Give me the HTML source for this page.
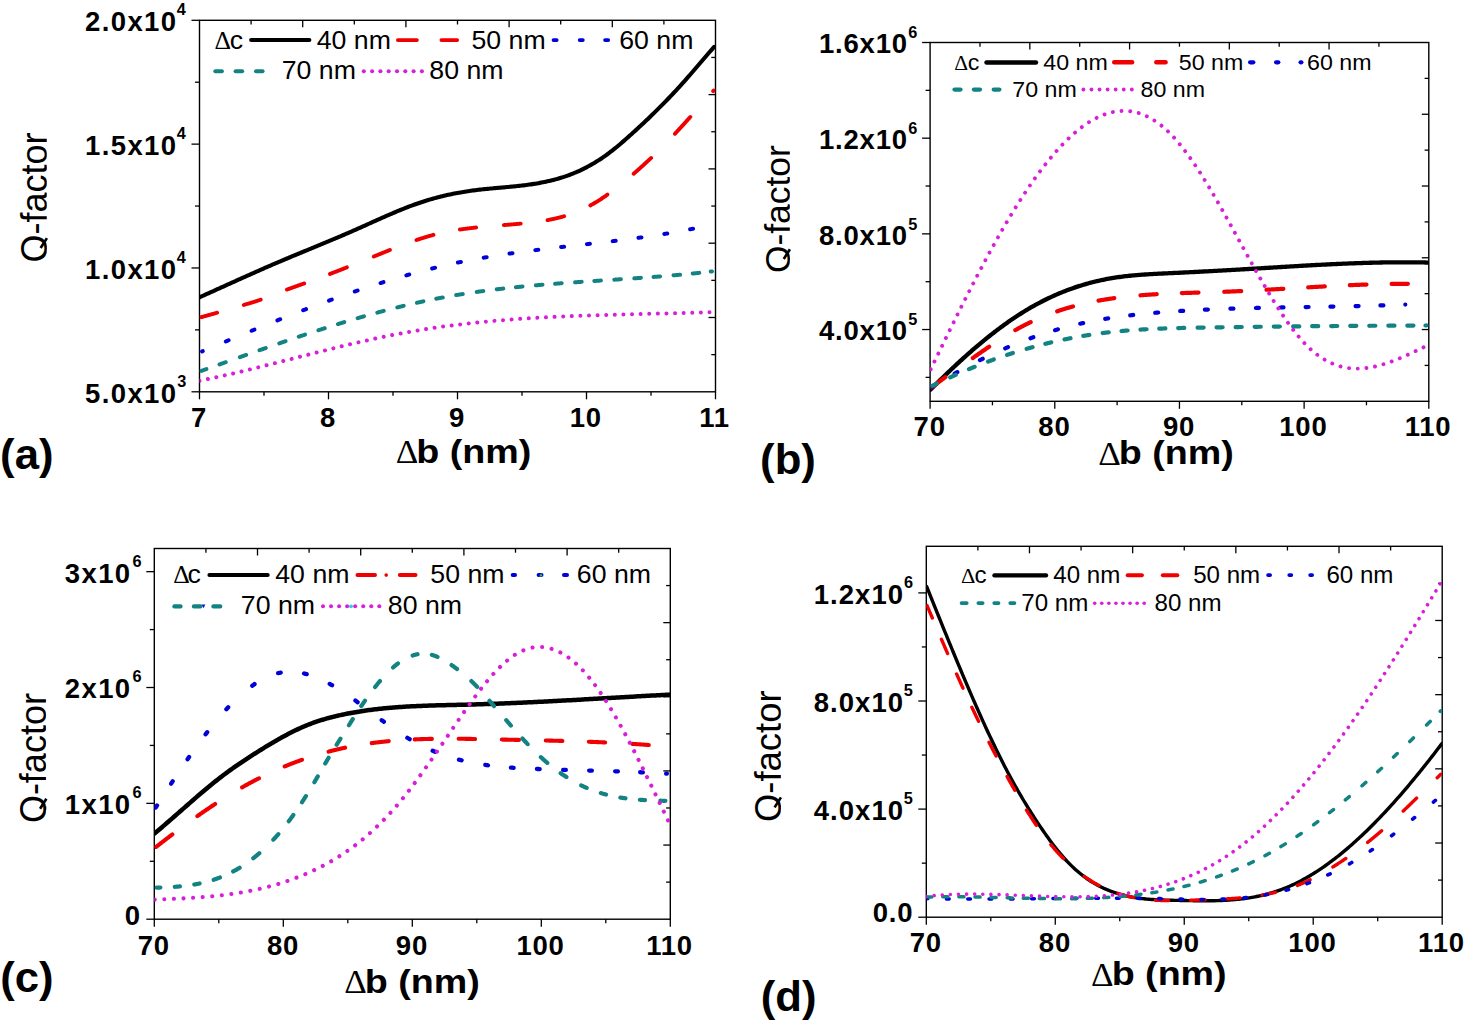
<!DOCTYPE html>
<html><head><meta charset="utf-8"><style>
html,body{margin:0;padding:0;background:#fff;}
svg{display:block;}
</style></head><body>
<svg width="1470" height="1024" viewBox="0 0 1470 1024">
<rect width="1470" height="1024" fill="#fff"/>
<clipPath id="ca"><rect x="199.5" y="20.3" width="516.0" height="371.5"/></clipPath>
<rect x="199.50" y="20.30" width="516.00" height="371.50" fill="none" stroke="#000" stroke-width="1.4"/>
<line x1="199.50" y1="391.80" x2="199.50" y2="399.30" stroke="#000" stroke-width="1.3" />
<line x1="328.50" y1="391.80" x2="328.50" y2="399.30" stroke="#000" stroke-width="1.3" />
<line x1="457.50" y1="391.80" x2="457.50" y2="399.30" stroke="#000" stroke-width="1.3" />
<line x1="586.50" y1="391.80" x2="586.50" y2="399.30" stroke="#000" stroke-width="1.3" />
<line x1="715.50" y1="391.80" x2="715.50" y2="399.30" stroke="#000" stroke-width="1.3" />
<line x1="264.00" y1="391.80" x2="264.00" y2="395.80" stroke="#000" stroke-width="1.3" />
<line x1="393.00" y1="391.80" x2="393.00" y2="395.80" stroke="#000" stroke-width="1.3" />
<line x1="522.00" y1="391.80" x2="522.00" y2="395.80" stroke="#000" stroke-width="1.3" />
<line x1="651.00" y1="391.80" x2="651.00" y2="395.80" stroke="#000" stroke-width="1.3" />
<line x1="199.50" y1="391.80" x2="191.50" y2="391.80" stroke="#000" stroke-width="1.3" />
<line x1="199.50" y1="267.97" x2="191.50" y2="267.97" stroke="#000" stroke-width="1.3" />
<line x1="199.50" y1="144.13" x2="191.50" y2="144.13" stroke="#000" stroke-width="1.3" />
<line x1="199.50" y1="20.30" x2="191.50" y2="20.30" stroke="#000" stroke-width="1.3" />
<line x1="199.50" y1="329.88" x2="195.00" y2="329.88" stroke="#000" stroke-width="1.3" />
<line x1="199.50" y1="206.05" x2="195.00" y2="206.05" stroke="#000" stroke-width="1.3" />
<line x1="199.50" y1="82.22" x2="195.00" y2="82.22" stroke="#000" stroke-width="1.3" />
<line x1="251.10" y1="20.30" x2="251.10" y2="24.50" stroke="#000" stroke-width="1.3" />
<line x1="715.50" y1="57.45" x2="711.30" y2="57.45" stroke="#000" stroke-width="1.3" />
<line x1="302.70" y1="20.30" x2="302.70" y2="27.30" stroke="#000" stroke-width="1.3" />
<line x1="715.50" y1="94.60" x2="708.50" y2="94.60" stroke="#000" stroke-width="1.3" />
<line x1="354.30" y1="20.30" x2="354.30" y2="24.50" stroke="#000" stroke-width="1.3" />
<line x1="715.50" y1="131.75" x2="711.30" y2="131.75" stroke="#000" stroke-width="1.3" />
<line x1="405.90" y1="20.30" x2="405.90" y2="27.30" stroke="#000" stroke-width="1.3" />
<line x1="715.50" y1="168.90" x2="708.50" y2="168.90" stroke="#000" stroke-width="1.3" />
<line x1="457.50" y1="20.30" x2="457.50" y2="24.50" stroke="#000" stroke-width="1.3" />
<line x1="715.50" y1="206.05" x2="711.30" y2="206.05" stroke="#000" stroke-width="1.3" />
<line x1="509.10" y1="20.30" x2="509.10" y2="27.30" stroke="#000" stroke-width="1.3" />
<line x1="715.50" y1="243.20" x2="708.50" y2="243.20" stroke="#000" stroke-width="1.3" />
<line x1="560.70" y1="20.30" x2="560.70" y2="24.50" stroke="#000" stroke-width="1.3" />
<line x1="715.50" y1="280.35" x2="711.30" y2="280.35" stroke="#000" stroke-width="1.3" />
<line x1="612.30" y1="20.30" x2="612.30" y2="27.30" stroke="#000" stroke-width="1.3" />
<line x1="715.50" y1="317.50" x2="708.50" y2="317.50" stroke="#000" stroke-width="1.3" />
<line x1="663.90" y1="20.30" x2="663.90" y2="24.50" stroke="#000" stroke-width="1.3" />
<line x1="715.50" y1="354.65" x2="711.30" y2="354.65" stroke="#000" stroke-width="1.3" />
<text transform="translate(84.95,31.20) scale(1.0,1)" style="font-family:'Liberation Sans', sans-serif;font-weight:bold;font-size:27.5px;letter-spacing:1.4px" fill="#000">2.0x10</text>
<text transform="translate(176.84,15.20) scale(1.0,1)" style="font-family:'Liberation Sans', sans-serif;font-weight:bold;font-size:16.3px" fill="#000">4</text>
<text transform="translate(84.95,155.03) scale(1.0,1)" style="font-family:'Liberation Sans', sans-serif;font-weight:bold;font-size:27.5px;letter-spacing:1.4px" fill="#000">1.5x10</text>
<text transform="translate(176.84,139.03) scale(1.0,1)" style="font-family:'Liberation Sans', sans-serif;font-weight:bold;font-size:16.3px" fill="#000">4</text>
<text transform="translate(84.95,278.87) scale(1.0,1)" style="font-family:'Liberation Sans', sans-serif;font-weight:bold;font-size:27.5px;letter-spacing:1.4px" fill="#000">1.0x10</text>
<text transform="translate(176.84,262.87) scale(1.0,1)" style="font-family:'Liberation Sans', sans-serif;font-weight:bold;font-size:16.3px" fill="#000">4</text>
<text transform="translate(84.95,402.70) scale(1.0,1)" style="font-family:'Liberation Sans', sans-serif;font-weight:bold;font-size:27.5px;letter-spacing:1.4px" fill="#000">5.0x10</text>
<text transform="translate(177.32,386.70) scale(1.0,1)" style="font-family:'Liberation Sans', sans-serif;font-weight:bold;font-size:16.3px" fill="#000">3</text>
<text transform="translate(190.97,426.80) scale(1.0,1)" style="font-family:'Liberation Sans', sans-serif;font-weight:bold;font-size:27.5px;letter-spacing:0.8px" fill="#000">7</text>
<text transform="translate(319.97,426.80) scale(1.0,1)" style="font-family:'Liberation Sans', sans-serif;font-weight:bold;font-size:27.5px;letter-spacing:0.8px" fill="#000">8</text>
<text transform="translate(448.97,426.80) scale(1.0,1)" style="font-family:'Liberation Sans', sans-serif;font-weight:bold;font-size:27.5px;letter-spacing:0.8px" fill="#000">9</text>
<text transform="translate(569.66,426.80) scale(1.0,1)" style="font-family:'Liberation Sans', sans-serif;font-weight:bold;font-size:27.5px;letter-spacing:0.8px" fill="#000">10</text>
<text transform="translate(699.21,426.80) scale(1.0,1)" style="font-family:'Liberation Sans', sans-serif;font-weight:bold;font-size:27.5px;letter-spacing:0.8px" fill="#000">11</text>
<text transform="translate(395.70,463.40) scale(1.07,1)" style="font-family:'Liberation Serif', serif;font-weight:normal;font-size:32.8px" fill="#000">Δ</text>
<text transform="translate(416.25,463.20) scale(1.155,1)" style="font-family:'Liberation Sans', sans-serif;font-weight:bold;font-size:32.6px" fill="#000">b (nm)</text>
<text transform="translate(0.12,469.30) scale(1.04,1)" style="font-family:'Liberation Sans', sans-serif;font-weight:bold;font-size:42px" fill="#000">(a)</text>
<clipPath id="qc0"><rect x="-33.45" y="40.80" width="80.30" height="260"/></clipPath>
<g clip-path="url(#qc0)"><text transform="translate(46.55,262.42) scale(1.0,1) rotate(-90)" style="font-family:'Liberation Sans', sans-serif;font-weight:normal;font-size:36px">Q-factor</text></g>
<line x1="40.61" y1="248.02" x2="46.91" y2="238.12" stroke="#000" stroke-width="2.66" stroke-linecap="butt"/>
<path d="M199.40,297.34 L200.90,296.67 L202.40,296.00 L203.90,295.32 L205.40,294.65 L206.90,293.97 L208.40,293.30 L209.90,292.62 L211.40,291.94 L212.90,291.26 L214.40,290.59 L215.90,289.91 L217.40,289.23 L218.90,288.55 L220.40,287.87 L221.90,287.19 L223.40,286.52 L224.90,285.84 L226.40,285.16 L227.90,284.48 L229.40,283.80 L230.90,283.12 L232.40,282.45 L233.90,281.77 L235.40,281.09 L236.90,280.42 L238.40,279.74 L239.90,279.06 L241.40,278.39 L242.90,277.72 L244.40,277.04 L245.90,276.37 L247.40,275.70 L248.90,275.03 L250.40,274.36 L251.90,273.69 L253.40,273.03 L254.90,272.36 L256.40,271.69 L257.90,271.03 L259.40,270.37 L260.90,269.71 L262.40,269.05 L263.90,268.39 L265.40,267.74 L266.90,267.08 L268.40,266.43 L269.90,265.78 L271.40,265.13 L272.90,264.48 L274.40,263.84 L275.90,263.19 L277.40,262.55 L278.90,261.91 L280.40,261.28 L281.90,260.64 L283.40,260.01 L284.90,259.37 L286.40,258.74 L287.90,258.11 L289.40,257.49 L290.90,256.86 L292.40,256.23 L293.90,255.61 L295.40,254.99 L296.90,254.36 L298.40,253.74 L299.90,253.12 L301.40,252.50 L302.90,251.88 L304.40,251.26 L305.90,250.64 L307.40,250.02 L308.90,249.40 L310.40,248.79 L311.90,248.17 L313.40,247.55 L314.90,246.93 L316.40,246.31 L317.90,245.69 L319.40,245.07 L320.90,244.45 L322.40,243.83 L323.90,243.20 L325.40,242.58 L326.90,241.96 L328.40,241.33 L329.90,240.70 L331.40,240.08 L332.90,239.45 L334.40,238.82 L335.90,238.18 L337.40,237.55 L338.90,236.92 L340.40,236.28 L341.90,235.64 L343.40,235.00 L344.90,234.36 L346.40,233.71 L347.90,233.06 L349.40,232.41 L350.90,231.76 L352.40,231.11 L353.90,230.45 L355.40,229.79 L356.90,229.13 L358.40,228.46 L359.90,227.79 L361.40,227.12 L362.90,226.45 L364.40,225.78 L365.90,225.10 L367.40,224.43 L368.90,223.75 L370.40,223.08 L371.90,222.40 L373.40,221.73 L374.90,221.05 L376.40,220.38 L377.90,219.71 L379.40,219.04 L380.90,218.37 L382.40,217.70 L383.90,217.04 L385.40,216.38 L386.90,215.72 L388.40,215.07 L389.90,214.41 L391.40,213.77 L392.90,213.13 L394.40,212.49 L395.90,211.86 L397.40,211.23 L398.90,210.61 L400.40,210.00 L401.90,209.39 L403.40,208.79 L404.90,208.19 L406.40,207.60 L407.90,207.02 L409.40,206.45 L410.90,205.89 L412.40,205.33 L413.90,204.78 L415.40,204.24 L416.90,203.72 L418.40,203.20 L419.90,202.69 L421.40,202.19 L422.90,201.70 L424.40,201.22 L425.90,200.75 L427.40,200.29 L428.90,199.83 L430.40,199.39 L431.90,198.96 L433.40,198.53 L434.90,198.12 L436.40,197.71 L437.90,197.32 L439.40,196.93 L440.90,196.55 L442.40,196.18 L443.90,195.82 L445.40,195.47 L446.90,195.12 L448.40,194.79 L449.90,194.46 L451.40,194.15 L452.90,193.84 L454.40,193.54 L455.90,193.24 L457.40,192.96 L458.90,192.69 L460.40,192.42 L461.90,192.16 L463.40,191.91 L464.90,191.66 L466.40,191.43 L467.90,191.20 L469.40,190.98 L470.90,190.77 L472.40,190.57 L473.90,190.37 L475.40,190.18 L476.90,190.00 L478.40,189.82 L479.90,189.65 L481.40,189.48 L482.90,189.32 L484.40,189.16 L485.90,189.01 L487.40,188.86 L488.90,188.72 L490.40,188.57 L491.90,188.43 L493.40,188.29 L494.90,188.16 L496.40,188.02 L497.90,187.89 L499.40,187.75 L500.90,187.62 L502.40,187.48 L503.90,187.35 L505.40,187.21 L506.90,187.07 L508.40,186.93 L509.90,186.79 L511.40,186.65 L512.90,186.50 L514.40,186.35 L515.90,186.20 L517.40,186.04 L518.90,185.87 L520.40,185.71 L521.90,185.53 L523.40,185.35 L524.90,185.17 L526.40,184.97 L527.90,184.77 L529.40,184.57 L530.90,184.35 L532.40,184.13 L533.90,183.90 L535.40,183.66 L536.90,183.41 L538.40,183.15 L539.90,182.88 L541.40,182.60 L542.90,182.31 L544.40,182.01 L545.90,181.69 L547.40,181.37 L548.90,181.03 L550.40,180.68 L551.90,180.31 L553.40,179.93 L554.90,179.54 L556.40,179.13 L557.90,178.71 L559.40,178.27 L560.90,177.82 L562.40,177.35 L563.90,176.87 L565.40,176.36 L566.90,175.84 L568.40,175.31 L569.90,174.75 L571.40,174.18 L572.90,173.59 L574.40,172.97 L575.90,172.34 L577.40,171.69 L578.90,171.02 L580.40,170.33 L581.90,169.62 L583.40,168.88 L584.90,168.13 L586.40,167.35 L587.90,166.56 L589.40,165.74 L590.90,164.90 L592.40,164.04 L593.90,163.16 L595.40,162.26 L596.90,161.33 L598.40,160.38 L599.90,159.41 L601.40,158.42 L602.90,157.41 L604.40,156.37 L605.90,155.31 L607.40,154.22 L608.90,153.11 L610.40,151.98 L611.90,150.83 L613.40,149.65 L614.90,148.45 L616.40,147.23 L617.90,145.99 L619.40,144.73 L620.90,143.46 L622.40,142.17 L623.90,140.87 L625.40,139.56 L626.90,138.23 L628.40,136.90 L629.90,135.56 L631.40,134.21 L632.90,132.85 L634.40,131.49 L635.90,130.12 L637.40,128.74 L638.90,127.36 L640.40,125.97 L641.90,124.57 L643.40,123.17 L644.90,121.76 L646.40,120.34 L647.90,118.91 L649.40,117.47 L650.90,116.02 L652.40,114.57 L653.90,113.11 L655.40,111.64 L656.90,110.16 L658.40,108.67 L659.90,107.17 L661.40,105.66 L662.90,104.15 L664.40,102.62 L665.90,101.08 L667.40,99.53 L668.90,97.98 L670.40,96.41 L671.90,94.83 L673.40,93.24 L674.90,91.64 L676.40,90.03 L677.90,88.40 L679.40,86.77 L680.90,85.12 L682.40,83.47 L683.90,81.80 L685.40,80.11 L686.90,78.42 L688.40,76.71 L689.90,74.99 L691.40,73.26 L692.90,71.52 L694.40,69.77 L695.90,68.02 L697.40,66.26 L698.90,64.50 L700.40,62.73 L701.90,60.97 L703.40,59.21 L704.90,57.46 L706.40,55.71 L707.90,53.98 L709.40,52.25 L710.90,50.53 L712.40,48.83 L713.90,47.15 L714.10,46.93" fill="none" stroke="#000000" stroke-width="4.1" stroke-linecap="round" stroke-linejoin="round" clip-path="url(#ca)"/>
<path d="M201.28,317.14 L201.40,317.11 L201.80,317.00 L202.20,316.89 L202.60,316.78 L203.00,316.67 L203.40,316.55 L203.80,316.44 L204.20,316.33 L204.60,316.22 L205.00,316.11 L205.40,316.00 L205.80,315.89 L206.20,315.78 L206.60,315.67 L207.00,315.56 L207.40,315.45 L207.80,315.34 L208.20,315.22 L208.60,315.11 L209.00,315.00 L209.40,314.89 L209.80,314.78 L210.20,314.67 L210.60,314.56 L211.00,314.44 L211.40,314.33 L211.80,314.22 L212.20,314.11 L212.60,314.00 L213.00,313.89 L213.40,313.77 L213.80,313.66 L214.20,313.55 L214.60,313.44 L215.00,313.32 L215.40,313.21 L215.80,313.10 L216.20,312.99 L216.60,312.87 L217.00,312.76 L217.12,312.73 M243.77,304.98 L243.80,304.97 L244.20,304.85 L244.60,304.73 L245.00,304.61 L245.40,304.48 L245.80,304.36 L246.20,304.24 L246.60,304.12 L247.00,304.00 L247.40,303.88 L247.80,303.76 L248.20,303.63 L248.60,303.51 L249.00,303.39 L249.40,303.27 L249.80,303.14 L250.20,303.02 L250.60,302.90 L251.00,302.77 L251.40,302.65 L251.80,302.53 L252.20,302.40 L252.60,302.28 L253.00,302.16 L253.40,302.03 L253.80,301.91 L254.20,301.78 L254.60,301.66 L255.00,301.53 L255.40,301.41 L255.80,301.28 L256.20,301.15 L256.60,301.02 L257.00,300.90 L257.40,300.77 L257.80,300.64 L258.20,300.51 L258.60,300.38 L259.00,300.24 L259.40,300.11 L259.80,299.98 L260.20,299.84 L260.60,299.71 L260.66,299.69 M286.92,289.61 L287.00,289.58 L287.40,289.44 L287.80,289.29 L288.20,289.14 L288.60,288.99 L289.00,288.84 L289.40,288.70 L289.80,288.55 L290.20,288.40 L290.60,288.26 L291.00,288.11 L291.40,287.97 L291.80,287.83 L292.20,287.68 L292.60,287.54 L293.00,287.39 L293.40,287.25 L293.80,287.11 L294.20,286.97 L294.60,286.82 L295.00,286.68 L295.40,286.54 L295.80,286.40 L296.20,286.26 L296.60,286.11 L297.00,285.97 L297.40,285.83 L297.80,285.69 L298.20,285.55 L298.60,285.41 L299.00,285.27 L299.40,285.13 L299.80,284.99 L300.20,284.85 L300.60,284.71 L301.00,284.56 L301.40,284.42 L301.80,284.28 L302.20,284.14 L302.60,284.00 L303.00,283.86 L303.40,283.72 L303.80,283.58 L304.16,283.45 M330.02,273.92 L330.20,273.85 L330.60,273.70 L331.00,273.55 L331.40,273.40 L331.80,273.24 L332.20,273.09 L332.60,272.94 L333.00,272.78 L333.40,272.63 L333.80,272.47 L334.20,272.32 L334.60,272.17 L335.00,272.01 L335.40,271.86 L335.80,271.70 L336.20,271.55 L336.60,271.39 L337.00,271.24 L337.40,271.08 L337.80,270.93 L338.20,270.77 L338.60,270.62 L339.00,270.46 L339.40,270.31 L339.80,270.15 L340.20,269.99 L340.60,269.84 L341.00,269.68 L341.40,269.53 L341.80,269.37 L342.20,269.21 L342.60,269.06 L343.00,268.90 L343.40,268.74 L343.80,268.59 L344.20,268.43 L344.60,268.27 L345.00,268.11 L345.40,267.96 L345.80,267.80 L346.20,267.64 L346.60,267.48 L346.89,267.37 M373.80,256.53 L374.20,256.36 L374.60,256.20 L375.00,256.04 L375.40,255.87 L375.80,255.71 L376.20,255.54 L376.60,255.38 L377.00,255.22 L377.40,255.05 L377.80,254.89 L378.20,254.73 L378.60,254.56 L379.00,254.40 L379.40,254.23 L379.80,254.07 L380.20,253.91 L380.60,253.74 L381.00,253.58 L381.40,253.42 L381.80,253.25 L382.20,253.09 L382.60,252.93 L383.00,252.76 L383.40,252.60 L383.80,252.44 L384.20,252.28 L384.60,252.11 L385.00,251.95 L385.40,251.79 L385.80,251.63 L386.20,251.46 L386.60,251.30 L387.00,251.14 L387.40,250.98 L387.80,250.82 L388.20,250.65 L388.60,250.49 L389.00,250.33 L389.40,250.17 L389.80,250.01 L389.89,249.98 M416.45,240.02 L416.60,239.97 L417.00,239.83 L417.40,239.70 L417.80,239.57 L418.20,239.43 L418.60,239.30 L419.00,239.17 L419.40,239.04 L419.80,238.91 L420.20,238.78 L420.60,238.65 L421.00,238.52 L421.40,238.39 L421.80,238.27 L422.20,238.14 L422.60,238.01 L423.00,237.89 L423.40,237.76 L423.80,237.64 L424.20,237.52 L424.60,237.40 L425.00,237.27 L425.40,237.15 L425.80,237.03 L426.20,236.91 L426.60,236.79 L427.00,236.68 L427.40,236.56 L427.80,236.44 L428.20,236.32 L428.60,236.21 L429.00,236.09 L429.40,235.98 L429.80,235.87 L430.20,235.76 L430.60,235.64 L431.00,235.53 L431.40,235.42 L431.80,235.31 L432.20,235.21 L432.60,235.10 L433.00,234.99 L433.40,234.89 L433.41,234.88 M459.93,229.54 L460.20,229.50 L460.60,229.44 L461.00,229.38 L461.40,229.32 L461.80,229.26 L462.20,229.21 L462.60,229.15 L463.00,229.09 L463.40,229.04 L463.80,228.98 L464.20,228.93 L464.60,228.88 L465.00,228.82 L465.40,228.77 L465.80,228.72 L466.20,228.66 L466.60,228.61 L467.00,228.56 L467.40,228.51 L467.80,228.46 L468.20,228.41 L468.60,228.36 L469.00,228.31 L469.40,228.26 L469.80,228.22 L470.20,228.17 L470.60,228.12 L471.00,228.07 L471.40,228.03 L471.80,227.98 L472.20,227.94 L472.60,227.89 L473.00,227.85 L473.40,227.80 L473.80,227.76 L474.20,227.71 L474.60,227.67 L475.00,227.62 L475.40,227.58 L475.80,227.54 L476.06,227.51 M503.84,225.07 L504.20,225.04 L504.60,225.01 L505.00,224.98 L505.40,224.95 L505.80,224.91 L506.20,224.88 L506.60,224.85 L507.00,224.82 L507.40,224.78 L507.80,224.75 L508.20,224.72 L508.60,224.69 L509.00,224.65 L509.40,224.62 L509.80,224.59 L510.20,224.55 L510.60,224.52 L511.00,224.49 L511.40,224.45 L511.80,224.42 L512.20,224.39 L512.60,224.35 L513.00,224.32 L513.40,224.28 L513.80,224.25 L514.20,224.21 L514.60,224.18 L515.00,224.15 L515.40,224.11 L515.80,224.08 L516.20,224.04 L516.60,224.00 L517.00,223.97 L517.40,223.93 L517.80,223.90 L518.20,223.86 L518.60,223.82 L519.00,223.79 L519.40,223.75 L519.80,223.71 L520.20,223.68 L520.60,223.64 L520.66,223.63 M547.52,220.12 L547.80,220.07 L548.20,219.99 L548.60,219.92 L549.00,219.84 L549.40,219.76 L549.80,219.69 L550.20,219.61 L550.60,219.53 L551.00,219.45 L551.40,219.36 L551.80,219.28 L552.20,219.20 L552.60,219.11 L553.00,219.03 L553.40,218.94 L553.80,218.85 L554.20,218.76 L554.60,218.67 L555.00,218.58 L555.40,218.49 L555.80,218.40 L556.20,218.31 L556.60,218.21 L557.00,218.11 L557.40,218.02 L557.80,217.92 L558.20,217.82 L558.60,217.72 L559.00,217.62 L559.40,217.52 L559.80,217.41 L560.20,217.31 L560.60,217.20 L561.00,217.09 L561.40,216.99 L561.80,216.88 L562.20,216.77 L562.60,216.65 L563.00,216.54 L563.40,216.43 L563.80,216.31 L564.13,216.21 M590.32,205.45 L590.60,205.30 L591.00,205.08 L591.40,204.86 L591.80,204.63 L592.20,204.41 L592.60,204.18 L593.00,203.95 L593.40,203.72 L593.80,203.49 L594.20,203.25 L594.60,203.02 L595.00,202.78 L595.40,202.54 L595.80,202.30 L596.20,202.06 L596.60,201.81 L597.00,201.57 L597.40,201.32 L597.80,201.07 L598.20,200.82 L598.60,200.57 L599.00,200.32 L599.40,200.06 L599.80,199.81 L600.20,199.55 L600.60,199.29 L601.00,199.03 L601.40,198.76 L601.80,198.50 L602.20,198.24 L602.60,197.97 L603.00,197.70 L603.40,197.43 L603.80,197.16 L604.20,196.89 L604.60,196.61 L605.00,196.34 L605.40,196.06 L605.80,195.78 L606.20,195.50 L606.60,195.22 L607.00,194.94 L607.40,194.66 L607.42,194.65 M633.68,173.71 L633.80,173.61 L634.20,173.26 L634.60,172.91 L635.00,172.57 L635.40,172.22 L635.80,171.87 L636.20,171.52 L636.60,171.17 L637.00,170.82 L637.40,170.47 L637.80,170.12 L638.20,169.76 L638.60,169.41 L639.00,169.05 L639.40,168.70 L639.80,168.34 L640.20,167.99 L640.60,167.63 L641.00,167.27 L641.40,166.91 L641.80,166.55 L642.20,166.19 L642.60,165.83 L643.00,165.47 L643.40,165.11 L643.80,164.74 L644.20,164.38 L644.60,164.01 L645.00,163.65 L645.40,163.28 L645.80,162.91 L646.20,162.54 L646.60,162.17 L647.00,161.80 L647.40,161.43 L647.80,161.06 L648.20,160.69 L648.60,160.31 L649.00,159.94 L649.40,159.56 L649.80,159.19 L650.20,158.81 L650.60,158.43 L651.00,158.05 L651.09,157.96 M674.93,133.76 L675.00,133.69 L675.40,133.26 L675.80,132.83 L676.20,132.40 L676.60,131.97 L677.00,131.54 L677.40,131.11 L677.80,130.68 L678.20,130.25 L678.60,129.82 L679.00,129.38 L679.40,128.95 L679.80,128.51 L680.20,128.08 L680.60,127.64 L681.00,127.21 L681.40,126.77 L681.80,126.34 L682.20,125.90 L682.60,125.46 L683.00,125.02 L683.40,124.58 L683.80,124.14 L684.20,123.70 L684.60,123.26 L685.00,122.82 L685.40,122.38 L685.80,121.94 L686.20,121.50 L686.60,121.06 L687.00,120.61 L687.40,120.17 L687.80,119.73 L688.20,119.28 L688.60,118.84 L689.00,118.40 L689.40,117.95 L689.80,117.51 L690.20,117.06 L690.30,116.95 M713.19,91.10 L713.40,90.86 L713.71,90.51" fill="none" stroke="#f00000" stroke-width="3.9" stroke-linecap="round" stroke-linejoin="round" clip-path="url(#ca)"/>
<path d="M202.14,351.37 L202.30,351.30 L202.70,351.13 L202.78,351.10 M225.82,341.44 L225.90,341.40 L226.30,341.24 L226.70,341.07 L227.10,340.90 L227.50,340.74 L227.90,340.57 L228.30,340.40 L228.58,340.28 M251.61,330.76 L251.90,330.64 L252.30,330.48 L252.70,330.31 L253.10,330.15 L253.50,329.98 L253.90,329.82 L254.30,329.66 L254.39,329.62 M277.41,320.32 L277.50,320.28 L277.90,320.13 L278.30,319.97 L278.70,319.81 L279.10,319.65 L279.50,319.49 L279.90,319.33 L280.19,319.21 M303.20,310.23 L303.50,310.12 L303.90,309.96 L304.30,309.81 L304.70,309.66 L305.10,309.51 L305.50,309.35 L305.90,309.20 L306.00,309.16 M328.99,300.59 L329.10,300.55 L329.50,300.40 L329.90,300.26 L330.30,300.11 L330.70,299.97 L331.10,299.82 L331.50,299.68 L331.81,299.57 M354.78,291.49 L355.10,291.38 L355.50,291.25 L355.90,291.11 L356.30,290.97 L356.70,290.84 L357.10,290.70 L357.50,290.57 L357.62,290.53 M380.57,283.04 L380.70,283.00 L381.10,282.87 L381.50,282.75 L381.90,282.62 L382.30,282.50 L382.70,282.37 L383.10,282.25 L383.43,282.15 M406.36,275.34 L406.70,275.24 L407.10,275.13 L407.50,275.01 L407.90,274.90 L408.30,274.79 L408.70,274.68 L409.10,274.57 L409.24,274.53 M432.14,268.48 L432.30,268.44 L432.70,268.34 L433.10,268.24 L433.50,268.15 L433.90,268.05 L434.30,267.95 L434.70,267.85 L435.06,267.76 M457.93,262.57 L458.30,262.49 L458.70,262.41 L459.10,262.33 L459.50,262.24 L459.90,262.16 L460.30,262.08 L460.70,262.00 L460.87,261.96 M483.72,257.66 L483.90,257.63 L484.30,257.56 L484.70,257.50 L485.10,257.43 L485.50,257.36 L485.90,257.29 L486.30,257.22 L486.68,257.16 M509.52,253.60 L509.90,253.54 L510.30,253.49 L510.70,253.43 L511.10,253.37 L511.50,253.31 L511.90,253.26 L512.30,253.20 L512.49,253.17 M535.31,250.14 L535.50,250.12 L535.90,250.07 L536.30,250.02 L536.70,249.97 L537.10,249.92 L537.50,249.87 L537.90,249.82 L538.29,249.77 M561.11,247.07 L561.50,247.02 L561.90,246.98 L562.30,246.93 L562.70,246.89 L563.10,246.84 L563.50,246.80 L563.90,246.75 L564.09,246.73 M586.91,244.14 L587.10,244.12 L587.50,244.08 L587.90,244.03 L588.30,243.99 L588.70,243.94 L589.10,243.90 L589.50,243.85 L589.89,243.81 M612.71,241.14 L613.10,241.09 L613.50,241.04 L613.90,240.99 L614.30,240.94 L614.70,240.90 L615.10,240.85 L615.50,240.80 L615.69,240.77 M638.51,237.82 L638.70,237.79 L639.10,237.74 L639.50,237.68 L639.90,237.63 L640.30,237.57 L640.70,237.52 L641.10,237.46 L641.49,237.41 M664.32,233.96 L664.70,233.90 L665.10,233.83 L665.50,233.76 L665.90,233.70 L666.30,233.63 L666.70,233.57 L667.10,233.50 L667.28,233.47 M690.13,229.32 L690.30,229.29 L690.70,229.21 L691.10,229.13 L691.50,229.05 L691.90,228.97 L692.30,228.89 L692.70,228.81 L693.07,228.73" fill="none" stroke="#0000d8" stroke-width="4.0" stroke-linecap="round" stroke-linejoin="round" clip-path="url(#ca)"/>
<path d="M201.28,370.90 L201.40,370.86 L201.80,370.72 L202.20,370.57 L202.60,370.43 L203.00,370.29 L203.40,370.15 L203.80,370.00 L204.20,369.86 L204.60,369.72 L205.00,369.58 L205.40,369.44 L205.80,369.29 L206.20,369.15 L206.41,369.08 M219.49,364.41 L219.80,364.30 L220.20,364.16 L220.60,364.02 L221.00,363.87 L221.40,363.73 L221.80,363.59 L222.20,363.45 L222.60,363.30 L223.00,363.16 L223.40,363.02 L223.80,362.87 L224.20,362.73 L224.60,362.59 L225.00,362.45 L225.40,362.30 L225.71,362.19 M239.89,357.15 L240.20,357.04 L240.60,356.89 L241.00,356.75 L241.40,356.61 L241.80,356.47 L242.20,356.33 L242.60,356.18 L243.00,356.04 L243.40,355.90 L243.80,355.76 L244.20,355.62 L244.60,355.47 L245.00,355.33 L245.40,355.19 L245.80,355.05 L246.11,354.94 M259.49,350.22 L259.80,350.11 L260.20,349.97 L260.60,349.83 L261.00,349.69 L261.40,349.55 L261.80,349.41 L262.20,349.27 L262.60,349.13 L263.00,348.99 L263.40,348.85 L263.80,348.71 L264.20,348.57 L264.60,348.43 L265.00,348.29 L265.40,348.15 L265.71,348.04 M279.28,343.33 L279.40,343.29 L279.80,343.15 L280.20,343.02 L280.60,342.88 L281.00,342.74 L281.40,342.60 L281.80,342.47 L282.20,342.33 L282.60,342.19 L283.00,342.06 L283.40,341.92 L283.80,341.78 L284.20,341.64 L284.60,341.51 L285.00,341.37 L285.40,341.23 L285.52,341.19 M298.77,336.71 L299.00,336.63 L299.40,336.50 L299.80,336.36 L300.20,336.23 L300.60,336.10 L301.00,335.96 L301.40,335.83 L301.80,335.70 L302.20,335.56 L302.60,335.43 L303.00,335.30 L303.40,335.16 L303.80,335.03 L304.20,334.90 L304.60,334.76 L305.00,334.63 L305.03,334.62 M318.46,330.23 L318.60,330.18 L319.00,330.05 L319.40,329.92 L319.80,329.79 L320.20,329.66 L320.60,329.54 L321.00,329.41 L321.40,329.28 L321.80,329.15 L322.20,329.02 L322.60,328.89 L323.00,328.77 L323.40,328.64 L323.80,328.51 L324.20,328.38 L324.60,328.25 L324.74,328.21 M337.95,324.07 L338.20,323.99 L338.60,323.86 L339.00,323.74 L339.40,323.62 L339.80,323.50 L340.20,323.37 L340.60,323.25 L341.00,323.13 L341.40,323.01 L341.80,322.88 L342.20,322.76 L342.60,322.64 L343.00,322.52 L343.40,322.40 L343.80,322.27 L344.20,322.15 L344.26,322.14 M357.63,318.16 L357.80,318.11 L358.20,317.99 L358.60,317.87 L359.00,317.76 L359.40,317.64 L359.80,317.53 L360.20,317.41 L360.60,317.30 L361.00,317.18 L361.40,317.07 L361.80,316.95 L362.20,316.84 L362.60,316.72 L363.00,316.61 L363.40,316.49 L363.80,316.38 L363.97,316.33 M377.31,312.61 L377.40,312.59 L377.80,312.48 L378.20,312.37 L378.60,312.26 L379.00,312.16 L379.40,312.05 L379.80,311.94 L380.20,311.83 L380.60,311.73 L381.00,311.62 L381.40,311.51 L381.80,311.40 L382.20,311.30 L382.60,311.19 L383.00,311.09 L383.40,310.98 L383.69,310.90 M397.30,307.41 L397.40,307.38 L397.80,307.28 L398.20,307.19 L398.60,307.09 L399.00,306.99 L399.40,306.89 L399.80,306.79 L400.20,306.69 L400.60,306.59 L401.00,306.50 L401.40,306.40 L401.80,306.30 L402.20,306.21 L402.60,306.11 L403.00,306.01 L403.40,305.91 L403.71,305.84 M416.98,302.76 L417.00,302.75 L417.40,302.66 L417.80,302.58 L418.20,302.49 L418.60,302.40 L419.00,302.31 L419.40,302.22 L419.80,302.13 L420.20,302.05 L420.60,301.96 L421.00,301.87 L421.40,301.78 L421.80,301.70 L422.20,301.61 L422.60,301.52 L423.00,301.44 L423.40,301.35 L423.42,301.35 M436.26,298.71 L436.60,298.64 L437.00,298.56 L437.40,298.48 L437.80,298.41 L438.20,298.33 L438.60,298.25 L439.00,298.17 L439.40,298.10 L439.80,298.02 L440.20,297.94 L440.60,297.87 L441.00,297.79 L441.40,297.72 L441.80,297.64 L442.20,297.57 L442.60,297.49 L442.74,297.46 M456.24,295.08 L456.60,295.02 L457.00,294.95 L457.40,294.88 L457.80,294.82 L458.20,294.75 L458.60,294.69 L459.00,294.62 L459.40,294.56 L459.80,294.49 L460.20,294.42 L460.60,294.36 L461.00,294.30 L461.40,294.23 L461.80,294.17 L462.20,294.10 L462.60,294.04 L462.76,294.01 M476.73,291.92 L477.00,291.88 L477.40,291.83 L477.80,291.77 L478.20,291.72 L478.60,291.66 L479.00,291.60 L479.40,291.55 L479.80,291.49 L480.20,291.44 L480.60,291.38 L481.00,291.33 L481.40,291.27 L481.80,291.22 L482.20,291.17 L482.60,291.11 L483.00,291.06 L483.27,291.02 M496.72,289.32 L497.00,289.29 L497.40,289.24 L497.80,289.19 L498.20,289.15 L498.60,289.10 L499.00,289.05 L499.40,289.00 L499.80,288.96 L500.20,288.91 L500.60,288.87 L501.00,288.82 L501.40,288.77 L501.80,288.73 L502.20,288.68 L502.60,288.64 L503.00,288.59 L503.28,288.56 M515.92,287.20 L516.20,287.17 L516.60,287.13 L517.00,287.09 L517.40,287.05 L517.80,287.01 L518.20,286.97 L518.60,286.93 L519.00,286.89 L519.40,286.85 L519.80,286.81 L520.20,286.77 L520.60,286.73 L521.00,286.69 L521.40,286.65 L521.80,286.61 L522.20,286.57 L522.48,286.55 M535.91,285.31 L536.20,285.29 L536.60,285.25 L537.00,285.22 L537.40,285.18 L537.80,285.15 L538.20,285.11 L538.60,285.08 L539.00,285.04 L539.40,285.01 L539.80,284.98 L540.20,284.94 L540.60,284.91 L541.00,284.87 L541.40,284.84 L541.80,284.81 L542.20,284.77 L542.49,284.75 M555.11,283.74 L555.40,283.72 L555.80,283.68 L556.20,283.65 L556.60,283.62 L557.00,283.59 L557.40,283.56 L557.80,283.53 L558.20,283.50 L558.60,283.47 L559.00,283.44 L559.40,283.41 L559.80,283.38 L560.20,283.35 L560.60,283.32 L561.00,283.29 L561.40,283.26 L561.69,283.24 M575.11,282.28 L575.40,282.26 L575.80,282.23 L576.20,282.20 L576.60,282.18 L577.00,282.15 L577.40,282.12 L577.80,282.09 L578.20,282.06 L578.60,282.04 L579.00,282.01 L579.40,281.98 L579.80,281.96 L580.20,281.93 L580.60,281.90 L581.00,281.87 L581.40,281.85 L581.69,281.83 M594.31,280.98 L594.60,280.96 L595.00,280.94 L595.40,280.91 L595.80,280.88 L596.20,280.86 L596.60,280.83 L597.00,280.81 L597.40,280.78 L597.80,280.75 L598.20,280.73 L598.60,280.70 L599.00,280.67 L599.40,280.65 L599.80,280.62 L600.20,280.60 L600.60,280.57 L600.89,280.55 M614.31,279.67 L614.60,279.65 L615.00,279.63 L615.40,279.60 L615.80,279.57 L616.20,279.55 L616.60,279.52 L617.00,279.49 L617.40,279.47 L617.80,279.44 L618.20,279.42 L618.60,279.39 L619.00,279.36 L619.40,279.34 L619.80,279.31 L620.20,279.28 L620.60,279.26 L620.89,279.24 M634.31,278.33 L634.60,278.31 L635.00,278.28 L635.40,278.25 L635.80,278.22 L636.20,278.20 L636.60,278.17 L637.00,278.14 L637.40,278.11 L637.80,278.09 L638.20,278.06 L638.60,278.03 L639.00,278.00 L639.40,277.97 L639.80,277.94 L640.20,277.92 L640.60,277.89 L640.89,277.87 M653.51,276.94 L653.80,276.92 L654.20,276.89 L654.60,276.86 L655.00,276.83 L655.40,276.79 L655.80,276.76 L656.20,276.73 L656.60,276.70 L657.00,276.67 L657.40,276.64 L657.80,276.61 L658.20,276.58 L658.60,276.55 L659.00,276.52 L659.40,276.48 L659.80,276.45 L660.09,276.43 M673.51,275.32 L673.80,275.29 L674.20,275.26 L674.60,275.22 L675.00,275.19 L675.40,275.15 L675.80,275.12 L676.20,275.08 L676.60,275.05 L677.00,275.01 L677.40,274.98 L677.80,274.94 L678.20,274.90 L678.60,274.87 L679.00,274.83 L679.40,274.80 L679.80,274.76 L680.09,274.73 M692.72,273.53 L693.00,273.50 L693.40,273.46 L693.80,273.42 L694.20,273.38 L694.60,273.34 L695.00,273.30 L695.40,273.25 L695.80,273.21 L696.20,273.17 L696.60,273.13 L697.00,273.09 L697.40,273.05 L697.80,273.01 L698.20,272.96 L698.60,272.92 L699.00,272.88 L699.28,272.85 M710.72,271.58 L711.00,271.55 L711.40,271.50 L711.80,271.45 L712.01,271.43" fill="none" stroke="#128282" stroke-width="4.0" stroke-linecap="round" stroke-linejoin="round" clip-path="url(#ca)"/>
<path d="M199.50,380.81 L201.00,380.50 L202.50,380.20 L204.00,379.89 L205.50,379.58 L207.00,379.26 L208.50,378.95 L210.00,378.63 L211.50,378.30 L213.00,377.98 L214.50,377.66 L216.00,377.33 L217.50,377.00 L219.00,376.67 L220.50,376.33 L222.00,375.99 L223.50,375.66 L225.00,375.32 L226.50,374.97 L228.00,374.63 L229.50,374.29 L231.00,373.94 L232.50,373.59 L234.00,373.24 L235.50,372.89 L237.00,372.53 L238.50,372.18 L240.00,371.82 L241.50,371.46 L243.00,371.10 L244.50,370.74 L246.00,370.38 L247.50,370.01 L249.00,369.65 L250.50,369.28 L252.00,368.91 L253.50,368.55 L255.00,368.18 L256.50,367.81 L258.00,367.43 L259.50,367.06 L261.00,366.69 L262.50,366.31 L264.00,365.94 L265.50,365.56 L267.00,365.18 L268.50,364.81 L270.00,364.43 L271.50,364.05 L273.00,363.67 L274.50,363.29 L276.00,362.91 L277.50,362.53 L279.00,362.14 L280.50,361.76 L282.00,361.38 L283.50,361.00 L285.00,360.61 L286.50,360.23 L288.00,359.85 L289.50,359.46 L291.00,359.08 L292.50,358.69 L294.00,358.31 L295.50,357.93 L297.00,357.54 L298.50,357.16 L300.00,356.77 L301.50,356.39 L303.00,356.01 L304.50,355.62 L306.00,355.24 L307.50,354.86 L309.00,354.48 L310.50,354.09 L312.00,353.71 L313.50,353.33 L315.00,352.95 L316.50,352.57 L318.00,352.19 L319.50,351.81 L321.00,351.44 L322.50,351.06 L324.00,350.68 L325.50,350.31 L327.00,349.93 L328.50,349.56 L330.00,349.19 L331.50,348.81 L333.00,348.44 L334.50,348.07 L336.00,347.71 L337.50,347.34 L339.00,346.97 L340.50,346.61 L342.00,346.24 L343.50,345.88 L345.00,345.52 L346.50,345.16 L348.00,344.80 L349.50,344.44 L351.00,344.09 L352.50,343.73 L354.00,343.38 L355.50,343.03 L357.00,342.68 L358.50,342.34 L360.00,341.99 L361.50,341.65 L363.00,341.31 L364.50,340.97 L366.00,340.63 L367.50,340.29 L369.00,339.96 L370.50,339.63 L372.00,339.30 L373.50,338.97 L375.00,338.64 L376.50,338.32 L378.00,338.00 L379.50,337.68 L381.00,337.36 L382.50,337.05 L384.00,336.74 L385.50,336.43 L387.00,336.12 L388.50,335.81 L390.00,335.51 L391.50,335.21 L393.00,334.92 L394.50,334.62 L396.00,334.33 L397.50,334.04 L399.00,333.76 L400.50,333.48 L402.00,333.20 L403.50,332.92 L405.00,332.65 L406.50,332.37 L408.00,332.11 L409.50,331.84 L411.00,331.58 L412.50,331.32 L414.00,331.06 L415.50,330.81 L417.00,330.55 L418.50,330.31 L420.00,330.06 L421.50,329.82 L423.00,329.58 L424.50,329.34 L426.00,329.10 L427.50,328.87 L429.00,328.64 L430.50,328.41 L432.00,328.19 L433.50,327.96 L435.00,327.74 L436.50,327.53 L438.00,327.31 L439.50,327.10 L441.00,326.89 L442.50,326.68 L444.00,326.48 L445.50,326.27 L447.00,326.07 L448.50,325.88 L450.00,325.68 L451.50,325.49 L453.00,325.30 L454.50,325.11 L456.00,324.92 L457.50,324.74 L459.00,324.56 L460.50,324.38 L462.00,324.20 L463.50,324.02 L465.00,323.85 L466.50,323.68 L468.00,323.51 L469.50,323.35 L471.00,323.18 L472.50,323.02 L474.00,322.86 L475.50,322.70 L477.00,322.55 L478.50,322.39 L480.00,322.24 L481.50,322.09 L483.00,321.94 L484.50,321.80 L486.00,321.65 L487.50,321.51 L489.00,321.37 L490.50,321.23 L492.00,321.10 L493.50,320.96 L495.00,320.83 L496.50,320.70 L498.00,320.57 L499.50,320.44 L501.00,320.32 L502.50,320.19 L504.00,320.07 L505.50,319.95 L507.00,319.83 L508.50,319.71 L510.00,319.60 L511.50,319.49 L513.00,319.37 L514.50,319.26 L516.00,319.15 L517.50,319.05 L519.00,318.94 L520.50,318.84 L522.00,318.74 L523.50,318.63 L525.00,318.53 L526.50,318.44 L528.00,318.34 L529.50,318.25 L531.00,318.15 L532.50,318.06 L534.00,317.97 L535.50,317.88 L537.00,317.79 L538.50,317.70 L540.00,317.62 L541.50,317.53 L543.00,317.45 L544.50,317.37 L546.00,317.29 L547.50,317.21 L549.00,317.13 L550.50,317.06 L552.00,316.98 L553.50,316.91 L555.00,316.83 L556.50,316.76 L558.00,316.69 L559.50,316.62 L561.00,316.55 L562.50,316.48 L564.00,316.42 L565.50,316.35 L567.00,316.29 L568.50,316.22 L570.00,316.16 L571.50,316.10 L573.00,316.04 L574.50,315.98 L576.00,315.92 L577.50,315.86 L579.00,315.81 L580.50,315.75 L582.00,315.69 L583.50,315.64 L585.00,315.59 L586.50,315.53 L588.00,315.48 L589.50,315.43 L591.00,315.38 L592.50,315.33 L594.00,315.28 L595.50,315.23 L597.00,315.18 L598.50,315.13 L600.00,315.09 L601.50,315.04 L603.00,315.00 L604.50,314.95 L606.00,314.91 L607.50,314.86 L609.00,314.82 L610.50,314.78 L612.00,314.73 L613.50,314.69 L615.00,314.65 L616.50,314.61 L618.00,314.57 L619.50,314.53 L621.00,314.49 L622.50,314.45 L624.00,314.41 L625.50,314.37 L627.00,314.34 L628.50,314.30 L630.00,314.26 L631.50,314.22 L633.00,314.18 L634.50,314.15 L636.00,314.11 L637.50,314.07 L639.00,314.04 L640.50,314.00 L642.00,313.97 L643.50,313.93 L645.00,313.89 L646.50,313.86 L648.00,313.82 L649.50,313.79 L651.00,313.75 L652.50,313.71 L654.00,313.68 L655.50,313.64 L657.00,313.61 L658.50,313.57 L660.00,313.54 L661.50,313.50 L663.00,313.46 L664.50,313.43 L666.00,313.39 L667.50,313.36 L669.00,313.32 L670.50,313.28 L672.00,313.25 L673.50,313.21 L675.00,313.17 L676.50,313.13 L678.00,313.10 L679.50,313.06 L681.00,313.02 L682.50,312.98 L684.00,312.94 L685.50,312.90 L687.00,312.86 L688.50,312.82 L690.00,312.78 L691.50,312.74 L693.00,312.70 L694.50,312.66 L696.00,312.61 L697.50,312.57 L699.00,312.53 L700.50,312.48 L702.00,312.44 L703.50,312.39 L705.00,312.35 L706.50,312.30 L708.00,312.26 L709.50,312.21 L711.00,312.16 L712.50,312.11 L714.00,312.06 L715.00,312.03" fill="none" stroke="#d81ed8" stroke-width="4.0" stroke-linecap="round" stroke-linejoin="round" stroke-dasharray="0.01 8.6" clip-path="url(#ca)"/>
<text transform="translate(214.47,48.70) scale(1.05,1)" style="font-family:'Liberation Serif', serif;font-weight:normal;font-size:24.5px" fill="#000">Δ</text>
<text transform="translate(229.73,48.70) scale(1.035,1)" style="font-family:'Liberation Sans', sans-serif;font-weight:normal;font-size:25.8px" fill="#000">c</text>
<line x1="251.20" y1="40.00" x2="309.30" y2="40.00" stroke="#000000" stroke-width="4.2" stroke-linecap="round"/>
<text transform="translate(316.67,48.70) scale(1.035,1)" style="font-family:'Liberation Sans', sans-serif;font-weight:normal;font-size:25.8px" fill="#000">40 nm</text>
<line x1="397.90" y1="40.10" x2="416.90" y2="40.10" stroke="#f00000" stroke-width="3.8" stroke-linecap="round"/>
<line x1="441.40" y1="40.10" x2="457.20" y2="40.10" stroke="#f00000" stroke-width="3.8" stroke-linecap="round"/>
<text transform="translate(471.43,48.70) scale(1.035,1)" style="font-family:'Liberation Sans', sans-serif;font-weight:normal;font-size:25.8px" fill="#000">50 nm</text>
<line x1="553.50" y1="40.10" x2="556.70" y2="40.10" stroke="#0000d8" stroke-width="3.8" stroke-linecap="round"/>
<line x1="579.70" y1="40.10" x2="582.80" y2="40.10" stroke="#0000d8" stroke-width="3.8" stroke-linecap="round"/>
<line x1="605.10" y1="40.10" x2="608.20" y2="40.10" stroke="#0000d8" stroke-width="3.8" stroke-linecap="round"/>
<text transform="translate(619.26,48.70) scale(1.035,1)" style="font-family:'Liberation Sans', sans-serif;font-weight:normal;font-size:25.8px" fill="#000">60 nm</text>
<line x1="215.35" y1="71.30" x2="221.85" y2="71.30" stroke="#128282" stroke-width="4.1" stroke-linecap="round"/>
<line x1="235.65" y1="71.30" x2="242.15" y2="71.30" stroke="#128282" stroke-width="4.1" stroke-linecap="round"/>
<line x1="256.05" y1="71.30" x2="262.55" y2="71.30" stroke="#128282" stroke-width="4.1" stroke-linecap="round"/>
<text transform="translate(281.76,79.20) scale(1.035,1)" style="font-family:'Liberation Sans', sans-serif;font-weight:normal;font-size:25.8px" fill="#000">70 nm</text>
<circle cx="363.80" cy="71.30" r="2.05" fill="#d81ed8"/>
<circle cx="372.10" cy="71.30" r="2.05" fill="#d81ed8"/>
<circle cx="380.40" cy="71.30" r="2.05" fill="#d81ed8"/>
<circle cx="388.70" cy="71.30" r="2.05" fill="#d81ed8"/>
<circle cx="397.00" cy="71.30" r="2.05" fill="#d81ed8"/>
<circle cx="405.30" cy="71.30" r="2.05" fill="#d81ed8"/>
<circle cx="413.60" cy="71.30" r="2.05" fill="#d81ed8"/>
<circle cx="421.90" cy="71.30" r="2.05" fill="#d81ed8"/>
<text transform="translate(429.30,79.20) scale(1.035,1)" style="font-family:'Liberation Sans', sans-serif;font-weight:normal;font-size:25.8px" fill="#000">80 nm</text>
<clipPath id="cb"><rect x="930.1" y="42.5" width="498.69999999999993" height="358.8"/></clipPath>
<rect x="930.10" y="42.50" width="498.70" height="358.80" fill="none" stroke="#000" stroke-width="1.4"/>
<line x1="930.10" y1="401.30" x2="930.10" y2="408.80" stroke="#000" stroke-width="1.3" />
<line x1="1054.78" y1="401.30" x2="1054.78" y2="408.80" stroke="#000" stroke-width="1.3" />
<line x1="1179.45" y1="401.30" x2="1179.45" y2="408.80" stroke="#000" stroke-width="1.3" />
<line x1="1304.12" y1="401.30" x2="1304.12" y2="408.80" stroke="#000" stroke-width="1.3" />
<line x1="1428.80" y1="401.30" x2="1428.80" y2="408.80" stroke="#000" stroke-width="1.3" />
<line x1="992.44" y1="401.30" x2="992.44" y2="405.30" stroke="#000" stroke-width="1.3" />
<line x1="1117.11" y1="401.30" x2="1117.11" y2="405.30" stroke="#000" stroke-width="1.3" />
<line x1="1241.79" y1="401.30" x2="1241.79" y2="405.30" stroke="#000" stroke-width="1.3" />
<line x1="1366.46" y1="401.30" x2="1366.46" y2="405.30" stroke="#000" stroke-width="1.3" />
<line x1="930.10" y1="329.54" x2="922.10" y2="329.54" stroke="#000" stroke-width="1.3" />
<line x1="930.10" y1="233.86" x2="922.10" y2="233.86" stroke="#000" stroke-width="1.3" />
<line x1="930.10" y1="138.18" x2="922.10" y2="138.18" stroke="#000" stroke-width="1.3" />
<line x1="930.10" y1="42.50" x2="922.10" y2="42.50" stroke="#000" stroke-width="1.3" />
<line x1="930.10" y1="377.38" x2="925.60" y2="377.38" stroke="#000" stroke-width="1.3" />
<line x1="930.10" y1="281.70" x2="925.60" y2="281.70" stroke="#000" stroke-width="1.3" />
<line x1="930.10" y1="186.02" x2="925.60" y2="186.02" stroke="#000" stroke-width="1.3" />
<line x1="930.10" y1="90.34" x2="925.60" y2="90.34" stroke="#000" stroke-width="1.3" />
<line x1="979.97" y1="42.50" x2="979.97" y2="46.70" stroke="#000" stroke-width="1.3" />
<line x1="1428.80" y1="78.38" x2="1424.60" y2="78.38" stroke="#000" stroke-width="1.3" />
<line x1="1029.84" y1="42.50" x2="1029.84" y2="49.50" stroke="#000" stroke-width="1.3" />
<line x1="1428.80" y1="114.26" x2="1421.80" y2="114.26" stroke="#000" stroke-width="1.3" />
<line x1="1079.71" y1="42.50" x2="1079.71" y2="46.70" stroke="#000" stroke-width="1.3" />
<line x1="1428.80" y1="150.14" x2="1424.60" y2="150.14" stroke="#000" stroke-width="1.3" />
<line x1="1129.58" y1="42.50" x2="1129.58" y2="49.50" stroke="#000" stroke-width="1.3" />
<line x1="1428.80" y1="186.02" x2="1421.80" y2="186.02" stroke="#000" stroke-width="1.3" />
<line x1="1179.45" y1="42.50" x2="1179.45" y2="46.70" stroke="#000" stroke-width="1.3" />
<line x1="1428.80" y1="221.90" x2="1424.60" y2="221.90" stroke="#000" stroke-width="1.3" />
<line x1="1229.32" y1="42.50" x2="1229.32" y2="49.50" stroke="#000" stroke-width="1.3" />
<line x1="1428.80" y1="257.78" x2="1421.80" y2="257.78" stroke="#000" stroke-width="1.3" />
<line x1="1279.19" y1="42.50" x2="1279.19" y2="46.70" stroke="#000" stroke-width="1.3" />
<line x1="1428.80" y1="293.66" x2="1424.60" y2="293.66" stroke="#000" stroke-width="1.3" />
<line x1="1329.06" y1="42.50" x2="1329.06" y2="49.50" stroke="#000" stroke-width="1.3" />
<line x1="1428.80" y1="329.54" x2="1421.80" y2="329.54" stroke="#000" stroke-width="1.3" />
<line x1="1378.93" y1="42.50" x2="1378.93" y2="46.70" stroke="#000" stroke-width="1.3" />
<line x1="1428.80" y1="365.42" x2="1424.60" y2="365.42" stroke="#000" stroke-width="1.3" />
<text transform="translate(818.95,53.40) scale(1.0,1)" style="font-family:'Liberation Sans', sans-serif;font-weight:bold;font-size:27.5px;letter-spacing:0.8px" fill="#000">1.6x10</text>
<text transform="translate(908.32,38.40) scale(1.0,1)" style="font-family:'Liberation Sans', sans-serif;font-weight:bold;font-size:16.3px" fill="#000">6</text>
<text transform="translate(818.95,149.08) scale(1.0,1)" style="font-family:'Liberation Sans', sans-serif;font-weight:bold;font-size:27.5px;letter-spacing:0.8px" fill="#000">1.2x10</text>
<text transform="translate(908.32,134.08) scale(1.0,1)" style="font-family:'Liberation Sans', sans-serif;font-weight:bold;font-size:16.3px" fill="#000">6</text>
<text transform="translate(818.95,244.76) scale(1.0,1)" style="font-family:'Liberation Sans', sans-serif;font-weight:bold;font-size:27.5px;letter-spacing:0.8px" fill="#000">8.0x10</text>
<text transform="translate(908.16,229.76) scale(1.0,1)" style="font-family:'Liberation Sans', sans-serif;font-weight:bold;font-size:16.3px" fill="#000">5</text>
<text transform="translate(818.95,340.44) scale(1.0,1)" style="font-family:'Liberation Sans', sans-serif;font-weight:bold;font-size:27.5px;letter-spacing:0.8px" fill="#000">4.0x10</text>
<text transform="translate(908.16,325.44) scale(1.0,1)" style="font-family:'Liberation Sans', sans-serif;font-weight:bold;font-size:16.3px" fill="#000">5</text>
<text transform="translate(913.54,435.60) scale(1.0,1)" style="font-family:'Liberation Sans', sans-serif;font-weight:bold;font-size:27.5px;letter-spacing:0.8px" fill="#000">70</text>
<text transform="translate(1038.35,435.60) scale(1.0,1)" style="font-family:'Liberation Sans', sans-serif;font-weight:bold;font-size:27.5px;letter-spacing:0.8px" fill="#000">80</text>
<text transform="translate(1162.96,435.60) scale(1.0,1)" style="font-family:'Liberation Sans', sans-serif;font-weight:bold;font-size:27.5px;letter-spacing:0.8px" fill="#000">90</text>
<text transform="translate(1279.26,435.60) scale(1.0,1)" style="font-family:'Liberation Sans', sans-serif;font-weight:bold;font-size:27.5px;letter-spacing:0.8px" fill="#000">100</text>
<text transform="translate(1404.69,435.60) scale(1.0,1)" style="font-family:'Liberation Sans', sans-serif;font-weight:bold;font-size:27.5px;letter-spacing:0.8px" fill="#000">110</text>
<text transform="translate(1098.30,464.60) scale(1.07,1)" style="font-family:'Liberation Serif', serif;font-weight:normal;font-size:32.8px" fill="#000">Δ</text>
<text transform="translate(1118.85,464.40) scale(1.155,1)" style="font-family:'Liberation Sans', sans-serif;font-weight:bold;font-size:32.6px" fill="#000">b (nm)</text>
<text transform="translate(760.12,474.10) scale(1.04,1)" style="font-family:'Liberation Sans', sans-serif;font-weight:bold;font-size:42px" fill="#000">(b)</text>
<clipPath id="qc1"><rect x="709.60" y="51.50" width="80.30" height="260"/></clipPath>
<g clip-path="url(#qc1)"><text transform="translate(789.60,273.09) scale(1.0,1) rotate(-90)" style="font-family:'Liberation Sans', sans-serif;font-weight:normal;font-size:35.4px">Q-factor</text></g>
<line x1="783.76" y1="258.93" x2="789.95" y2="249.20" stroke="#000" stroke-width="2.62" stroke-linecap="butt"/>
<path d="M930.40,389.81 L931.90,388.31 L933.40,386.81 L934.90,385.31 L936.40,383.83 L937.90,382.34 L939.40,380.87 L940.90,379.40 L942.40,377.94 L943.90,376.48 L945.40,375.03 L946.90,373.59 L948.40,372.15 L949.90,370.73 L951.40,369.30 L952.90,367.89 L954.40,366.49 L955.90,365.09 L957.40,363.70 L958.90,362.31 L960.40,360.94 L961.90,359.57 L963.40,358.21 L964.90,356.86 L966.40,355.52 L967.90,354.19 L969.40,352.86 L970.90,351.55 L972.40,350.24 L973.90,348.94 L975.40,347.65 L976.90,346.37 L978.40,345.10 L979.90,343.84 L981.40,342.59 L982.90,341.35 L984.40,340.12 L985.90,338.90 L987.40,337.69 L988.90,336.49 L990.40,335.29 L991.90,334.11 L993.40,332.94 L994.90,331.79 L996.40,330.64 L997.90,329.50 L999.40,328.37 L1000.90,327.26 L1002.40,326.15 L1003.90,325.06 L1005.40,323.98 L1006.90,322.91 L1008.40,321.85 L1009.90,320.81 L1011.40,319.78 L1012.90,318.75 L1014.40,317.74 L1015.90,316.75 L1017.40,315.76 L1018.90,314.79 L1020.40,313.83 L1021.90,312.89 L1023.40,311.95 L1024.90,311.03 L1026.40,310.12 L1027.90,309.23 L1029.40,308.35 L1030.90,307.48 L1032.40,306.63 L1033.90,305.78 L1035.40,304.95 L1036.90,304.13 L1038.40,303.33 L1039.90,302.54 L1041.40,301.76 L1042.90,300.99 L1044.40,300.23 L1045.90,299.49 L1047.40,298.76 L1048.90,298.04 L1050.40,297.34 L1051.90,296.64 L1053.40,295.96 L1054.90,295.29 L1056.40,294.63 L1057.90,293.99 L1059.40,293.35 L1060.90,292.73 L1062.40,292.12 L1063.90,291.52 L1065.40,290.93 L1066.90,290.35 L1068.40,289.79 L1069.90,289.23 L1071.40,288.69 L1072.90,288.16 L1074.40,287.64 L1075.90,287.13 L1077.40,286.64 L1078.90,286.15 L1080.40,285.68 L1081.90,285.21 L1083.40,284.76 L1084.90,284.32 L1086.40,283.88 L1087.90,283.46 L1089.40,283.05 L1090.90,282.65 L1092.40,282.26 L1093.90,281.89 L1095.40,281.52 L1096.90,281.16 L1098.40,280.81 L1099.90,280.48 L1101.40,280.15 L1102.90,279.83 L1104.40,279.53 L1105.90,279.23 L1107.40,278.94 L1108.90,278.67 L1110.40,278.40 L1111.90,278.14 L1113.40,277.90 L1114.90,277.66 L1116.40,277.43 L1117.90,277.21 L1119.40,277.00 L1120.90,276.80 L1122.40,276.60 L1123.90,276.42 L1125.40,276.24 L1126.90,276.06 L1128.40,275.90 L1129.90,275.74 L1131.40,275.59 L1132.90,275.45 L1134.40,275.31 L1135.90,275.17 L1137.40,275.05 L1138.90,274.93 L1140.40,274.81 L1141.90,274.70 L1143.40,274.59 L1144.90,274.49 L1146.40,274.39 L1147.90,274.29 L1149.40,274.20 L1150.90,274.11 L1152.40,274.03 L1153.90,273.94 L1155.40,273.86 L1156.90,273.79 L1158.40,273.71 L1159.90,273.64 L1161.40,273.56 L1162.90,273.49 L1164.40,273.42 L1165.90,273.35 L1167.40,273.28 L1168.90,273.22 L1170.40,273.15 L1171.90,273.08 L1173.40,273.01 L1174.90,272.94 L1176.40,272.87 L1177.90,272.80 L1179.40,272.73 L1180.90,272.66 L1182.40,272.58 L1183.90,272.51 L1185.40,272.44 L1186.90,272.36 L1188.40,272.29 L1189.90,272.21 L1191.40,272.14 L1192.90,272.06 L1194.40,271.99 L1195.90,271.91 L1197.40,271.84 L1198.90,271.76 L1200.40,271.68 L1201.90,271.60 L1203.40,271.52 L1204.90,271.44 L1206.40,271.37 L1207.90,271.29 L1209.40,271.21 L1210.90,271.13 L1212.40,271.04 L1213.90,270.96 L1215.40,270.88 L1216.90,270.80 L1218.40,270.72 L1219.90,270.63 L1221.40,270.55 L1222.90,270.47 L1224.40,270.38 L1225.90,270.30 L1227.40,270.21 L1228.90,270.13 L1230.40,270.04 L1231.90,269.96 L1233.40,269.87 L1234.90,269.79 L1236.40,269.70 L1237.90,269.61 L1239.40,269.53 L1240.90,269.44 L1242.40,269.35 L1243.90,269.26 L1245.40,269.18 L1246.90,269.09 L1248.40,269.00 L1249.90,268.91 L1251.40,268.82 L1252.90,268.73 L1254.40,268.64 L1255.90,268.55 L1257.40,268.46 L1258.90,268.37 L1260.40,268.28 L1261.90,268.19 L1263.40,268.10 L1264.90,268.01 L1266.40,267.92 L1267.90,267.83 L1269.40,267.73 L1270.90,267.64 L1272.40,267.55 L1273.90,267.46 L1275.40,267.37 L1276.90,267.28 L1278.40,267.19 L1279.90,267.10 L1281.40,267.01 L1282.90,266.92 L1284.40,266.83 L1285.90,266.74 L1287.40,266.65 L1288.90,266.56 L1290.40,266.47 L1291.90,266.38 L1293.40,266.29 L1294.90,266.20 L1296.40,266.12 L1297.90,266.03 L1299.40,265.94 L1300.90,265.86 L1302.40,265.77 L1303.90,265.69 L1305.40,265.60 L1306.90,265.52 L1308.40,265.43 L1309.90,265.35 L1311.40,265.27 L1312.90,265.19 L1314.40,265.10 L1315.90,265.02 L1317.40,264.94 L1318.90,264.86 L1320.40,264.79 L1321.90,264.71 L1323.40,264.63 L1324.90,264.56 L1326.40,264.48 L1327.90,264.41 L1329.40,264.33 L1330.90,264.26 L1332.40,264.19 L1333.90,264.12 L1335.40,264.05 L1336.90,263.98 L1338.40,263.91 L1339.90,263.85 L1341.40,263.78 L1342.90,263.72 L1344.40,263.65 L1345.90,263.59 L1347.40,263.53 L1348.90,263.47 L1350.40,263.41 L1351.90,263.35 L1353.40,263.30 L1354.90,263.24 L1356.40,263.19 L1357.90,263.14 L1359.40,263.08 L1360.90,263.03 L1362.40,262.99 L1363.90,262.94 L1365.40,262.89 L1366.90,262.85 L1368.40,262.81 L1369.90,262.77 L1371.40,262.73 L1372.90,262.69 L1374.40,262.65 L1375.90,262.62 L1377.40,262.58 L1378.90,262.55 L1380.40,262.52 L1381.90,262.49 L1383.40,262.47 L1384.90,262.44 L1386.40,262.42 L1387.90,262.40 L1389.40,262.38 L1390.90,262.36 L1392.40,262.34 L1393.90,262.33 L1395.40,262.32 L1396.90,262.31 L1398.40,262.30 L1399.90,262.29 L1401.40,262.29 L1402.90,262.28 L1404.40,262.28 L1405.90,262.29 L1407.40,262.29 L1408.90,262.29 L1410.40,262.30 L1411.90,262.31 L1413.40,262.32 L1414.90,262.34 L1416.40,262.35 L1417.90,262.37 L1419.40,262.39 L1420.90,262.42 L1422.40,262.44 L1423.90,262.47 L1425.40,262.50 L1426.90,262.53 L1428.40,262.57 L1428.50,262.57" fill="none" stroke="#000000" stroke-width="4.3" stroke-linecap="round" stroke-linejoin="round" clip-path="url(#cb)"/>
<path d="M932.04,387.27 L932.40,386.99 L932.80,386.67 L933.20,386.35 L933.60,386.04 L934.00,385.72 L934.40,385.41 L934.80,385.09 L935.20,384.78 L935.60,384.47 L936.00,384.16 L936.40,383.85 L936.80,383.54 L937.20,383.24 L937.60,382.93 L938.00,382.63 L938.40,382.32 L938.80,382.02 L939.20,381.71 L939.60,381.41 L940.00,381.11 L940.40,380.81 L940.80,380.51 L941.20,380.21 L941.60,379.91 L942.00,379.61 L942.40,379.32 L942.80,379.02 L943.20,378.72 L943.60,378.43 L944.00,378.14 L944.40,377.84 L944.80,377.55 L945.20,377.26 L945.40,377.11 M972.83,357.94 L973.20,357.68 L973.60,357.41 L974.00,357.13 L974.40,356.85 L974.80,356.58 L975.20,356.30 L975.60,356.02 L976.00,355.74 L976.40,355.47 L976.80,355.19 L977.20,354.91 L977.60,354.64 L978.00,354.36 L978.40,354.08 L978.80,353.80 L979.20,353.53 L979.60,353.25 L980.00,352.97 L980.40,352.70 L980.80,352.42 L981.20,352.14 L981.60,351.87 L982.00,351.59 L982.40,351.32 L982.80,351.04 L983.20,350.76 L983.60,350.49 L984.00,350.21 L984.40,349.94 L984.80,349.66 L985.20,349.39 L985.60,349.11 L986.00,348.84 L986.40,348.56 L986.80,348.29 L987.20,348.02 L987.60,347.74 L988.00,347.47 L988.40,347.20 L988.80,346.93 L989.16,346.68 M1015.32,330.13 L1015.60,329.97 L1016.00,329.75 L1016.40,329.52 L1016.80,329.30 L1017.20,329.08 L1017.60,328.85 L1018.00,328.63 L1018.40,328.41 L1018.80,328.19 L1019.20,327.98 L1019.60,327.76 L1020.00,327.54 L1020.40,327.33 L1020.80,327.11 L1021.20,326.90 L1021.60,326.69 L1022.00,326.48 L1022.40,326.27 L1022.80,326.06 L1023.20,325.85 L1023.60,325.64 L1024.00,325.43 L1024.40,325.23 L1024.80,325.02 L1025.20,324.82 L1025.60,324.62 L1026.00,324.41 L1026.40,324.21 L1026.80,324.01 L1027.20,323.81 L1027.60,323.62 L1028.00,323.42 L1028.40,323.22 L1028.80,323.03 L1029.20,322.83 L1029.60,322.64 L1030.00,322.44 L1030.40,322.25 L1030.70,322.11 M1057.18,311.31 L1057.20,311.30 L1057.60,311.17 L1058.00,311.03 L1058.40,310.89 L1058.80,310.76 L1059.20,310.63 L1059.60,310.49 L1060.00,310.36 L1060.40,310.23 L1060.80,310.10 L1061.20,309.97 L1061.60,309.84 L1062.00,309.71 L1062.40,309.58 L1062.80,309.46 L1063.20,309.33 L1063.60,309.20 L1064.00,309.08 L1064.40,308.95 L1064.80,308.83 L1065.20,308.71 L1065.60,308.58 L1066.00,308.46 L1066.40,308.34 L1066.80,308.22 L1067.20,308.10 L1067.60,307.98 L1068.00,307.86 L1068.40,307.75 L1068.80,307.63 L1069.20,307.51 L1069.60,307.40 L1070.00,307.28 L1070.40,307.17 L1070.80,307.06 L1071.20,306.94 L1071.60,306.83 L1072.00,306.72 L1072.40,306.61 L1072.80,306.50 L1072.97,306.45 M1098.56,300.65 L1098.80,300.61 L1099.20,300.54 L1099.60,300.47 L1100.00,300.39 L1100.40,300.32 L1100.80,300.25 L1101.20,300.18 L1101.60,300.11 L1102.00,300.04 L1102.40,299.98 L1102.80,299.91 L1103.20,299.84 L1103.60,299.77 L1104.00,299.71 L1104.40,299.64 L1104.80,299.57 L1105.20,299.51 L1105.60,299.44 L1106.00,299.38 L1106.40,299.31 L1106.80,299.25 L1107.20,299.19 L1107.60,299.13 L1108.00,299.06 L1108.40,299.00 L1108.80,298.94 L1109.20,298.88 L1109.60,298.82 L1110.00,298.76 L1110.40,298.70 L1110.80,298.64 L1111.20,298.58 L1111.60,298.52 L1112.00,298.47 L1112.40,298.41 L1112.80,298.35 L1113.20,298.30 L1113.60,298.24 L1114.00,298.18 L1114.32,298.14 M1140.49,295.31 L1140.80,295.28 L1141.20,295.25 L1141.60,295.22 L1142.00,295.19 L1142.40,295.16 L1142.80,295.13 L1143.20,295.09 L1143.60,295.06 L1144.00,295.03 L1144.40,295.00 L1144.80,294.97 L1145.20,294.94 L1145.60,294.91 L1146.00,294.89 L1146.40,294.86 L1146.80,294.83 L1147.20,294.80 L1147.60,294.77 L1148.00,294.74 L1148.40,294.72 L1148.80,294.69 L1149.20,294.66 L1149.60,294.63 L1150.00,294.61 L1150.40,294.58 L1150.80,294.56 L1151.20,294.53 L1151.60,294.50 L1152.00,294.48 L1152.40,294.45 L1152.80,294.43 L1153.20,294.40 L1153.60,294.38 L1154.00,294.35 L1154.40,294.33 L1154.80,294.31 L1155.20,294.28 L1155.60,294.26 L1156.00,294.24 L1156.40,294.21 L1156.70,294.20 M1181.80,293.09 L1182.00,293.09 L1182.40,293.07 L1182.80,293.06 L1183.20,293.05 L1183.60,293.03 L1184.00,293.02 L1184.40,293.01 L1184.80,293.00 L1185.20,292.98 L1185.60,292.97 L1186.00,292.96 L1186.40,292.94 L1186.80,292.93 L1187.20,292.92 L1187.60,292.91 L1188.00,292.89 L1188.40,292.88 L1188.80,292.87 L1189.20,292.86 L1189.60,292.84 L1190.00,292.83 L1190.40,292.82 L1190.80,292.81 L1191.20,292.80 L1191.60,292.78 L1192.00,292.77 L1192.40,292.76 L1192.80,292.75 L1193.20,292.74 L1193.60,292.72 L1194.00,292.71 L1194.40,292.70 L1194.80,292.69 L1195.20,292.68 L1195.60,292.67 L1196.00,292.65 L1196.40,292.64 L1196.80,292.63 L1197.20,292.62 L1197.60,292.61 L1198.00,292.60 L1198.40,292.58 L1198.50,292.58 M1224.30,291.77 L1224.40,291.76 L1224.80,291.75 L1225.20,291.73 L1225.60,291.72 L1226.00,291.70 L1226.40,291.69 L1226.80,291.67 L1227.20,291.66 L1227.60,291.64 L1228.00,291.62 L1228.40,291.61 L1228.80,291.59 L1229.20,291.58 L1229.60,291.56 L1230.00,291.54 L1230.40,291.53 L1230.80,291.51 L1231.20,291.49 L1231.60,291.48 L1232.00,291.46 L1232.40,291.44 L1232.80,291.43 L1233.20,291.41 L1233.60,291.39 L1234.00,291.38 L1234.40,291.36 L1234.80,291.34 L1235.20,291.32 L1235.60,291.31 L1236.00,291.29 L1236.40,291.27 L1236.80,291.25 L1237.20,291.24 L1237.60,291.22 L1238.00,291.20 L1238.40,291.18 L1238.80,291.16 L1239.20,291.15 L1239.60,291.13 L1240.00,291.11 L1240.40,291.09 L1240.80,291.07 L1241.20,291.05 L1241.20,291.05 M1266.50,289.75 L1266.80,289.73 L1267.20,289.71 L1267.60,289.68 L1268.00,289.66 L1268.40,289.64 L1268.80,289.62 L1269.20,289.60 L1269.60,289.57 L1270.00,289.55 L1270.40,289.53 L1270.80,289.50 L1271.20,289.48 L1271.60,289.46 L1272.00,289.44 L1272.40,289.41 L1272.80,289.39 L1273.20,289.37 L1273.60,289.35 L1274.00,289.32 L1274.40,289.30 L1274.80,289.28 L1275.20,289.25 L1275.60,289.23 L1276.00,289.21 L1276.40,289.19 L1276.80,289.16 L1277.20,289.14 L1277.60,289.12 L1278.00,289.09 L1278.40,289.07 L1278.80,289.05 L1279.20,289.02 L1279.60,289.00 L1280.00,288.98 L1280.40,288.95 L1280.80,288.93 L1281.20,288.91 L1281.60,288.88 L1282.00,288.86 L1282.40,288.84 L1282.80,288.81 L1283.20,288.79 L1283.40,288.78 M1308.20,287.33 L1308.40,287.32 L1308.80,287.30 L1309.20,287.27 L1309.60,287.25 L1310.00,287.23 L1310.40,287.21 L1310.80,287.18 L1311.20,287.16 L1311.60,287.14 L1312.00,287.11 L1312.40,287.09 L1312.80,287.07 L1313.20,287.05 L1313.60,287.02 L1314.00,287.00 L1314.40,286.98 L1314.80,286.96 L1315.20,286.93 L1315.60,286.91 L1316.00,286.89 L1316.40,286.87 L1316.80,286.84 L1317.20,286.82 L1317.60,286.80 L1318.00,286.78 L1318.40,286.75 L1318.80,286.73 L1319.20,286.71 L1319.60,286.69 L1320.00,286.67 L1320.40,286.64 L1320.80,286.62 L1321.20,286.60 L1321.60,286.58 L1322.00,286.56 L1322.40,286.54 L1322.80,286.51 L1323.20,286.49 L1323.60,286.47 L1324.00,286.45 L1324.40,286.43 L1324.80,286.41 L1324.80,286.41 M1349.90,285.18 L1350.00,285.17 L1350.40,285.15 L1350.80,285.14 L1351.20,285.12 L1351.60,285.10 L1352.00,285.09 L1352.40,285.07 L1352.80,285.05 L1353.20,285.04 L1353.60,285.02 L1354.00,285.00 L1354.40,284.99 L1354.80,284.97 L1355.20,284.95 L1355.60,284.94 L1356.00,284.92 L1356.40,284.91 L1356.80,284.89 L1357.20,284.88 L1357.60,284.86 L1358.00,284.84 L1358.40,284.83 L1358.80,284.81 L1359.20,284.80 L1359.60,284.78 L1360.00,284.77 L1360.40,284.75 L1360.80,284.74 L1361.20,284.72 L1361.60,284.71 L1362.00,284.70 L1362.40,284.68 L1362.80,284.67 L1363.20,284.65 L1363.60,284.64 L1364.00,284.62 L1364.40,284.61 L1364.80,284.60 L1365.20,284.58 L1365.60,284.57 L1366.00,284.56 L1366.40,284.54 L1366.50,284.54 M1391.60,283.95 L1391.60,283.95 L1392.00,283.95 L1392.40,283.94 L1392.80,283.94 L1393.20,283.93 L1393.60,283.93 L1394.00,283.92 L1394.40,283.92 L1394.80,283.91 L1395.20,283.91 L1395.60,283.91 L1396.00,283.90 L1396.40,283.90 L1396.80,283.90 L1397.20,283.89 L1397.60,283.89 L1398.00,283.89 L1398.40,283.89 L1398.80,283.88 L1399.20,283.88 L1399.60,283.88 L1400.00,283.88 L1400.40,283.87 L1400.80,283.87 L1401.20,283.87 L1401.60,283.87 L1402.00,283.87 L1402.40,283.87 L1402.80,283.87 L1403.20,283.87 L1403.60,283.87 L1404.00,283.87 L1404.40,283.87 L1404.80,283.87 L1405.20,283.87 L1405.60,283.87 L1406.00,283.87 L1406.40,283.87 L1406.80,283.87 L1407.20,283.87 L1407.60,283.87 L1407.90,283.87" fill="none" stroke="#f00000" stroke-width="4.2" stroke-linecap="round" stroke-linejoin="round" clip-path="url(#cb)"/>
<path d="M932.08,386.97 L932.08,386.97 M954.69,373.60 L954.80,373.53 L955.20,373.31 L955.60,373.08 L956.00,372.86 L956.40,372.64 L956.80,372.41 L957.20,372.19 L957.31,372.13 M979.96,360.14 L980.00,360.12 L980.40,359.92 L980.80,359.72 L981.20,359.52 L981.60,359.32 L982.00,359.12 L982.40,358.92 L982.64,358.80 M1005.22,348.33 L1005.60,348.17 L1006.00,347.99 L1006.40,347.82 L1006.80,347.65 L1007.20,347.48 L1007.60,347.31 L1007.98,347.14 M1030.49,338.25 L1030.80,338.13 L1031.20,337.99 L1031.60,337.84 L1032.00,337.70 L1032.40,337.56 L1032.80,337.41 L1033.20,337.27 L1033.31,337.23 M1055.06,330.17 L1055.20,330.13 L1055.60,330.01 L1056.00,329.90 L1056.40,329.78 L1056.80,329.67 L1057.20,329.55 L1057.60,329.44 L1057.94,329.34 M1080.24,323.69 L1080.40,323.66 L1080.80,323.57 L1081.20,323.48 L1081.60,323.39 L1082.00,323.30 L1082.40,323.22 L1082.80,323.13 L1083.17,323.05 M1105.22,318.85 L1105.60,318.79 L1106.00,318.72 L1106.40,318.66 L1106.80,318.59 L1107.20,318.53 L1107.60,318.46 L1108.00,318.40 L1108.18,318.37 M1130.21,315.30 L1130.40,315.28 L1130.80,315.23 L1131.20,315.19 L1131.60,315.14 L1132.00,315.09 L1132.40,315.05 L1132.80,315.00 L1133.19,314.95 M1155.21,312.77 L1155.60,312.74 L1156.00,312.71 L1156.40,312.67 L1156.80,312.64 L1157.20,312.61 L1157.60,312.57 L1158.00,312.54 L1158.19,312.52 M1180.20,310.98 L1180.40,310.96 L1180.80,310.94 L1181.20,310.91 L1181.60,310.89 L1182.00,310.87 L1182.40,310.84 L1182.80,310.82 L1183.20,310.80 M1204.90,309.67 L1205.20,309.66 L1205.60,309.64 L1206.00,309.62 L1206.40,309.61 L1206.80,309.59 L1207.20,309.57 L1207.60,309.55 L1207.90,309.54 M1230.40,308.69 L1230.80,308.68 L1231.20,308.66 L1231.60,308.65 L1232.00,308.64 L1232.40,308.63 L1232.80,308.61 L1233.20,308.60 L1233.40,308.59 M1255.90,307.98 L1256.00,307.98 L1256.40,307.97 L1256.80,307.96 L1257.20,307.95 L1257.60,307.95 L1258.00,307.94 L1258.40,307.93 L1258.80,307.92 L1258.90,307.92 M1280.50,307.48 L1280.80,307.48 L1281.20,307.47 L1281.60,307.46 L1282.00,307.45 L1282.40,307.45 L1282.80,307.44 L1283.20,307.43 L1283.50,307.43 M1305.60,307.06 L1306.00,307.05 L1306.40,307.04 L1306.80,307.04 L1307.20,307.03 L1307.60,307.02 L1308.00,307.02 L1308.40,307.01 L1308.60,307.01 M1330.40,306.64 L1330.80,306.64 L1331.20,306.63 L1331.60,306.62 L1332.00,306.61 L1332.40,306.61 L1332.80,306.60 L1333.20,306.59 L1333.40,306.59 M1355.60,306.14 L1356.00,306.13 L1356.40,306.12 L1356.80,306.11 L1357.20,306.10 L1357.60,306.09 L1358.00,306.08 L1358.40,306.07 L1358.60,306.07 M1380.40,305.47 L1380.80,305.46 L1381.20,305.45 L1381.60,305.43 L1382.00,305.42 L1382.40,305.41 L1382.80,305.40 L1383.20,305.38 L1383.40,305.38 M1405.30,304.55 L1405.30,304.55" fill="none" stroke="#0000d8" stroke-width="4.2" stroke-linecap="round" stroke-linejoin="round" clip-path="url(#cb)"/>
<path d="M932.28,385.90 L932.40,385.84 L932.80,385.64 L933.20,385.44 L933.60,385.25 L934.00,385.05 L934.40,384.85 L934.80,384.65 L935.20,384.46 L935.60,384.26 L936.00,384.06 L936.40,383.87 L936.74,383.70 M950.22,377.32 L950.40,377.24 L950.80,377.06 L951.20,376.88 L951.60,376.69 L952.00,376.51 L952.40,376.33 L952.80,376.15 L953.20,375.97 L953.60,375.79 L954.00,375.61 L954.40,375.43 L954.80,375.25 L955.20,375.07 L955.60,374.89 L955.78,374.81 M968.98,369.13 L969.20,369.04 L969.60,368.87 L970.00,368.71 L970.40,368.54 L970.80,368.38 L971.20,368.21 L971.60,368.05 L972.00,367.88 L972.40,367.72 L972.80,367.56 L973.20,367.39 L973.60,367.23 L974.00,367.07 L974.40,366.91 L974.63,366.82 M988.04,361.61 L988.40,361.47 L988.80,361.32 L989.20,361.18 L989.60,361.03 L990.00,360.88 L990.40,360.73 L990.80,360.58 L991.20,360.44 L991.60,360.29 L992.00,360.14 L992.40,360.00 L992.80,359.85 L993.20,359.71 L993.60,359.56 L993.77,359.50 M1007.10,354.89 L1007.20,354.85 L1007.60,354.72 L1008.00,354.59 L1008.40,354.46 L1008.80,354.33 L1009.20,354.20 L1009.60,354.07 L1010.00,353.93 L1010.40,353.80 L1010.80,353.68 L1011.20,353.55 L1011.60,353.42 L1012.00,353.29 L1012.40,353.16 L1012.80,353.03 L1012.90,353.00 M1026.67,348.82 L1026.80,348.78 L1027.20,348.66 L1027.60,348.55 L1028.00,348.43 L1028.40,348.32 L1028.80,348.21 L1029.20,348.09 L1029.60,347.98 L1030.00,347.87 L1030.40,347.75 L1030.80,347.64 L1031.20,347.53 L1031.60,347.42 L1032.00,347.31 L1032.40,347.20 L1032.54,347.16 M1045.34,343.80 L1045.60,343.73 L1046.00,343.63 L1046.40,343.54 L1046.80,343.44 L1047.20,343.34 L1047.60,343.24 L1048.00,343.14 L1048.40,343.05 L1048.80,342.95 L1049.20,342.85 L1049.60,342.76 L1050.00,342.66 L1050.40,342.57 L1050.80,342.47 L1051.20,342.38 L1051.27,342.36 M1064.51,339.43 L1064.80,339.37 L1065.20,339.28 L1065.60,339.20 L1066.00,339.12 L1066.40,339.04 L1066.80,338.96 L1067.20,338.88 L1067.60,338.79 L1068.00,338.71 L1068.40,338.63 L1068.80,338.56 L1069.20,338.48 L1069.60,338.40 L1070.00,338.32 L1070.40,338.24 L1070.49,338.22 M1083.29,335.90 L1083.60,335.85 L1084.00,335.78 L1084.40,335.72 L1084.80,335.65 L1085.20,335.59 L1085.60,335.52 L1086.00,335.46 L1086.40,335.39 L1086.80,335.33 L1087.20,335.26 L1087.60,335.20 L1088.00,335.14 L1088.40,335.07 L1088.80,335.01 L1089.20,334.95 L1089.31,334.93 M1102.67,333.05 L1102.80,333.03 L1103.20,332.98 L1103.60,332.93 L1104.00,332.88 L1104.40,332.83 L1104.80,332.78 L1105.20,332.73 L1105.60,332.68 L1106.00,332.64 L1106.40,332.59 L1106.80,332.54 L1107.20,332.49 L1107.60,332.45 L1108.00,332.40 L1108.40,332.35 L1108.73,332.32 M1121.56,331.01 L1121.60,331.00 L1122.00,330.97 L1122.40,330.93 L1122.80,330.90 L1123.20,330.86 L1123.60,330.83 L1124.00,330.79 L1124.40,330.76 L1124.80,330.72 L1125.20,330.69 L1125.60,330.66 L1126.00,330.62 L1126.40,330.59 L1126.80,330.56 L1127.20,330.52 L1127.60,330.49 L1127.64,330.49 M1140.46,329.59 L1140.80,329.57 L1141.20,329.55 L1141.60,329.52 L1142.00,329.50 L1142.40,329.47 L1142.80,329.45 L1143.20,329.43 L1143.60,329.41 L1144.00,329.38 L1144.40,329.36 L1144.80,329.34 L1145.20,329.32 L1145.60,329.29 L1146.00,329.27 L1146.40,329.25 L1146.55,329.24 M1159.25,328.66 L1159.60,328.65 L1160.00,328.63 L1160.40,328.62 L1160.80,328.60 L1161.20,328.59 L1161.60,328.57 L1162.00,328.56 L1162.40,328.55 L1162.80,328.53 L1163.20,328.52 L1163.60,328.50 L1164.00,328.49 L1164.40,328.47 L1164.80,328.46 L1165.20,328.45 L1165.35,328.44 M1178.15,328.07 L1178.40,328.07 L1178.80,328.06 L1179.20,328.05 L1179.60,328.04 L1180.00,328.03 L1180.40,328.02 L1180.80,328.01 L1181.20,328.00 L1181.60,327.99 L1182.00,327.98 L1182.40,327.97 L1182.80,327.97 L1183.20,327.96 L1183.60,327.95 L1184.00,327.94 L1184.25,327.93 M1197.55,327.68 L1197.60,327.68 L1198.00,327.67 L1198.40,327.66 L1198.80,327.66 L1199.20,327.65 L1199.60,327.64 L1200.00,327.63 L1200.40,327.63 L1200.80,327.62 L1201.20,327.61 L1201.60,327.61 L1202.00,327.60 L1202.40,327.59 L1202.80,327.59 L1203.20,327.58 L1203.60,327.57 L1203.65,327.57 M1216.55,327.36 L1216.80,327.36 L1217.20,327.35 L1217.60,327.34 L1218.00,327.34 L1218.40,327.33 L1218.80,327.33 L1219.20,327.32 L1219.60,327.31 L1220.00,327.31 L1220.40,327.30 L1220.80,327.29 L1221.20,327.29 L1221.60,327.28 L1222.00,327.28 L1222.40,327.27 L1222.65,327.27 M1235.65,327.08 L1236.00,327.07 L1236.40,327.06 L1236.80,327.06 L1237.20,327.05 L1237.60,327.05 L1238.00,327.04 L1238.40,327.04 L1238.80,327.03 L1239.20,327.03 L1239.60,327.02 L1240.00,327.01 L1240.40,327.01 L1240.80,327.00 L1241.20,327.00 L1241.60,326.99 L1241.75,326.99 M1254.65,326.82 L1254.80,326.82 L1255.20,326.81 L1255.60,326.81 L1256.00,326.80 L1256.40,326.80 L1256.80,326.79 L1257.20,326.79 L1257.60,326.78 L1258.00,326.78 L1258.40,326.77 L1258.80,326.77 L1259.20,326.76 L1259.60,326.76 L1260.00,326.75 L1260.40,326.75 L1260.75,326.74 M1273.75,326.59 L1274.00,326.59 L1274.40,326.58 L1274.80,326.58 L1275.20,326.58 L1275.60,326.57 L1276.00,326.57 L1276.40,326.56 L1276.80,326.56 L1277.20,326.55 L1277.60,326.55 L1278.00,326.54 L1278.40,326.54 L1278.80,326.54 L1279.20,326.53 L1279.60,326.53 L1279.85,326.52 M1293.15,326.38 L1293.20,326.38 L1293.60,326.38 L1294.00,326.38 L1294.40,326.37 L1294.80,326.37 L1295.20,326.36 L1295.60,326.36 L1296.00,326.36 L1296.40,326.35 L1296.80,326.35 L1297.20,326.34 L1297.60,326.34 L1298.00,326.34 L1298.40,326.33 L1298.80,326.33 L1299.20,326.33 L1299.25,326.32 M1312.15,326.21 L1312.40,326.20 L1312.80,326.20 L1313.20,326.20 L1313.60,326.19 L1314.00,326.19 L1314.40,326.19 L1314.80,326.18 L1315.20,326.18 L1315.60,326.17 L1316.00,326.17 L1316.40,326.17 L1316.80,326.16 L1317.20,326.16 L1317.60,326.16 L1318.00,326.15 L1318.25,326.15 M1331.15,326.05 L1331.20,326.05 L1331.60,326.04 L1332.00,326.04 L1332.40,326.04 L1332.80,326.03 L1333.20,326.03 L1333.60,326.03 L1334.00,326.02 L1334.40,326.02 L1334.80,326.02 L1335.20,326.01 L1335.60,326.01 L1336.00,326.01 L1336.40,326.00 L1336.80,326.00 L1337.20,326.00 L1337.25,326.00 M1350.25,325.90 L1350.40,325.90 L1350.80,325.90 L1351.20,325.90 L1351.60,325.89 L1352.00,325.89 L1352.40,325.89 L1352.80,325.89 L1353.20,325.88 L1353.60,325.88 L1354.00,325.88 L1354.40,325.88 L1354.80,325.87 L1355.20,325.87 L1355.60,325.87 L1356.00,325.86 L1356.35,325.86 M1369.25,325.78 L1369.60,325.78 L1370.00,325.77 L1370.40,325.77 L1370.80,325.77 L1371.20,325.77 L1371.60,325.76 L1372.00,325.76 L1372.40,325.76 L1372.80,325.76 L1373.20,325.75 L1373.60,325.75 L1374.00,325.75 L1374.40,325.75 L1374.80,325.74 L1375.20,325.74 L1375.35,325.74 M1388.35,325.67 L1388.40,325.67 L1388.80,325.66 L1389.20,325.66 L1389.60,325.66 L1390.00,325.66 L1390.40,325.65 L1390.80,325.65 L1391.20,325.65 L1391.60,325.65 L1392.00,325.65 L1392.40,325.64 L1392.80,325.64 L1393.20,325.64 L1393.60,325.64 L1394.00,325.64 L1394.40,325.63 L1394.45,325.63 M1407.35,325.57 L1407.60,325.56 L1408.00,325.56 L1408.40,325.56 L1408.80,325.56 L1409.20,325.56 L1409.60,325.55 L1410.00,325.55 L1410.40,325.55 L1410.80,325.55 L1411.20,325.55 L1411.60,325.54 L1412.00,325.54 L1412.40,325.54 L1412.80,325.54 L1413.20,325.54 L1413.45,325.54 M1425.45,325.48 L1425.60,325.48 L1426.00,325.48 L1426.40,325.47 L1426.40,325.47" fill="none" stroke="#128282" stroke-width="4.2" stroke-linecap="round" stroke-linejoin="round" clip-path="url(#cb)"/>
<path d="M930.70,369.28 L932.20,366.18 L933.70,363.09 L935.20,360.00 L936.70,356.91 L938.20,353.82 L939.70,350.74 L941.20,347.66 L942.70,344.59 L944.20,341.51 L945.70,338.45 L947.20,335.39 L948.70,332.33 L950.20,329.28 L951.70,326.24 L953.20,323.20 L954.70,320.17 L956.20,317.15 L957.70,314.13 L959.20,311.12 L960.70,308.12 L962.20,305.13 L963.70,302.15 L965.20,299.18 L966.70,296.22 L968.20,293.27 L969.70,290.33 L971.20,287.40 L972.70,284.48 L974.20,281.58 L975.70,278.68 L977.20,275.80 L978.70,272.93 L980.20,270.08 L981.70,267.24 L983.20,264.41 L984.70,261.60 L986.20,258.80 L987.70,256.02 L989.20,253.25 L990.70,250.50 L992.20,247.77 L993.70,245.05 L995.20,242.35 L996.70,239.67 L998.20,237.00 L999.70,234.36 L1001.20,231.73 L1002.70,229.12 L1004.20,226.53 L1005.70,223.96 L1007.20,221.41 L1008.70,218.88 L1010.20,216.37 L1011.70,213.89 L1013.20,211.42 L1014.70,208.98 L1016.20,206.56 L1017.70,204.16 L1019.20,201.78 L1020.70,199.43 L1022.20,197.10 L1023.70,194.80 L1025.20,192.52 L1026.70,190.26 L1028.20,188.03 L1029.70,185.83 L1031.20,183.65 L1032.70,181.50 L1034.20,179.37 L1035.70,177.27 L1037.20,175.19 L1038.70,173.15 L1040.20,171.13 L1041.70,169.13 L1043.20,167.17 L1044.70,165.23 L1046.20,163.32 L1047.70,161.45 L1049.20,159.60 L1050.70,157.78 L1052.20,155.99 L1053.70,154.22 L1055.20,152.49 L1056.70,150.79 L1058.20,149.13 L1059.70,147.49 L1061.20,145.88 L1062.70,144.31 L1064.20,142.77 L1065.70,141.26 L1067.20,139.78 L1068.70,138.34 L1070.20,136.93 L1071.70,135.55 L1073.20,134.21 L1074.70,132.90 L1076.20,131.62 L1077.70,130.38 L1079.20,129.18 L1080.70,128.01 L1082.20,126.88 L1083.70,125.78 L1085.20,124.72 L1086.70,123.70 L1088.20,122.71 L1089.70,121.76 L1091.20,120.85 L1092.70,119.97 L1094.20,119.13 L1095.70,118.34 L1097.20,117.58 L1098.70,116.86 L1100.20,116.18 L1101.70,115.53 L1103.20,114.93 L1104.70,114.37 L1106.20,113.85 L1107.70,113.37 L1109.20,112.93 L1110.70,112.53 L1112.20,112.18 L1113.70,111.86 L1115.20,111.59 L1116.70,111.36 L1118.20,111.18 L1119.70,111.04 L1121.20,110.94 L1122.70,110.88 L1124.20,110.87 L1125.70,110.90 L1127.20,110.98 L1128.70,111.10 L1130.20,111.27 L1131.70,111.49 L1133.20,111.75 L1134.70,112.05 L1136.20,112.41 L1137.70,112.81 L1139.20,113.25 L1140.70,113.75 L1142.20,114.29 L1143.70,114.88 L1145.20,115.52 L1146.70,116.20 L1148.20,116.94 L1149.70,117.72 L1151.20,118.56 L1152.70,119.44 L1154.20,120.38 L1155.70,121.36 L1157.20,122.40 L1158.70,123.48 L1160.20,124.62 L1161.70,125.81 L1163.20,127.05 L1164.70,128.34 L1166.20,129.69 L1167.70,131.09 L1169.20,132.54 L1170.70,134.05 L1172.20,135.60 L1173.70,137.21 L1175.20,138.87 L1176.70,140.58 L1178.20,142.34 L1179.70,144.14 L1181.20,145.99 L1182.70,147.89 L1184.20,149.83 L1185.70,151.81 L1187.20,153.83 L1188.70,155.89 L1190.20,157.99 L1191.70,160.13 L1193.20,162.31 L1194.70,164.52 L1196.20,166.76 L1197.70,169.04 L1199.20,171.35 L1200.70,173.69 L1202.20,176.06 L1203.70,178.46 L1205.20,180.88 L1206.70,183.33 L1208.20,185.81 L1209.70,188.31 L1211.20,190.83 L1212.70,193.38 L1214.20,195.94 L1215.70,198.53 L1217.20,201.13 L1218.70,203.75 L1220.20,206.38 L1221.70,209.03 L1223.20,211.69 L1224.70,214.37 L1226.20,217.05 L1227.70,219.75 L1229.20,222.45 L1230.70,225.16 L1232.20,227.88 L1233.70,230.60 L1235.20,233.33 L1236.70,236.06 L1238.20,238.79 L1239.70,241.53 L1241.20,244.26 L1242.70,246.99 L1244.20,249.72 L1245.70,252.44 L1247.20,255.16 L1248.70,257.87 L1250.20,260.58 L1251.70,263.27 L1253.20,265.96 L1254.70,268.63 L1256.20,271.30 L1257.70,273.95 L1259.20,276.58 L1260.70,279.20 L1262.20,281.81 L1263.70,284.39 L1265.20,286.96 L1266.70,289.50 L1268.20,292.03 L1269.70,294.53 L1271.20,297.01 L1272.70,299.46 L1274.20,301.89 L1275.70,304.29 L1277.20,306.66 L1278.70,309.00 L1280.20,311.31 L1281.70,313.59 L1283.20,315.83 L1284.70,318.04 L1286.20,320.21 L1287.70,322.34 L1289.20,324.44 L1290.70,326.49 L1292.20,328.50 L1293.70,330.47 L1295.20,332.39 L1296.70,334.27 L1298.20,336.10 L1299.70,337.88 L1301.20,339.61 L1302.70,341.29 L1304.20,342.92 L1305.70,344.49 L1307.20,346.01 L1308.70,347.48 L1310.20,348.88 L1311.70,350.23 L1313.20,351.53 L1314.70,352.78 L1316.20,353.97 L1317.70,355.10 L1319.20,356.19 L1320.70,357.22 L1322.20,358.21 L1323.70,359.14 L1325.20,360.03 L1326.70,360.87 L1328.20,361.66 L1329.70,362.41 L1331.20,363.10 L1332.70,363.76 L1334.20,364.36 L1335.70,364.93 L1337.20,365.45 L1338.70,365.93 L1340.20,366.37 L1341.70,366.76 L1343.20,367.12 L1344.70,367.43 L1346.20,367.71 L1347.70,367.95 L1349.20,368.15 L1350.70,368.31 L1352.20,368.44 L1353.70,368.54 L1355.20,368.59 L1356.70,368.62 L1358.20,368.61 L1359.70,368.57 L1361.20,368.50 L1362.70,368.40 L1364.20,368.26 L1365.70,368.10 L1367.20,367.91 L1368.70,367.69 L1370.20,367.45 L1371.70,367.18 L1373.20,366.88 L1374.70,366.56 L1376.20,366.21 L1377.70,365.84 L1379.20,365.45 L1380.70,365.04 L1382.20,364.61 L1383.70,364.15 L1385.20,363.68 L1386.70,363.19 L1388.20,362.68 L1389.70,362.15 L1391.20,361.61 L1392.70,361.05 L1394.20,360.47 L1395.70,359.88 L1397.20,359.28 L1398.70,358.67 L1400.20,358.04 L1401.70,357.40 L1403.20,356.76 L1404.70,356.10 L1406.20,355.43 L1407.70,354.76 L1409.20,354.08 L1410.70,353.39 L1412.20,352.69 L1413.70,352.00 L1415.20,351.29 L1416.70,350.58 L1418.20,349.87 L1419.70,349.16 L1421.20,348.45 L1422.70,347.73 L1424.20,347.02 L1425.70,346.31 L1427.20,345.60 L1428.50,344.98" fill="none" stroke="#d81ed8" stroke-width="3.9" stroke-linecap="round" stroke-linejoin="round" stroke-dasharray="0.01 8.7" clip-path="url(#cb)"/>
<text transform="translate(954.14,69.80) scale(1.05,1)" style="font-family:'Liberation Serif', serif;font-weight:normal;font-size:20.5px" fill="#000">Δ</text>
<text transform="translate(967.77,69.80) scale(1.04,1)" style="font-family:'Liberation Sans', sans-serif;font-weight:normal;font-size:22.3px" fill="#000">c</text>
<line x1="986.55" y1="62.40" x2="1035.95" y2="62.40" stroke="#000000" stroke-width="4.5" stroke-linecap="round"/>
<text transform="translate(1043.34,69.80) scale(1.04,1)" style="font-family:'Liberation Sans', sans-serif;font-weight:normal;font-size:22.3px" fill="#000">40 nm</text>
<line x1="1114.25" y1="62.30" x2="1132.05" y2="62.30" stroke="#f00000" stroke-width="4.5" stroke-linecap="round"/>
<line x1="1156.35" y1="62.30" x2="1165.55" y2="62.30" stroke="#f00000" stroke-width="4.5" stroke-linecap="round"/>
<text transform="translate(1178.87,69.80) scale(1.04,1)" style="font-family:'Liberation Sans', sans-serif;font-weight:normal;font-size:22.3px" fill="#000">50 nm</text>
<line x1="1250.15" y1="62.30" x2="1253.25" y2="62.30" stroke="#0000d8" stroke-width="4.3" stroke-linecap="round"/>
<line x1="1276.15" y1="62.30" x2="1278.25" y2="62.30" stroke="#0000d8" stroke-width="4.3" stroke-linecap="round"/>
<line x1="1300.65" y1="62.30" x2="1301.35" y2="62.30" stroke="#0000d8" stroke-width="4.3" stroke-linecap="round"/>
<text transform="translate(1307.04,69.80) scale(1.04,1)" style="font-family:'Liberation Sans', sans-serif;font-weight:normal;font-size:22.3px" fill="#000">60 nm</text>
<line x1="954.55" y1="89.60" x2="960.45" y2="89.60" stroke="#128282" stroke-width="4.3" stroke-linecap="round"/>
<line x1="973.95" y1="89.60" x2="979.95" y2="89.60" stroke="#128282" stroke-width="4.3" stroke-linecap="round"/>
<line x1="993.75" y1="89.60" x2="999.35" y2="89.60" stroke="#128282" stroke-width="4.3" stroke-linecap="round"/>
<text transform="translate(1012.24,97.10) scale(1.04,1)" style="font-family:'Liberation Sans', sans-serif;font-weight:normal;font-size:22.3px" fill="#000">70 nm</text>
<circle cx="1083.40" cy="89.50" r="1.90" fill="#d81ed8"/>
<circle cx="1091.47" cy="89.50" r="1.90" fill="#d81ed8"/>
<circle cx="1099.53" cy="89.50" r="1.90" fill="#d81ed8"/>
<circle cx="1107.60" cy="89.50" r="1.90" fill="#d81ed8"/>
<circle cx="1115.67" cy="89.50" r="1.90" fill="#d81ed8"/>
<circle cx="1123.73" cy="89.50" r="1.90" fill="#d81ed8"/>
<circle cx="1131.80" cy="89.50" r="1.90" fill="#d81ed8"/>
<text transform="translate(1140.56,97.10) scale(1.04,1)" style="font-family:'Liberation Sans', sans-serif;font-weight:normal;font-size:22.3px" fill="#000">80 nm</text>
<clipPath id="cc"><rect x="154.3" y="548.5" width="516.0" height="370.70000000000005"/></clipPath>
<rect x="154.30" y="548.50" width="516.00" height="370.70" fill="none" stroke="#000" stroke-width="1.4"/>
<line x1="154.30" y1="919.20" x2="154.30" y2="926.70" stroke="#000" stroke-width="1.3" />
<line x1="283.30" y1="919.20" x2="283.30" y2="926.70" stroke="#000" stroke-width="1.3" />
<line x1="412.30" y1="919.20" x2="412.30" y2="926.70" stroke="#000" stroke-width="1.3" />
<line x1="541.30" y1="919.20" x2="541.30" y2="926.70" stroke="#000" stroke-width="1.3" />
<line x1="670.30" y1="919.20" x2="670.30" y2="926.70" stroke="#000" stroke-width="1.3" />
<line x1="218.80" y1="919.20" x2="218.80" y2="923.20" stroke="#000" stroke-width="1.3" />
<line x1="347.80" y1="919.20" x2="347.80" y2="923.20" stroke="#000" stroke-width="1.3" />
<line x1="476.80" y1="919.20" x2="476.80" y2="923.20" stroke="#000" stroke-width="1.3" />
<line x1="605.80" y1="919.20" x2="605.80" y2="923.20" stroke="#000" stroke-width="1.3" />
<line x1="154.30" y1="919.20" x2="146.30" y2="919.20" stroke="#000" stroke-width="1.3" />
<line x1="154.30" y1="803.36" x2="146.30" y2="803.36" stroke="#000" stroke-width="1.3" />
<line x1="154.30" y1="687.51" x2="146.30" y2="687.51" stroke="#000" stroke-width="1.3" />
<line x1="154.30" y1="571.67" x2="146.30" y2="571.67" stroke="#000" stroke-width="1.3" />
<line x1="154.30" y1="861.28" x2="149.80" y2="861.28" stroke="#000" stroke-width="1.3" />
<line x1="154.30" y1="745.43" x2="149.80" y2="745.43" stroke="#000" stroke-width="1.3" />
<line x1="154.30" y1="629.59" x2="149.80" y2="629.59" stroke="#000" stroke-width="1.3" />
<line x1="205.90" y1="548.50" x2="205.90" y2="552.70" stroke="#000" stroke-width="1.3" />
<line x1="670.30" y1="585.57" x2="666.10" y2="585.57" stroke="#000" stroke-width="1.3" />
<line x1="257.50" y1="548.50" x2="257.50" y2="555.50" stroke="#000" stroke-width="1.3" />
<line x1="670.30" y1="622.64" x2="663.30" y2="622.64" stroke="#000" stroke-width="1.3" />
<line x1="309.10" y1="548.50" x2="309.10" y2="552.70" stroke="#000" stroke-width="1.3" />
<line x1="670.30" y1="659.71" x2="666.10" y2="659.71" stroke="#000" stroke-width="1.3" />
<line x1="360.70" y1="548.50" x2="360.70" y2="555.50" stroke="#000" stroke-width="1.3" />
<line x1="670.30" y1="696.78" x2="663.30" y2="696.78" stroke="#000" stroke-width="1.3" />
<line x1="412.30" y1="548.50" x2="412.30" y2="552.70" stroke="#000" stroke-width="1.3" />
<line x1="670.30" y1="733.85" x2="666.10" y2="733.85" stroke="#000" stroke-width="1.3" />
<line x1="463.90" y1="548.50" x2="463.90" y2="555.50" stroke="#000" stroke-width="1.3" />
<line x1="670.30" y1="770.92" x2="663.30" y2="770.92" stroke="#000" stroke-width="1.3" />
<line x1="515.50" y1="548.50" x2="515.50" y2="552.70" stroke="#000" stroke-width="1.3" />
<line x1="670.30" y1="807.99" x2="666.10" y2="807.99" stroke="#000" stroke-width="1.3" />
<line x1="567.10" y1="548.50" x2="567.10" y2="555.50" stroke="#000" stroke-width="1.3" />
<line x1="670.30" y1="845.06" x2="663.30" y2="845.06" stroke="#000" stroke-width="1.3" />
<line x1="618.70" y1="548.50" x2="618.70" y2="552.70" stroke="#000" stroke-width="1.3" />
<line x1="670.30" y1="882.13" x2="666.10" y2="882.13" stroke="#000" stroke-width="1.3" />
<text transform="translate(64.86,582.57) scale(1.0,1)" style="font-family:'Liberation Sans', sans-serif;font-weight:bold;font-size:27.5px;letter-spacing:1.35px" fill="#000">3x10</text>
<text transform="translate(132.42,566.57) scale(1.0,1)" style="font-family:'Liberation Sans', sans-serif;font-weight:bold;font-size:16.3px" fill="#000">6</text>
<text transform="translate(64.86,698.41) scale(1.0,1)" style="font-family:'Liberation Sans', sans-serif;font-weight:bold;font-size:27.5px;letter-spacing:1.35px" fill="#000">2x10</text>
<text transform="translate(132.42,682.41) scale(1.0,1)" style="font-family:'Liberation Sans', sans-serif;font-weight:bold;font-size:16.3px" fill="#000">6</text>
<text transform="translate(64.86,814.26) scale(1.0,1)" style="font-family:'Liberation Sans', sans-serif;font-weight:bold;font-size:27.5px;letter-spacing:1.35px" fill="#000">1x10</text>
<text transform="translate(132.42,798.26) scale(1.0,1)" style="font-family:'Liberation Sans', sans-serif;font-weight:bold;font-size:16.3px" fill="#000">6</text>
<text transform="translate(124.74,924.90) scale(1.0,1)" style="font-family:'Liberation Sans', sans-serif;font-weight:bold;font-size:27.5px;letter-spacing:0.8px" fill="#000">0</text>
<text transform="translate(137.74,954.90) scale(1.0,1)" style="font-family:'Liberation Sans', sans-serif;font-weight:bold;font-size:27.5px;letter-spacing:0.8px" fill="#000">70</text>
<text transform="translate(266.88,954.90) scale(1.0,1)" style="font-family:'Liberation Sans', sans-serif;font-weight:bold;font-size:27.5px;letter-spacing:0.8px" fill="#000">80</text>
<text transform="translate(395.81,954.90) scale(1.0,1)" style="font-family:'Liberation Sans', sans-serif;font-weight:bold;font-size:27.5px;letter-spacing:0.8px" fill="#000">90</text>
<text transform="translate(516.43,954.90) scale(1.0,1)" style="font-family:'Liberation Sans', sans-serif;font-weight:bold;font-size:27.5px;letter-spacing:0.8px" fill="#000">100</text>
<text transform="translate(646.19,954.90) scale(1.0,1)" style="font-family:'Liberation Sans', sans-serif;font-weight:bold;font-size:27.5px;letter-spacing:0.8px" fill="#000">110</text>
<text transform="translate(344.20,993.40) scale(1.07,1)" style="font-family:'Liberation Serif', serif;font-weight:normal;font-size:32.8px" fill="#000">Δ</text>
<text transform="translate(364.75,993.20) scale(1.155,1)" style="font-family:'Liberation Sans', sans-serif;font-weight:bold;font-size:32.6px" fill="#000">b (nm)</text>
<text transform="translate(0.22,992.10) scale(1.04,1)" style="font-family:'Liberation Sans', sans-serif;font-weight:bold;font-size:42px" fill="#000">(c)</text>
<clipPath id="qc2"><rect x="-34.00" y="601.50" width="80.30" height="260"/></clipPath>
<g clip-path="url(#qc2)"><text transform="translate(46.00,823.12) scale(1.0,1) rotate(-90)" style="font-family:'Liberation Sans', sans-serif;font-weight:normal;font-size:36px">Q-factor</text></g>
<line x1="40.06" y1="808.72" x2="46.36" y2="798.82" stroke="#000" stroke-width="2.66" stroke-linecap="butt"/>
<path d="M154.50,833.48 L156.00,832.24 L157.50,830.99 L159.00,829.73 L160.50,828.46 L162.00,827.19 L163.50,825.90 L165.00,824.62 L166.50,823.33 L168.00,822.03 L169.50,820.73 L171.00,819.42 L172.50,818.11 L174.00,816.80 L175.50,815.49 L177.00,814.17 L178.50,812.85 L180.00,811.54 L181.50,810.22 L183.00,808.90 L184.50,807.58 L186.00,806.26 L187.50,804.94 L189.00,803.63 L190.50,802.32 L192.00,801.01 L193.50,799.70 L195.00,798.40 L196.50,797.10 L198.00,795.81 L199.50,794.53 L201.00,793.24 L202.50,791.97 L204.00,790.70 L205.50,789.44 L207.00,788.19 L208.50,786.95 L210.00,785.71 L211.50,784.48 L213.00,783.27 L214.50,782.06 L216.00,780.87 L217.50,779.69 L219.00,778.51 L220.50,777.35 L222.00,776.21 L223.50,775.07 L225.00,773.95 L226.50,772.84 L228.00,771.74 L229.50,770.65 L231.00,769.58 L232.50,768.51 L234.00,767.45 L235.50,766.40 L237.00,765.36 L238.50,764.33 L240.00,763.31 L241.50,762.30 L243.00,761.29 L244.50,760.29 L246.00,759.30 L247.50,758.32 L249.00,757.34 L250.50,756.37 L252.00,755.40 L253.50,754.44 L255.00,753.49 L256.50,752.54 L258.00,751.60 L259.50,750.66 L261.00,749.72 L262.50,748.79 L264.00,747.87 L265.50,746.95 L267.00,746.04 L268.50,745.13 L270.00,744.23 L271.50,743.34 L273.00,742.46 L274.50,741.58 L276.00,740.71 L277.50,739.85 L279.00,739.00 L280.50,738.15 L282.00,737.32 L283.50,736.50 L285.00,735.69 L286.50,734.89 L288.00,734.10 L289.50,733.32 L291.00,732.55 L292.50,731.79 L294.00,731.05 L295.50,730.32 L297.00,729.61 L298.50,728.90 L300.00,728.22 L301.50,727.54 L303.00,726.88 L304.50,726.24 L306.00,725.61 L307.50,725.00 L309.00,724.40 L310.50,723.82 L312.00,723.26 L313.50,722.71 L315.00,722.18 L316.50,721.66 L318.00,721.16 L319.50,720.67 L321.00,720.20 L322.50,719.74 L324.00,719.29 L325.50,718.85 L327.00,718.43 L328.50,718.02 L330.00,717.61 L331.50,717.22 L333.00,716.85 L334.50,716.48 L336.00,716.12 L337.50,715.76 L339.00,715.42 L340.50,715.09 L342.00,714.76 L343.50,714.45 L345.00,714.13 L346.50,713.83 L348.00,713.54 L349.50,713.25 L351.00,712.96 L352.50,712.69 L354.00,712.42 L355.50,712.16 L357.00,711.91 L358.50,711.66 L360.00,711.42 L361.50,711.18 L363.00,710.96 L364.50,710.73 L366.00,710.52 L367.50,710.31 L369.00,710.10 L370.50,709.90 L372.00,709.71 L373.50,709.52 L375.00,709.34 L376.50,709.17 L378.00,708.99 L379.50,708.83 L381.00,708.67 L382.50,708.51 L384.00,708.36 L385.50,708.22 L387.00,708.07 L388.50,707.94 L390.00,707.80 L391.50,707.68 L393.00,707.55 L394.50,707.43 L396.00,707.32 L397.50,707.21 L399.00,707.10 L400.50,706.99 L402.00,706.89 L403.50,706.80 L405.00,706.70 L406.50,706.62 L408.00,706.53 L409.50,706.45 L411.00,706.37 L412.50,706.29 L414.00,706.21 L415.50,706.14 L417.00,706.07 L418.50,706.01 L420.00,705.94 L421.50,705.88 L423.00,705.82 L424.50,705.76 L426.00,705.71 L427.50,705.66 L429.00,705.61 L430.50,705.56 L432.00,705.51 L433.50,705.46 L435.00,705.42 L436.50,705.37 L438.00,705.33 L439.50,705.29 L441.00,705.25 L442.50,705.21 L444.00,705.17 L445.50,705.14 L447.00,705.10 L448.50,705.06 L450.00,705.03 L451.50,704.99 L453.00,704.96 L454.50,704.92 L456.00,704.89 L457.50,704.85 L459.00,704.82 L460.50,704.78 L462.00,704.75 L463.50,704.71 L465.00,704.67 L466.50,704.64 L468.00,704.60 L469.50,704.56 L471.00,704.52 L472.50,704.48 L474.00,704.44 L475.50,704.39 L477.00,704.35 L478.50,704.30 L480.00,704.26 L481.50,704.21 L483.00,704.16 L484.50,704.12 L486.00,704.07 L487.50,704.02 L489.00,703.96 L490.50,703.91 L492.00,703.86 L493.50,703.81 L495.00,703.75 L496.50,703.70 L498.00,703.64 L499.50,703.58 L501.00,703.53 L502.50,703.47 L504.00,703.41 L505.50,703.35 L507.00,703.29 L508.50,703.23 L510.00,703.16 L511.50,703.10 L513.00,703.04 L514.50,702.97 L516.00,702.91 L517.50,702.84 L519.00,702.78 L520.50,702.71 L522.00,702.64 L523.50,702.57 L525.00,702.50 L526.50,702.44 L528.00,702.37 L529.50,702.30 L531.00,702.22 L532.50,702.15 L534.00,702.08 L535.50,702.01 L537.00,701.93 L538.50,701.86 L540.00,701.79 L541.50,701.71 L543.00,701.64 L544.50,701.56 L546.00,701.48 L547.50,701.41 L549.00,701.33 L550.50,701.25 L552.00,701.17 L553.50,701.10 L555.00,701.02 L556.50,700.94 L558.00,700.86 L559.50,700.78 L561.00,700.70 L562.50,700.62 L564.00,700.54 L565.50,700.45 L567.00,700.37 L568.50,700.29 L570.00,700.21 L571.50,700.13 L573.00,700.04 L574.50,699.96 L576.00,699.88 L577.50,699.79 L579.00,699.71 L580.50,699.63 L582.00,699.54 L583.50,699.46 L585.00,699.37 L586.50,699.29 L588.00,699.20 L589.50,699.12 L591.00,699.03 L592.50,698.95 L594.00,698.86 L595.50,698.78 L597.00,698.69 L598.50,698.60 L600.00,698.52 L601.50,698.43 L603.00,698.35 L604.50,698.26 L606.00,698.17 L607.50,698.09 L609.00,698.00 L610.50,697.91 L612.00,697.83 L613.50,697.74 L615.00,697.66 L616.50,697.57 L618.00,697.48 L619.50,697.40 L621.00,697.31 L622.50,697.23 L624.00,697.14 L625.50,697.05 L627.00,696.97 L628.50,696.88 L630.00,696.80 L631.50,696.71 L633.00,696.63 L634.50,696.54 L636.00,696.46 L637.50,696.37 L639.00,696.29 L640.50,696.20 L642.00,696.12 L643.50,696.04 L645.00,695.95 L646.50,695.87 L648.00,695.79 L649.50,695.70 L651.00,695.62 L652.50,695.54 L654.00,695.46 L655.50,695.38 L657.00,695.30 L658.50,695.21 L660.00,695.13 L661.50,695.05 L663.00,694.97 L664.50,694.89 L666.00,694.81 L667.50,694.74 L669.00,694.66 L670.50,694.58 L672.00,694.50" fill="none" stroke="#000000" stroke-width="4.5" stroke-linecap="round" stroke-linejoin="round" clip-path="url(#cc)"/>
<path d="M156.11,846.90 L156.50,846.60 L156.90,846.28 L157.30,845.97 L157.70,845.66 L158.10,845.35 L158.50,845.04 L158.90,844.73 L159.30,844.42 L159.70,844.11 L160.10,843.79 L160.50,843.48 L160.90,843.18 L161.30,842.87 L161.70,842.56 L162.10,842.25 L162.50,841.94 L162.90,841.63 L163.30,841.32 L163.70,841.01 L164.10,840.70 L164.50,840.40 L164.90,840.09 L165.30,839.78 L165.70,839.47 L166.10,839.17 L166.50,838.86 L166.90,838.56 L167.30,838.25 L167.70,837.94 L168.10,837.64 L168.50,837.33 L168.90,837.03 L169.30,836.72 L169.70,836.42 L170.10,836.11 L170.50,835.81 L170.90,835.51 L171.30,835.20 L171.70,834.90 L172.10,834.60 L172.36,834.40 M197.37,816.09 L197.70,815.86 L198.10,815.58 L198.50,815.30 L198.90,815.02 L199.30,814.74 L199.70,814.46 L200.10,814.18 L200.50,813.90 L200.90,813.62 L201.30,813.35 L201.70,813.07 L202.10,812.79 L202.50,812.51 L202.90,812.24 L203.30,811.96 L203.70,811.68 L204.10,811.41 L204.50,811.13 L204.90,810.86 L205.30,810.59 L205.70,810.31 L206.10,810.04 L206.50,809.77 L206.90,809.49 L207.30,809.22 L207.70,808.95 L208.10,808.68 L208.50,808.41 L208.90,808.14 L209.30,807.87 L209.70,807.60 L210.10,807.33 L210.50,807.06 L210.90,806.79 L211.30,806.52 L211.70,806.26 L212.10,805.99 L212.50,805.72 L212.90,805.46 L213.30,805.19 L213.70,804.93 L214.10,804.66 L214.50,804.40 L214.90,804.14 L215.09,804.01 M242.08,787.38 L242.10,787.37 L242.50,787.14 L242.90,786.91 L243.30,786.69 L243.70,786.46 L244.10,786.24 L244.50,786.01 L244.90,785.79 L245.30,785.56 L245.70,785.34 L246.10,785.12 L246.50,784.89 L246.90,784.67 L247.30,784.45 L247.70,784.23 L248.10,784.01 L248.50,783.79 L248.90,783.57 L249.30,783.35 L249.70,783.14 L250.10,782.92 L250.50,782.70 L250.90,782.49 L251.30,782.27 L251.70,782.06 L252.10,781.85 L252.50,781.63 L252.90,781.42 L253.30,781.21 L253.70,781.00 L254.10,780.79 L254.50,780.58 L254.90,780.37 L255.30,780.16 L255.70,779.95 L256.10,779.74 L256.50,779.53 L256.90,779.33 L257.30,779.12 L257.70,778.92 L258.10,778.71 L258.50,778.51 L258.90,778.30 L258.97,778.27 M284.69,766.43 L284.90,766.34 L285.30,766.18 L285.70,766.02 L286.10,765.85 L286.50,765.69 L286.90,765.53 L287.30,765.36 L287.70,765.20 L288.10,765.04 L288.50,764.88 L288.90,764.72 L289.30,764.56 L289.70,764.40 L290.10,764.25 L290.50,764.09 L290.90,763.93 L291.30,763.78 L291.70,763.62 L292.10,763.46 L292.50,763.31 L292.90,763.16 L293.30,763.00 L293.70,762.85 L294.10,762.70 L294.50,762.55 L294.90,762.39 L295.30,762.24 L295.70,762.09 L296.10,761.94 L296.50,761.79 L296.90,761.65 L297.30,761.50 L297.70,761.35 L298.10,761.20 L298.50,761.06 L298.90,760.91 L299.30,760.77 L299.70,760.62 L300.10,760.48 L300.50,760.33 L300.90,760.19 L301.30,760.05 L301.70,759.91 L301.96,759.81 M328.58,751.62 L328.90,751.53 L329.30,751.43 L329.70,751.32 L330.10,751.22 L330.50,751.12 L330.90,751.01 L331.30,750.91 L331.70,750.81 L332.10,750.71 L332.50,750.61 L332.90,750.51 L333.30,750.41 L333.70,750.31 L334.10,750.21 L334.50,750.11 L334.90,750.01 L335.30,749.92 L335.70,749.82 L336.10,749.72 L336.50,749.63 L336.90,749.53 L337.30,749.44 L337.70,749.34 L338.10,749.25 L338.50,749.16 L338.90,749.06 L339.30,748.97 L339.70,748.88 L340.10,748.79 L340.50,748.70 L340.90,748.61 L341.30,748.52 L341.70,748.43 L342.10,748.34 L342.50,748.25 L342.90,748.17 L343.30,748.08 L343.70,747.99 L344.10,747.91 L344.50,747.82 L344.90,747.74 L345.09,747.69 M371.73,743.11 L372.10,743.06 L372.50,743.01 L372.90,742.95 L373.30,742.90 L373.70,742.85 L374.10,742.80 L374.50,742.74 L374.90,742.69 L375.30,742.64 L375.70,742.59 L376.10,742.54 L376.50,742.49 L376.90,742.44 L377.30,742.40 L377.70,742.35 L378.10,742.30 L378.50,742.25 L378.90,742.20 L379.30,742.16 L379.70,742.11 L380.10,742.06 L380.50,742.02 L380.90,741.97 L381.30,741.93 L381.70,741.88 L382.10,741.84 L382.50,741.80 L382.90,741.75 L383.30,741.71 L383.70,741.67 L384.10,741.63 L384.50,741.58 L384.90,741.54 L385.30,741.50 L385.70,741.46 L386.10,741.42 L386.50,741.38 L386.90,741.34 L387.30,741.30 L387.70,741.26 L388.10,741.22 L388.50,741.18 L388.76,741.16 M414.75,739.38 L414.90,739.38 L415.30,739.36 L415.70,739.34 L416.10,739.33 L416.50,739.31 L416.90,739.29 L417.30,739.28 L417.70,739.26 L418.10,739.25 L418.50,739.23 L418.90,739.22 L419.30,739.20 L419.70,739.19 L420.10,739.17 L420.50,739.16 L420.90,739.14 L421.30,739.13 L421.70,739.12 L422.10,739.10 L422.50,739.09 L422.90,739.08 L423.30,739.07 L423.70,739.05 L424.10,739.04 L424.50,739.03 L424.90,739.02 L425.30,739.01 L425.70,739.00 L426.10,738.98 L426.50,738.97 L426.90,738.96 L427.30,738.95 L427.70,738.94 L428.10,738.93 L428.50,738.92 L428.90,738.92 L429.30,738.91 L429.70,738.90 L430.10,738.89 L430.50,738.88 L430.90,738.87 L431.30,738.87 L431.70,738.86 L431.85,738.85 M458.65,738.76 L458.90,738.76 L459.30,738.76 L459.70,738.76 L460.10,738.77 L460.50,738.77 L460.90,738.78 L461.30,738.78 L461.70,738.79 L462.10,738.79 L462.50,738.79 L462.90,738.80 L463.30,738.80 L463.70,738.81 L464.10,738.81 L464.50,738.82 L464.90,738.82 L465.30,738.83 L465.70,738.84 L466.10,738.84 L466.50,738.85 L466.90,738.85 L467.30,738.86 L467.70,738.86 L468.10,738.87 L468.50,738.88 L468.90,738.88 L469.30,738.89 L469.70,738.89 L470.10,738.90 L470.50,738.91 L470.90,738.91 L471.30,738.92 L471.70,738.93 L472.10,738.93 L472.50,738.94 L472.90,738.95 L473.30,738.95 L473.70,738.96 L474.10,738.97 L474.50,738.98 L474.90,738.98 L475.05,738.99 M501.85,739.56 L502.10,739.56 L502.50,739.57 L502.90,739.58 L503.30,739.59 L503.70,739.60 L504.10,739.61 L504.50,739.61 L504.90,739.62 L505.30,739.63 L505.70,739.64 L506.10,739.65 L506.50,739.66 L506.90,739.67 L507.30,739.67 L507.70,739.68 L508.10,739.69 L508.50,739.70 L508.90,739.71 L509.30,739.72 L509.70,739.73 L510.10,739.73 L510.50,739.74 L510.90,739.75 L511.30,739.76 L511.70,739.77 L512.10,739.78 L512.50,739.78 L512.90,739.79 L513.30,739.80 L513.70,739.81 L514.10,739.82 L514.50,739.83 L514.90,739.83 L515.30,739.84 L515.70,739.85 L516.10,739.86 L516.50,739.87 L516.90,739.88 L517.30,739.89 L517.70,739.89 L518.10,739.90 L518.50,739.91 L518.90,739.92 L518.95,739.92 M545.75,740.51 L546.10,740.51 L546.50,740.52 L546.90,740.53 L547.30,740.54 L547.70,740.55 L548.10,740.56 L548.50,740.57 L548.90,740.58 L549.30,740.59 L549.70,740.60 L550.10,740.61 L550.50,740.62 L550.90,740.63 L551.30,740.64 L551.70,740.65 L552.10,740.66 L552.50,740.67 L552.90,740.68 L553.30,740.69 L553.70,740.70 L554.10,740.71 L554.50,740.72 L554.90,740.73 L555.30,740.74 L555.70,740.75 L556.10,740.76 L556.50,740.77 L556.90,740.78 L557.30,740.79 L557.70,740.80 L558.10,740.81 L558.50,740.82 L558.90,740.83 L559.30,740.84 L559.70,740.85 L560.10,740.87 L560.50,740.88 L560.90,740.89 L561.30,740.90 L561.70,740.91 L562.10,740.92 L562.45,740.93 M588.85,741.77 L588.90,741.77 L589.30,741.78 L589.70,741.80 L590.10,741.81 L590.50,741.83 L590.90,741.84 L591.30,741.86 L591.70,741.87 L592.10,741.89 L592.50,741.90 L592.90,741.92 L593.30,741.94 L593.70,741.95 L594.10,741.97 L594.50,741.98 L594.90,742.00 L595.30,742.01 L595.70,742.03 L596.10,742.05 L596.50,742.06 L596.90,742.08 L597.30,742.10 L597.70,742.11 L598.10,742.13 L598.50,742.14 L598.90,742.16 L599.30,742.18 L599.70,742.19 L600.10,742.21 L600.50,742.23 L600.90,742.25 L601.30,742.26 L601.70,742.28 L602.10,742.30 L602.50,742.31 L602.90,742.33 L603.30,742.35 L603.70,742.37 L604.10,742.39 L604.50,742.40 L604.90,742.42 L605.15,742.43 M632.45,743.89 L632.50,743.89 L632.90,743.91 L633.30,743.94 L633.70,743.96 L634.10,743.99 L634.50,744.02 L634.90,744.04 L635.30,744.07 L635.70,744.09 L636.10,744.12 L636.50,744.14 L636.90,744.17 L637.30,744.20 L637.70,744.22 L638.10,744.25 L638.50,744.28 L638.90,744.30 L639.30,744.33 L639.70,744.36 L640.10,744.38 L640.50,744.41 L640.90,744.44 L641.30,744.47 L641.70,744.49 L642.10,744.52 L642.50,744.55 L642.90,744.58 L643.30,744.61 L643.70,744.63 L644.10,744.66 L644.50,744.69 L644.90,744.72 L645.30,744.75 L645.70,744.78 L646.10,744.81 L646.50,744.84 L646.90,744.86 L647.30,744.89 L647.70,744.92 L648.10,744.95 L648.50,744.98 L648.76,745.00" fill="none" stroke="#f00000" stroke-width="4.1" stroke-linecap="round" stroke-linejoin="round" clip-path="url(#cc)"/>
<path d="M155.66,807.60 L155.70,807.54 L156.10,806.91 L156.50,806.29 L156.90,805.67 L157.03,805.47 M171.16,783.62 L171.30,783.41 L171.70,782.80 L172.10,782.19 L172.50,781.58 L172.64,781.37 M187.53,759.23 L187.70,758.99 L188.10,758.41 L188.50,757.84 L188.90,757.26 L189.07,757.02 M205.58,734.29 L205.70,734.13 L206.10,733.61 L206.50,733.09 L206.90,732.57 L207.22,732.15 M226.38,709.24 L226.50,709.11 L226.90,708.68 L227.30,708.25 L227.70,707.82 L228.10,707.39 L228.22,707.26 M252.30,685.67 L252.50,685.53 L252.90,685.25 L253.30,684.97 L253.70,684.69 L254.10,684.41 L254.50,684.14 L254.51,684.13 M278.08,673.19 L278.10,673.19 L278.50,673.10 L278.90,673.01 L279.30,672.92 L279.70,672.84 L280.10,672.76 L280.50,672.68 L280.72,672.64 M304.09,673.50 L304.10,673.51 L304.50,673.60 L304.90,673.70 L305.30,673.80 L305.70,673.90 L306.10,674.01 L306.50,674.11 L306.71,674.17 M329.72,683.91 L330.10,684.12 L330.50,684.34 L330.90,684.56 L331.30,684.79 L331.70,685.02 L332.07,685.23 M355.41,700.58 L355.70,700.79 L356.10,701.08 L356.50,701.37 L356.90,701.66 L357.30,701.95 L357.59,702.16 M381.71,720.15 L382.10,720.44 L382.50,720.73 L382.90,721.03 L383.30,721.32 L383.70,721.62 L383.89,721.76 M407.35,737.79 L407.70,738.01 L408.10,738.25 L408.50,738.49 L408.90,738.73 L409.30,738.97 L409.66,739.18 M432.65,750.75 L432.90,750.86 L433.30,751.02 L433.70,751.19 L434.10,751.35 L434.50,751.52 L434.90,751.68 L435.15,751.78 M458.99,759.64 L459.30,759.72 L459.70,759.82 L460.10,759.93 L460.50,760.03 L460.90,760.13 L461.30,760.23 L461.61,760.31 M485.26,764.90 L485.30,764.90 L485.70,764.96 L486.10,765.02 L486.50,765.08 L486.90,765.13 L487.30,765.19 L487.70,765.24 L487.94,765.28 M510.95,767.61 L511.30,767.64 L511.70,767.67 L512.10,767.69 L512.50,767.72 L512.90,767.75 L513.30,767.78 L513.65,767.80 M536.95,768.96 L537.30,768.98 L537.70,768.99 L538.10,769.01 L538.50,769.02 L538.90,769.04 L539.30,769.05 L539.65,769.07 M563.15,769.84 L563.30,769.85 L563.70,769.86 L564.10,769.87 L564.50,769.88 L564.90,769.89 L565.30,769.91 L565.70,769.92 L565.85,769.92 M589.15,770.58 L589.30,770.58 L589.70,770.59 L590.10,770.60 L590.50,770.61 L590.90,770.62 L591.30,770.63 L591.70,770.65 L591.85,770.65 M615.15,771.34 L615.30,771.34 L615.70,771.36 L616.10,771.37 L616.50,771.38 L616.90,771.40 L617.30,771.41 L617.70,771.42 L617.85,771.43 M640.15,772.26 L640.50,772.27 L640.90,772.29 L641.30,772.31 L641.70,772.32 L642.10,772.34 L642.50,772.36 L642.85,772.37 M666.15,773.56 L666.50,773.58 L666.85,773.61" fill="none" stroke="#0000d8" stroke-width="4.3" stroke-linecap="round" stroke-linejoin="round" clip-path="url(#cc)"/>
<path d="M156.60,887.62 L156.90,887.62 L157.30,887.61 L157.70,887.60 L158.10,887.59 L158.50,887.57 L158.90,887.56 L159.30,887.55 L159.70,887.54 L160.10,887.53 L160.40,887.52 M174.80,886.82 L174.90,886.81 L175.30,886.78 L175.70,886.75 L176.10,886.72 L176.50,886.69 L176.90,886.66 L177.30,886.62 L177.70,886.59 L178.10,886.56 L178.50,886.52 L178.90,886.49 L179.30,886.45 L179.70,886.41 L179.91,886.40 M194.27,884.51 L194.50,884.47 L194.90,884.40 L195.30,884.33 L195.70,884.26 L196.10,884.18 L196.50,884.11 L196.90,884.03 L197.30,883.96 L197.70,883.88 L198.10,883.80 L198.50,883.72 L198.90,883.64 L199.30,883.55 L199.55,883.50 M213.70,879.73 L214.10,879.60 L214.50,879.47 L214.90,879.33 L215.30,879.20 L215.70,879.06 L216.10,878.92 L216.50,878.78 L216.90,878.64 L217.30,878.49 L217.70,878.35 L218.10,878.20 L218.50,878.05 L218.90,877.90 L219.30,877.75 L219.70,877.60 L219.95,877.50 M233.16,871.44 L233.30,871.36 L233.70,871.15 L234.10,870.93 L234.50,870.71 L234.90,870.49 L235.30,870.27 L235.70,870.05 L236.10,869.82 L236.50,869.59 L236.90,869.36 L237.30,869.13 L237.70,868.89 L238.10,868.66 L238.50,868.42 L238.90,868.18 L239.30,867.94 L239.62,867.74 M253.26,858.23 L253.30,858.19 L253.70,857.88 L254.10,857.56 L254.50,857.24 L254.90,856.92 L255.30,856.59 L255.70,856.27 L256.10,855.94 L256.50,855.61 L256.90,855.28 L257.30,854.94 L257.70,854.60 L258.10,854.26 L258.50,853.92 L258.90,853.58 L259.30,853.23 L259.32,853.21 M273.34,839.66 L273.70,839.28 L274.10,838.85 L274.50,838.42 L274.90,837.98 L275.30,837.54 L275.70,837.10 L276.10,836.66 L276.50,836.21 L276.90,835.77 L277.30,835.32 L277.70,834.86 L278.10,834.41 L278.33,834.15 M288.77,821.25 L288.90,821.07 L289.30,820.54 L289.70,820.00 L290.10,819.46 L290.50,818.92 L290.90,818.37 L291.30,817.82 L291.70,817.27 L292.10,816.72 L292.50,816.16 L292.90,815.60 L293.29,815.06 M301.95,802.29 L302.10,802.06 L302.50,801.44 L302.90,800.82 L303.30,800.20 L303.70,799.58 L304.10,798.95 L304.50,798.32 L304.90,797.69 L305.30,797.06 L305.70,796.43 L305.89,796.13 M314.37,782.20 L314.50,781.98 L314.90,781.31 L315.30,780.63 L315.70,779.95 L316.10,779.27 L316.50,778.59 L316.90,777.91 L317.30,777.22 L317.70,776.54 L317.74,776.46 M325.25,763.48 L325.30,763.40 L325.70,762.71 L326.10,762.03 L326.50,761.34 L326.90,760.66 L327.30,759.98 L327.70,759.30 L328.10,758.63 L328.50,757.96 L328.62,757.75 M336.62,744.82 L336.90,744.38 L337.30,743.75 L337.70,743.12 L338.10,742.49 L338.50,741.86 L338.90,741.23 L339.30,740.60 L339.70,739.97 L340.10,739.34 L340.48,738.74 M348.91,725.25 L349.30,724.63 L349.70,723.99 L350.10,723.35 L350.50,722.71 L350.90,722.07 L351.30,721.43 L351.70,720.80 L352.10,720.16 L352.50,719.53 L352.77,719.10 M361.27,706.10 L361.30,706.06 L361.70,705.47 L362.10,704.88 L362.50,704.29 L362.90,703.71 L363.30,703.13 L363.70,702.55 L364.10,701.97 L364.50,701.40 L364.90,700.82 L364.99,700.69 M375.09,687.01 L375.30,686.74 L375.70,686.24 L376.10,685.73 L376.50,685.23 L376.90,684.74 L377.30,684.24 L377.70,683.75 L378.10,683.26 L378.50,682.78 L378.90,682.29 L379.30,681.81 L379.70,681.34 L379.93,681.06 M393.06,667.46 L393.30,667.25 L393.70,666.90 L394.10,666.56 L394.50,666.22 L394.90,665.89 L395.30,665.56 L395.70,665.23 L396.10,664.91 L396.50,664.59 L396.90,664.28 L397.30,663.97 L397.70,663.67 L398.00,663.44 M412.68,655.47 L412.90,655.39 L413.30,655.27 L413.70,655.14 L414.10,655.03 L414.50,654.91 L414.90,654.80 L415.30,654.70 L415.70,654.60 L416.10,654.51 L416.50,654.42 L416.90,654.34 L417.30,654.26 L417.52,654.22 M431.84,654.86 L432.10,654.93 L432.50,655.05 L432.90,655.17 L433.30,655.30 L433.70,655.43 L434.10,655.57 L434.50,655.71 L434.90,655.86 L435.30,656.01 L435.70,656.16 L436.10,656.32 L436.50,656.49 L436.90,656.66 L437.30,656.83 L437.50,656.91 M451.54,665.07 L451.70,665.18 L452.10,665.45 L452.50,665.73 L452.90,666.01 L453.30,666.29 L453.70,666.57 L454.10,666.86 L454.50,667.14 L454.90,667.43 L455.30,667.72 L455.70,668.01 L456.10,668.31 L456.50,668.60 L456.90,668.90 L457.03,669.00 M471.33,681.09 L471.70,681.44 L472.10,681.83 L472.50,682.21 L472.90,682.60 L473.30,682.99 L473.70,683.39 L474.10,683.78 L474.50,684.18 L474.90,684.59 L475.30,684.99 L475.70,685.40 L476.10,685.81 L476.50,686.23 L476.90,686.64 L477.16,686.92 M489.47,700.81 L489.70,701.08 L490.10,701.54 L490.50,702.00 L490.90,702.47 L491.30,702.93 L491.70,703.39 L492.10,703.85 L492.50,704.32 L492.90,704.78 L493.30,705.24 L493.70,705.70 L494.02,706.07 M506.28,720.19 L506.50,720.45 L506.90,720.91 L507.30,721.38 L507.70,721.84 L508.10,722.30 L508.50,722.76 L508.90,723.22 L509.30,723.68 L509.70,724.14 L510.10,724.60 L510.50,725.06 L510.90,725.52 L510.92,725.55 M522.41,738.51 L522.50,738.61 L522.90,739.04 L523.30,739.48 L523.70,739.92 L524.10,740.35 L524.50,740.78 L524.90,741.22 L525.30,741.65 L525.70,742.07 L526.10,742.50 L526.50,742.93 L526.90,743.35 L527.30,743.78 L527.65,744.14 M540.84,757.14 L540.90,757.19 L541.30,757.56 L541.70,757.92 L542.10,758.28 L542.50,758.64 L542.90,759.00 L543.30,759.36 L543.70,759.71 L544.10,760.07 L544.50,760.42 L544.90,760.77 L545.30,761.12 L545.70,761.47 L546.10,761.81 L546.50,762.15 L546.90,762.50 L547.29,762.83 M560.61,773.18 L560.90,773.38 L561.30,773.66 L561.70,773.94 L562.10,774.21 L562.50,774.49 L562.90,774.76 L563.30,775.03 L563.70,775.30 L564.10,775.57 L564.50,775.84 L564.90,776.10 L565.30,776.36 L565.70,776.62 L566.10,776.88 L566.42,777.09 M581.18,785.38 L581.30,785.44 L581.70,785.63 L582.10,785.82 L582.50,786.01 L582.90,786.20 L583.30,786.39 L583.70,786.57 L584.10,786.75 L584.50,786.94 L584.90,787.12 L585.30,787.30 L585.70,787.47 L586.10,787.65 L586.50,787.82 L586.67,787.89 M600.80,793.07 L600.90,793.10 L601.30,793.22 L601.70,793.34 L602.10,793.45 L602.50,793.57 L602.90,793.68 L603.30,793.80 L603.70,793.91 L604.10,794.02 L604.50,794.13 L604.90,794.24 L605.30,794.35 L605.70,794.45 L606.06,794.55 M620.37,797.55 L620.50,797.58 L620.90,797.64 L621.30,797.70 L621.70,797.77 L622.10,797.83 L622.50,797.89 L622.90,797.95 L623.30,798.01 L623.70,798.07 L624.10,798.12 L624.50,798.18 L624.90,798.24 L625.30,798.29 L625.52,798.32 M639.89,799.77 L640.10,799.79 L640.50,799.81 L640.90,799.84 L641.30,799.87 L641.70,799.90 L642.10,799.92 L642.50,799.95 L642.90,799.97 L643.30,800.00 L643.70,800.02 L644.10,800.05 L644.50,800.07 L644.90,800.09 L645.00,800.10 M660.40,800.70 L660.50,800.70 L660.90,800.72 L661.30,800.73 L661.70,800.74 L662.10,800.75 L662.50,800.76 L662.90,800.77 L663.30,800.78 L663.70,800.79 L664.10,800.80 L664.50,800.81 L664.90,800.82 L665.30,800.83 L665.40,800.83" fill="none" stroke="#128282" stroke-width="4.2" stroke-linecap="round" stroke-linejoin="round" clip-path="url(#cc)"/>
<path d="M154.70,899.63 L156.20,899.57 L157.70,899.51 L159.20,899.45 L160.70,899.39 L162.20,899.33 L163.70,899.26 L165.20,899.20 L166.70,899.14 L168.20,899.07 L169.70,899.01 L171.20,898.94 L172.70,898.87 L174.20,898.80 L175.70,898.73 L177.20,898.66 L178.70,898.59 L180.20,898.51 L181.70,898.43 L183.20,898.35 L184.70,898.27 L186.20,898.19 L187.70,898.10 L189.20,898.01 L190.70,897.92 L192.20,897.82 L193.70,897.73 L195.20,897.63 L196.70,897.52 L198.20,897.42 L199.70,897.31 L201.20,897.19 L202.70,897.07 L204.20,896.95 L205.70,896.83 L207.20,896.70 L208.70,896.57 L210.20,896.43 L211.70,896.29 L213.20,896.15 L214.70,896.00 L216.20,895.84 L217.70,895.68 L219.20,895.52 L220.70,895.35 L222.20,895.18 L223.70,895.00 L225.20,894.81 L226.70,894.62 L228.20,894.43 L229.70,894.23 L231.20,894.02 L232.70,893.81 L234.20,893.59 L235.70,893.36 L237.20,893.13 L238.70,892.90 L240.20,892.65 L241.70,892.40 L243.20,892.15 L244.70,891.88 L246.20,891.61 L247.70,891.33 L249.20,891.05 L250.70,890.76 L252.20,890.46 L253.70,890.15 L255.20,889.83 L256.70,889.51 L258.20,889.18 L259.70,888.84 L261.20,888.50 L262.70,888.14 L264.20,887.78 L265.70,887.41 L267.20,887.03 L268.70,886.64 L270.20,886.24 L271.70,885.84 L273.20,885.42 L274.70,885.00 L276.20,884.56 L277.70,884.12 L279.20,883.67 L280.70,883.20 L282.20,882.73 L283.70,882.25 L285.20,881.76 L286.70,881.26 L288.20,880.75 L289.70,880.22 L291.20,879.69 L292.70,879.15 L294.20,878.59 L295.70,878.03 L297.20,877.46 L298.70,876.87 L300.20,876.27 L301.70,875.66 L303.20,875.04 L304.70,874.41 L306.20,873.77 L307.70,873.11 L309.20,872.45 L310.70,871.77 L312.20,871.08 L313.70,870.38 L315.20,869.66 L316.70,868.93 L318.20,868.19 L319.70,867.44 L321.20,866.67 L322.70,865.89 L324.20,865.10 L325.70,864.29 L327.20,863.47 L328.70,862.64 L330.20,861.79 L331.70,860.92 L333.20,860.04 L334.70,859.15 L336.20,858.24 L337.70,857.31 L339.20,856.37 L340.70,855.41 L342.20,854.43 L343.70,853.44 L345.20,852.43 L346.70,851.40 L348.20,850.36 L349.70,849.29 L351.20,848.21 L352.70,847.12 L354.20,846.00 L355.70,844.86 L357.20,843.71 L358.70,842.53 L360.20,841.34 L361.70,840.13 L363.20,838.89 L364.70,837.64 L366.20,836.37 L367.70,835.07 L369.20,833.76 L370.70,832.42 L372.20,831.06 L373.70,829.68 L375.20,828.28 L376.70,826.86 L378.20,825.41 L379.70,823.95 L381.20,822.45 L382.70,820.94 L384.20,819.40 L385.70,817.84 L387.20,816.26 L388.70,814.65 L390.20,813.01 L391.70,811.36 L393.20,809.67 L394.70,807.97 L396.20,806.23 L397.70,804.48 L399.20,802.69 L400.70,800.89 L402.20,799.05 L403.70,797.20 L405.20,795.32 L406.70,793.43 L408.20,791.51 L409.70,789.57 L411.20,787.61 L412.70,785.63 L414.20,783.64 L415.70,781.63 L417.20,779.60 L418.70,777.55 L420.20,775.49 L421.70,773.42 L423.20,771.33 L424.70,769.23 L426.20,767.12 L427.70,765.00 L429.20,762.86 L430.70,760.72 L432.20,758.56 L433.70,756.40 L435.20,754.23 L436.70,752.05 L438.20,749.87 L439.70,747.68 L441.20,745.48 L442.70,743.28 L444.20,741.08 L445.70,738.87 L447.20,736.66 L448.70,734.45 L450.20,732.24 L451.70,730.03 L453.20,727.82 L454.70,725.62 L456.20,723.42 L457.70,721.22 L459.20,719.03 L460.70,716.85 L462.20,714.68 L463.70,712.51 L465.20,710.36 L466.70,708.23 L468.20,706.11 L469.70,704.00 L471.20,701.91 L472.70,699.84 L474.20,697.79 L475.70,695.77 L477.20,693.76 L478.70,691.78 L480.20,689.83 L481.70,687.90 L483.20,686.00 L484.70,684.13 L486.20,682.29 L487.70,680.48 L489.20,678.70 L490.70,676.96 L492.20,675.26 L493.70,673.59 L495.20,671.97 L496.70,670.38 L498.20,668.83 L499.70,667.33 L501.20,665.87 L502.70,664.46 L504.20,663.09 L505.70,661.78 L507.20,660.51 L508.70,659.29 L510.20,658.12 L511.70,657.01 L513.20,655.96 L514.70,654.96 L516.20,654.01 L517.70,653.13 L519.20,652.30 L520.70,651.54 L522.20,650.83 L523.70,650.19 L525.20,649.60 L526.70,649.07 L528.20,648.60 L529.70,648.20 L531.20,647.84 L532.70,647.55 L534.20,647.32 L535.70,647.14 L537.20,647.02 L538.70,646.96 L540.20,646.96 L541.70,647.02 L543.20,647.13 L544.70,647.30 L546.20,647.53 L547.70,647.81 L549.20,648.15 L550.70,648.55 L552.20,649.00 L553.70,649.51 L555.20,650.07 L556.70,650.70 L558.20,651.37 L559.70,652.11 L561.20,652.89 L562.70,653.74 L564.20,654.64 L565.70,655.59 L567.20,656.60 L568.70,657.66 L570.20,658.78 L571.70,659.95 L573.20,661.18 L574.70,662.46 L576.20,663.79 L577.70,665.18 L579.20,666.62 L580.70,668.12 L582.20,669.67 L583.70,671.27 L585.20,672.92 L586.70,674.63 L588.20,676.39 L589.70,678.20 L591.20,680.06 L592.70,681.98 L594.20,683.95 L595.70,685.96 L597.20,688.03 L598.70,690.14 L600.20,692.30 L601.70,694.51 L603.20,696.76 L604.70,699.05 L606.20,701.39 L607.70,703.77 L609.20,706.18 L610.70,708.64 L612.20,711.13 L613.70,713.66 L615.20,716.23 L616.70,718.82 L618.20,721.46 L619.70,724.12 L621.20,726.82 L622.70,729.54 L624.20,732.30 L625.70,735.08 L627.20,737.89 L628.70,740.72 L630.20,743.58 L631.70,746.46 L633.20,749.36 L634.70,752.28 L636.20,755.23 L637.70,758.19 L639.20,761.17 L640.70,764.17 L642.20,767.18 L643.70,770.20 L645.20,773.24 L646.70,776.29 L648.20,779.35 L649.70,782.42 L651.20,785.50 L652.70,788.59 L654.20,791.68 L655.70,794.78 L657.20,797.88 L658.70,800.99 L660.20,804.09 L661.70,807.20 L663.20,810.31 L664.70,813.41 L666.20,816.52 L667.70,819.62 L669.20,822.71 L670.00,824.36" fill="none" stroke="#d81ed8" stroke-width="4.1" stroke-linecap="round" stroke-linejoin="round" stroke-dasharray="0.01 9.6" clip-path="url(#cc)"/>
<text transform="translate(173.27,583.20) scale(1.05,1)" style="font-family:'Liberation Serif', serif;font-weight:normal;font-size:24.5px" fill="#000">Δ</text>
<text transform="translate(187.43,583.20) scale(1.035,1)" style="font-family:'Liberation Sans', sans-serif;font-weight:normal;font-size:25.8px" fill="#000">c</text>
<line x1="209.45" y1="575.00" x2="267.65" y2="575.00" stroke="#000000" stroke-width="4.1" stroke-linecap="round"/>
<text transform="translate(275.27,583.20) scale(1.035,1)" style="font-family:'Liberation Sans', sans-serif;font-weight:normal;font-size:25.8px" fill="#000">40 nm</text>
<line x1="357.50" y1="575.10" x2="375.00" y2="575.10" stroke="#f00000" stroke-width="4.0" stroke-linecap="round"/>
<line x1="399.80" y1="575.10" x2="415.50" y2="575.10" stroke="#f00000" stroke-width="4.0" stroke-linecap="round"/>
<circle cx="386.2" cy="575.1" r="1.8" fill="#f00000"/>
<text transform="translate(430.33,583.20) scale(1.035,1)" style="font-family:'Liberation Sans', sans-serif;font-weight:normal;font-size:25.8px" fill="#000">50 nm</text>
<line x1="512.70" y1="575.00" x2="515.00" y2="575.00" stroke="#0000d8" stroke-width="4.0" stroke-linecap="round"/>
<line x1="538.60" y1="575.00" x2="541.50" y2="575.00" stroke="#0000d8" stroke-width="4.0" stroke-linecap="round"/>
<line x1="564.00" y1="575.00" x2="567.00" y2="575.00" stroke="#0000d8" stroke-width="4.0" stroke-linecap="round"/>
<text transform="translate(576.86,583.20) scale(1.035,1)" style="font-family:'Liberation Sans', sans-serif;font-weight:normal;font-size:25.8px" fill="#000">60 nm</text>
<line x1="174.35" y1="606.40" x2="180.55" y2="606.40" stroke="#128282" stroke-width="4.1" stroke-linecap="round"/>
<line x1="193.85" y1="606.40" x2="200.45" y2="606.40" stroke="#128282" stroke-width="4.1" stroke-linecap="round"/>
<line x1="213.35" y1="606.40" x2="220.25" y2="606.40" stroke="#128282" stroke-width="4.1" stroke-linecap="round"/>
<text transform="translate(240.86,614.20) scale(1.035,1)" style="font-family:'Liberation Sans', sans-serif;font-weight:normal;font-size:25.8px" fill="#000">70 nm</text>
<circle cx="323.00" cy="606.30" r="2.00" fill="#d81ed8"/>
<circle cx="331.04" cy="606.30" r="2.00" fill="#d81ed8"/>
<circle cx="339.09" cy="606.30" r="2.00" fill="#d81ed8"/>
<circle cx="347.13" cy="606.30" r="2.00" fill="#d81ed8"/>
<circle cx="355.17" cy="606.30" r="2.00" fill="#d81ed8"/>
<circle cx="363.21" cy="606.30" r="2.00" fill="#d81ed8"/>
<circle cx="371.26" cy="606.30" r="2.00" fill="#d81ed8"/>
<circle cx="379.30" cy="606.30" r="2.00" fill="#d81ed8"/>
<text transform="translate(387.80,614.20) scale(1.035,1)" style="font-family:'Liberation Sans', sans-serif;font-weight:normal;font-size:25.8px" fill="#000">80 nm</text>
<path d="M201.6,604.6 L205.4,604.6 L203.5,608.2 Z" fill="#1010e0"/>
<path d="M539.2,576.6 L542.8,576.6 L541.0,573.2 Z" fill="#40c040"/>
<circle cx="351.0" cy="606.3" r="1.9" fill="#30d0e0"/>
<clipPath id="cd"><rect x="926.3" y="546.3" width="515.9000000000001" height="370.9000000000001"/></clipPath>
<rect x="926.30" y="546.30" width="515.90" height="370.90" fill="none" stroke="#000" stroke-width="1.4"/>
<line x1="926.30" y1="917.20" x2="926.30" y2="924.70" stroke="#000" stroke-width="1.3" />
<line x1="1055.28" y1="917.20" x2="1055.28" y2="924.70" stroke="#000" stroke-width="1.3" />
<line x1="1184.25" y1="917.20" x2="1184.25" y2="924.70" stroke="#000" stroke-width="1.3" />
<line x1="1313.22" y1="917.20" x2="1313.22" y2="924.70" stroke="#000" stroke-width="1.3" />
<line x1="1442.20" y1="917.20" x2="1442.20" y2="924.70" stroke="#000" stroke-width="1.3" />
<line x1="990.79" y1="917.20" x2="990.79" y2="921.20" stroke="#000" stroke-width="1.3" />
<line x1="1119.76" y1="917.20" x2="1119.76" y2="921.20" stroke="#000" stroke-width="1.3" />
<line x1="1248.74" y1="917.20" x2="1248.74" y2="921.20" stroke="#000" stroke-width="1.3" />
<line x1="1377.71" y1="917.20" x2="1377.71" y2="921.20" stroke="#000" stroke-width="1.3" />
<line x1="926.30" y1="917.20" x2="918.30" y2="917.20" stroke="#000" stroke-width="1.3" />
<line x1="926.30" y1="809.10" x2="918.30" y2="809.10" stroke="#000" stroke-width="1.3" />
<line x1="926.30" y1="701.00" x2="918.30" y2="701.00" stroke="#000" stroke-width="1.3" />
<line x1="926.30" y1="592.90" x2="918.30" y2="592.90" stroke="#000" stroke-width="1.3" />
<line x1="926.30" y1="863.15" x2="921.80" y2="863.15" stroke="#000" stroke-width="1.3" />
<line x1="926.30" y1="755.05" x2="921.80" y2="755.05" stroke="#000" stroke-width="1.3" />
<line x1="926.30" y1="646.95" x2="921.80" y2="646.95" stroke="#000" stroke-width="1.3" />
<line x1="977.89" y1="546.30" x2="977.89" y2="550.50" stroke="#000" stroke-width="1.3" />
<line x1="1442.20" y1="583.39" x2="1438.00" y2="583.39" stroke="#000" stroke-width="1.3" />
<line x1="1029.48" y1="546.30" x2="1029.48" y2="553.30" stroke="#000" stroke-width="1.3" />
<line x1="1442.20" y1="620.48" x2="1435.20" y2="620.48" stroke="#000" stroke-width="1.3" />
<line x1="1081.07" y1="546.30" x2="1081.07" y2="550.50" stroke="#000" stroke-width="1.3" />
<line x1="1442.20" y1="657.57" x2="1438.00" y2="657.57" stroke="#000" stroke-width="1.3" />
<line x1="1132.66" y1="546.30" x2="1132.66" y2="553.30" stroke="#000" stroke-width="1.3" />
<line x1="1442.20" y1="694.66" x2="1435.20" y2="694.66" stroke="#000" stroke-width="1.3" />
<line x1="1184.25" y1="546.30" x2="1184.25" y2="550.50" stroke="#000" stroke-width="1.3" />
<line x1="1442.20" y1="731.75" x2="1438.00" y2="731.75" stroke="#000" stroke-width="1.3" />
<line x1="1235.84" y1="546.30" x2="1235.84" y2="553.30" stroke="#000" stroke-width="1.3" />
<line x1="1442.20" y1="768.84" x2="1435.20" y2="768.84" stroke="#000" stroke-width="1.3" />
<line x1="1287.43" y1="546.30" x2="1287.43" y2="550.50" stroke="#000" stroke-width="1.3" />
<line x1="1442.20" y1="805.93" x2="1438.00" y2="805.93" stroke="#000" stroke-width="1.3" />
<line x1="1339.02" y1="546.30" x2="1339.02" y2="553.30" stroke="#000" stroke-width="1.3" />
<line x1="1442.20" y1="843.02" x2="1435.20" y2="843.02" stroke="#000" stroke-width="1.3" />
<line x1="1390.61" y1="546.30" x2="1390.61" y2="550.50" stroke="#000" stroke-width="1.3" />
<line x1="1442.20" y1="880.11" x2="1438.00" y2="880.11" stroke="#000" stroke-width="1.3" />
<text transform="translate(813.70,603.80) scale(1.0,1)" style="font-family:'Liberation Sans', sans-serif;font-weight:bold;font-size:27.5px;letter-spacing:1.05px" fill="#000">1.2x10</text>
<text transform="translate(903.92,587.80) scale(1.0,1)" style="font-family:'Liberation Sans', sans-serif;font-weight:bold;font-size:16.3px" fill="#000">6</text>
<text transform="translate(813.70,711.90) scale(1.0,1)" style="font-family:'Liberation Sans', sans-serif;font-weight:bold;font-size:27.5px;letter-spacing:1.05px" fill="#000">8.0x10</text>
<text transform="translate(903.76,695.90) scale(1.0,1)" style="font-family:'Liberation Sans', sans-serif;font-weight:bold;font-size:16.3px" fill="#000">5</text>
<text transform="translate(813.70,820.00) scale(1.0,1)" style="font-family:'Liberation Sans', sans-serif;font-weight:bold;font-size:27.5px;letter-spacing:1.05px" fill="#000">4.0x10</text>
<text transform="translate(903.76,804.00) scale(1.0,1)" style="font-family:'Liberation Sans', sans-serif;font-weight:bold;font-size:16.3px" fill="#000">5</text>
<text transform="translate(872.67,922.40) scale(1.0,1)" style="font-family:'Liberation Sans', sans-serif;font-weight:bold;font-size:27.5px;letter-spacing:0.8px" fill="#000">0.0</text>
<text transform="translate(909.74,951.60) scale(1.0,1)" style="font-family:'Liberation Sans', sans-serif;font-weight:bold;font-size:27.5px;letter-spacing:0.8px" fill="#000">70</text>
<text transform="translate(1038.85,951.60) scale(1.0,1)" style="font-family:'Liberation Sans', sans-serif;font-weight:bold;font-size:27.5px;letter-spacing:0.8px" fill="#000">80</text>
<text transform="translate(1167.76,951.60) scale(1.0,1)" style="font-family:'Liberation Sans', sans-serif;font-weight:bold;font-size:27.5px;letter-spacing:0.8px" fill="#000">90</text>
<text transform="translate(1288.36,951.60) scale(1.0,1)" style="font-family:'Liberation Sans', sans-serif;font-weight:bold;font-size:27.5px;letter-spacing:0.8px" fill="#000">100</text>
<text transform="translate(1418.09,951.60) scale(1.0,1)" style="font-family:'Liberation Sans', sans-serif;font-weight:bold;font-size:27.5px;letter-spacing:0.8px" fill="#000">110</text>
<text transform="translate(1091.10,985.60) scale(1.07,1)" style="font-family:'Liberation Serif', serif;font-weight:normal;font-size:32.8px" fill="#000">Δ</text>
<text transform="translate(1111.65,985.40) scale(1.155,1)" style="font-family:'Liberation Sans', sans-serif;font-weight:bold;font-size:32.6px" fill="#000">b (nm)</text>
<text transform="translate(760.72,1011.20) scale(1.04,1)" style="font-family:'Liberation Sans', sans-serif;font-weight:bold;font-size:42px" fill="#000">(d)</text>
<clipPath id="qc3"><rect x="700.60" y="600.30" width="80.30" height="260"/></clipPath>
<g clip-path="url(#qc3)"><text transform="translate(780.60,821.94) scale(1.0,1) rotate(-90)" style="font-family:'Liberation Sans', sans-serif;font-weight:normal;font-size:36.4px">Q-factor</text></g>
<line x1="774.59" y1="807.38" x2="780.96" y2="797.37" stroke="#000" stroke-width="2.69" stroke-linecap="butt"/>
<path d="M926.60,586.46 L928.10,590.19 L929.60,593.92 L931.10,597.65 L932.60,601.38 L934.10,605.10 L935.60,608.82 L937.10,612.54 L938.60,616.25 L940.10,619.96 L941.60,623.66 L943.10,627.36 L944.60,631.05 L946.10,634.73 L947.60,638.41 L949.10,642.07 L950.60,645.73 L952.10,649.38 L953.60,653.01 L955.10,656.64 L956.60,660.25 L958.10,663.86 L959.60,667.44 L961.10,671.02 L962.60,674.58 L964.10,678.13 L965.60,681.66 L967.10,685.18 L968.60,688.68 L970.10,692.16 L971.60,695.63 L973.10,699.07 L974.60,702.50 L976.10,705.91 L977.60,709.30 L979.10,712.67 L980.60,716.01 L982.10,719.34 L983.60,722.64 L985.10,725.92 L986.60,729.18 L988.10,732.41 L989.60,735.61 L991.10,738.80 L992.60,741.95 L994.10,745.08 L995.60,748.18 L997.10,751.25 L998.60,754.30 L1000.10,757.31 L1001.60,760.30 L1003.10,763.26 L1004.60,766.18 L1006.10,769.07 L1007.60,771.93 L1009.10,774.76 L1010.60,777.56 L1012.10,780.32 L1013.60,783.04 L1015.10,785.74 L1016.60,788.40 L1018.10,791.03 L1019.60,793.63 L1021.10,796.20 L1022.60,798.74 L1024.10,801.25 L1025.60,803.73 L1027.10,806.18 L1028.60,808.61 L1030.10,811.00 L1031.60,813.38 L1033.10,815.72 L1034.60,818.05 L1036.10,820.34 L1037.60,822.62 L1039.10,824.87 L1040.60,827.10 L1042.10,829.30 L1043.60,831.48 L1045.10,833.63 L1046.60,835.76 L1048.10,837.85 L1049.60,839.92 L1051.10,841.95 L1052.60,843.95 L1054.10,845.92 L1055.60,847.85 L1057.10,849.74 L1058.60,851.59 L1060.10,853.41 L1061.60,855.18 L1063.10,856.92 L1064.60,858.60 L1066.10,860.25 L1067.60,861.85 L1069.10,863.40 L1070.60,864.91 L1072.10,866.37 L1073.60,867.79 L1075.10,869.17 L1076.60,870.50 L1078.10,871.80 L1079.60,873.05 L1081.10,874.26 L1082.60,875.44 L1084.10,876.58 L1085.60,877.68 L1087.10,878.74 L1088.60,879.77 L1090.10,880.76 L1091.60,881.72 L1093.10,882.64 L1094.60,883.53 L1096.10,884.39 L1097.60,885.21 L1099.10,886.01 L1100.60,886.77 L1102.10,887.51 L1103.60,888.22 L1105.10,888.90 L1106.60,889.55 L1108.10,890.18 L1109.60,890.78 L1111.10,891.35 L1112.60,891.90 L1114.10,892.43 L1115.60,892.93 L1117.10,893.41 L1118.60,893.87 L1120.10,894.31 L1121.60,894.72 L1123.10,895.12 L1124.60,895.49 L1126.10,895.85 L1127.60,896.19 L1129.10,896.51 L1130.60,896.81 L1132.10,897.09 L1133.60,897.36 L1135.10,897.61 L1136.60,897.85 L1138.10,898.07 L1139.60,898.27 L1141.10,898.47 L1142.60,898.64 L1144.10,898.81 L1145.60,898.97 L1147.10,899.11 L1148.60,899.24 L1150.10,899.36 L1151.60,899.47 L1153.10,899.57 L1154.60,899.67 L1156.10,899.75 L1157.60,899.83 L1159.10,899.90 L1160.60,899.96 L1162.10,900.02 L1163.60,900.07 L1165.10,900.12 L1166.60,900.16 L1168.10,900.20 L1169.60,900.24 L1171.10,900.27 L1172.60,900.30 L1174.10,900.33 L1175.60,900.36 L1177.10,900.39 L1178.60,900.42 L1180.10,900.45 L1181.60,900.48 L1183.10,900.51 L1184.60,900.53 L1186.10,900.56 L1187.60,900.59 L1189.10,900.62 L1190.60,900.65 L1192.10,900.67 L1193.60,900.69 L1195.10,900.71 L1196.60,900.73 L1198.10,900.75 L1199.60,900.76 L1201.10,900.77 L1202.60,900.78 L1204.10,900.78 L1205.60,900.78 L1207.10,900.78 L1208.60,900.77 L1210.10,900.75 L1211.60,900.74 L1213.10,900.71 L1214.60,900.68 L1216.10,900.65 L1217.60,900.61 L1219.10,900.56 L1220.60,900.50 L1222.10,900.44 L1223.60,900.37 L1225.10,900.30 L1226.60,900.22 L1228.10,900.12 L1229.60,900.02 L1231.10,899.92 L1232.60,899.80 L1234.10,899.67 L1235.60,899.54 L1237.10,899.40 L1238.60,899.24 L1240.10,899.08 L1241.60,898.90 L1243.10,898.72 L1244.60,898.52 L1246.10,898.31 L1247.60,898.09 L1249.10,897.86 L1250.60,897.62 L1252.10,897.37 L1253.60,897.10 L1255.10,896.82 L1256.60,896.53 L1258.10,896.22 L1259.60,895.90 L1261.10,895.56 L1262.60,895.22 L1264.10,894.85 L1265.60,894.48 L1267.10,894.08 L1268.60,893.68 L1270.10,893.25 L1271.60,892.82 L1273.10,892.36 L1274.60,891.89 L1276.10,891.40 L1277.60,890.90 L1279.10,890.38 L1280.60,889.84 L1282.10,889.28 L1283.60,888.71 L1285.10,888.12 L1286.60,887.51 L1288.10,886.88 L1289.60,886.23 L1291.10,885.56 L1292.60,884.88 L1294.10,884.18 L1295.60,883.46 L1297.10,882.72 L1298.60,881.97 L1300.10,881.20 L1301.60,880.41 L1303.10,879.60 L1304.60,878.78 L1306.10,877.94 L1307.60,877.08 L1309.10,876.20 L1310.60,875.31 L1312.10,874.40 L1313.60,873.48 L1315.10,872.54 L1316.60,871.58 L1318.10,870.60 L1319.60,869.61 L1321.10,868.61 L1322.60,867.58 L1324.10,866.54 L1325.60,865.49 L1327.10,864.42 L1328.60,863.33 L1330.10,862.23 L1331.60,861.11 L1333.10,859.98 L1334.60,858.83 L1336.10,857.67 L1337.60,856.49 L1339.10,855.30 L1340.60,854.09 L1342.10,852.87 L1343.60,851.64 L1345.10,850.38 L1346.60,849.12 L1348.10,847.84 L1349.60,846.55 L1351.10,845.24 L1352.60,843.91 L1354.10,842.58 L1355.60,841.23 L1357.10,839.86 L1358.60,838.49 L1360.10,837.10 L1361.60,835.69 L1363.10,834.27 L1364.60,832.84 L1366.10,831.40 L1367.60,829.94 L1369.10,828.47 L1370.60,826.99 L1372.10,825.49 L1373.60,823.98 L1375.10,822.46 L1376.60,820.93 L1378.10,819.38 L1379.60,817.83 L1381.10,816.26 L1382.60,814.67 L1384.10,813.08 L1385.60,811.47 L1387.10,809.86 L1388.60,808.23 L1390.10,806.59 L1391.60,804.93 L1393.10,803.27 L1394.60,801.60 L1396.10,799.91 L1397.60,798.21 L1399.10,796.51 L1400.60,794.79 L1402.10,793.06 L1403.60,791.32 L1405.10,789.57 L1406.60,787.81 L1408.10,786.03 L1409.60,784.25 L1411.10,782.46 L1412.60,780.66 L1414.10,778.85 L1415.60,777.03 L1417.10,775.20 L1418.60,773.35 L1420.10,771.50 L1421.60,769.64 L1423.10,767.77 L1424.60,765.90 L1426.10,764.01 L1427.60,762.11 L1429.10,760.21 L1430.60,758.29 L1432.10,756.37 L1433.60,754.44 L1435.10,752.50 L1436.60,750.55 L1438.10,748.59 L1439.60,746.62 L1441.10,744.65 L1442.00,743.46" fill="none" stroke="#000000" stroke-width="3.4" stroke-linecap="round" stroke-linejoin="round" clip-path="url(#cd)"/>
<path d="M927.07,605.63 L927.20,605.94 L927.60,606.88 L928.00,607.82 L928.40,608.76 L928.80,609.69 L929.20,610.63 L929.60,611.57 L930.00,612.51 L930.40,613.45 L930.80,614.39 L931.20,615.32 L931.60,616.26 L932.00,617.20 L932.33,617.98 M941.47,639.32 L941.60,639.62 L942.00,640.55 L942.40,641.48 L942.80,642.41 L943.20,643.33 L943.60,644.26 L944.00,645.19 L944.40,646.11 L944.80,647.04 L945.20,647.96 L945.60,648.89 L946.00,649.81 L946.40,650.73 L946.80,651.65 L947.20,652.57 L947.60,653.49 L947.62,653.54 M956.59,673.94 L956.80,674.40 L957.20,675.30 L957.60,676.20 L958.00,677.09 L958.40,677.98 L958.80,678.88 L959.20,679.77 L959.60,680.66 L960.00,681.55 L960.40,682.43 L960.80,683.32 L961.20,684.20 L961.60,685.09 L962.00,685.97 L962.40,686.85 L962.80,687.73 L962.99,688.15 M971.83,707.18 L972.00,707.55 L972.40,708.39 L972.80,709.24 L973.20,710.08 L973.60,710.92 L974.00,711.76 L974.40,712.60 L974.80,713.44 L975.20,714.27 L975.60,715.10 L976.00,715.94 L976.40,716.77 L976.80,717.60 L977.20,718.43 L977.60,719.25 L978.00,720.08 L978.40,720.90 L978.56,721.22 M989.07,742.39 L989.20,742.65 L989.60,743.43 L990.00,744.22 L990.40,745.00 L990.80,745.79 L991.20,746.57 L991.60,747.35 L992.00,748.13 L992.40,748.90 L992.80,749.68 L993.20,750.46 L993.60,751.23 L994.00,752.00 L994.40,752.77 L994.80,753.54 L995.20,754.31 L995.60,755.08 L996.00,755.84 L996.11,756.06 M1007.12,776.60 L1007.20,776.75 L1007.60,777.48 L1008.00,778.21 L1008.40,778.93 L1008.80,779.65 L1009.20,780.37 L1009.60,781.09 L1010.00,781.81 L1010.40,782.53 L1010.80,783.25 L1011.20,783.96 L1011.60,784.67 L1012.00,785.38 L1012.40,786.09 L1012.80,786.80 L1013.20,787.51 L1013.60,788.22 L1014.00,788.92 L1014.40,789.62 L1014.76,790.25 M1026.49,810.08 L1026.80,810.58 L1027.20,811.22 L1027.60,811.86 L1028.00,812.50 L1028.40,813.14 L1028.80,813.78 L1029.20,814.41 L1029.60,815.04 L1030.00,815.67 L1030.40,816.29 L1030.80,816.92 L1031.20,817.54 L1031.60,818.16 L1032.00,818.77 L1032.40,819.39 L1032.80,820.00 L1033.20,820.61 L1033.60,821.21 L1034.00,821.81 L1034.40,822.41 L1034.80,823.01 L1035.20,823.61 L1035.60,824.20 L1036.00,824.79 L1036.34,825.28 M1050.88,844.69 L1051.20,845.07 L1051.60,845.55 L1052.00,846.03 L1052.40,846.51 L1052.80,846.98 L1053.20,847.45 L1053.60,847.91 L1054.00,848.38 L1054.40,848.84 L1054.80,849.30 L1055.20,849.76 L1055.60,850.21 L1056.00,850.66 L1056.40,851.11 L1056.80,851.55 L1057.20,852.00 L1057.60,852.44 L1058.00,852.88 L1058.40,853.31 L1058.80,853.75 L1059.20,854.18 L1059.60,854.60 L1060.00,855.03 L1060.40,855.45 L1060.80,855.87 L1061.20,856.29 L1061.60,856.71 L1062.00,857.12 L1062.40,857.53 L1062.80,857.94 L1063.20,858.34 L1063.50,858.64 M1084.28,876.39 L1084.40,876.47 L1084.80,876.75 L1085.20,877.03 L1085.60,877.31 L1086.00,877.58 L1086.40,877.86 L1086.80,878.13 L1087.20,878.40 L1087.60,878.67 L1088.00,878.93 L1088.40,879.19 L1088.80,879.46 L1089.20,879.71 L1089.60,879.97 L1090.00,880.23 L1090.40,880.48 L1090.80,880.73 L1091.20,880.98 L1091.60,881.23 L1092.00,881.47 L1092.40,881.71 L1092.80,881.96 L1093.20,882.19 L1093.60,882.43 L1094.00,882.67 L1094.40,882.90 L1094.80,883.13 L1095.20,883.36 L1095.60,883.59 L1096.00,883.81 L1096.40,884.04 L1096.80,884.26 L1097.20,884.48 L1097.60,884.70 L1098.00,884.91 L1098.40,885.13 L1098.80,885.34 L1098.99,885.44 M1117.91,893.44 L1118.00,893.47 L1118.40,893.60 L1118.80,893.73 L1119.20,893.85 L1119.60,893.98 L1120.00,894.10 L1120.40,894.23 L1120.80,894.35 L1121.20,894.47 L1121.60,894.58 L1122.00,894.70 L1122.40,894.82 L1122.80,894.93 L1123.20,895.04 L1123.60,895.15 L1124.00,895.26 L1124.40,895.37 L1124.80,895.48 L1125.20,895.58 L1125.60,895.69 L1126.00,895.79 L1126.40,895.89 L1126.80,895.99 L1127.20,896.09 L1127.60,896.19 L1128.00,896.28 L1128.40,896.38 L1128.80,896.47 L1129.20,896.56 L1129.60,896.65 L1130.00,896.74 L1130.40,896.83 L1130.80,896.92 L1131.20,897.01 L1131.60,897.09 L1132.00,897.17 L1132.40,897.26 L1132.80,897.34 L1133.20,897.42 L1133.60,897.50 L1133.93,897.56 M1155.50,900.19 L1155.60,900.19 L1156.00,900.22 L1156.40,900.24 L1156.80,900.26 L1157.20,900.28 L1157.60,900.31 L1158.00,900.33 L1158.40,900.34 L1158.80,900.36 L1159.20,900.38 L1159.60,900.40 L1160.00,900.41 L1160.40,900.43 L1160.80,900.45 L1161.20,900.46 L1161.60,900.47 L1162.00,900.49 L1162.40,900.50 L1162.80,900.51 L1163.20,900.52 L1163.60,900.53 L1164.00,900.54 L1164.40,900.55 L1164.80,900.56 L1165.20,900.57 L1165.60,900.58 L1166.00,900.58 L1166.40,900.59 L1166.80,900.60 L1167.20,900.60 L1167.60,900.61 L1168.00,900.61 L1168.40,900.62 L1168.80,900.62 L1168.80,900.62 M1190.70,900.24 L1190.80,900.23 L1191.20,900.22 L1191.60,900.21 L1192.00,900.19 L1192.40,900.18 L1192.80,900.17 L1193.20,900.15 L1193.60,900.14 L1194.00,900.13 L1194.40,900.11 L1194.80,900.10 L1195.20,900.09 L1195.60,900.07 L1196.00,900.06 L1196.40,900.04 L1196.80,900.03 L1197.20,900.02 L1197.60,900.00 L1198.00,899.99 L1198.40,899.98 L1198.80,899.96 L1199.20,899.95 L1199.60,899.94 L1200.00,899.92 L1200.40,899.91 L1200.80,899.90 L1201.20,899.89 L1201.60,899.87 L1202.00,899.86 L1202.40,899.85 L1202.80,899.83 L1203.20,899.82 L1203.60,899.81 L1204.00,899.79 L1204.40,899.78 L1204.80,899.77 L1205.00,899.76 M1226.90,898.86 L1227.20,898.84 L1227.60,898.82 L1228.00,898.80 L1228.40,898.77 L1228.80,898.75 L1229.20,898.73 L1229.60,898.70 L1230.00,898.68 L1230.40,898.65 L1230.80,898.63 L1231.20,898.60 L1231.60,898.57 L1232.00,898.55 L1232.40,898.52 L1232.80,898.49 L1233.20,898.47 L1233.60,898.44 L1234.00,898.41 L1234.40,898.38 L1234.80,898.35 L1235.20,898.32 L1235.60,898.29 L1236.00,898.26 L1236.40,898.23 L1236.80,898.20 L1237.20,898.17 L1237.60,898.13 L1238.00,898.10 L1238.40,898.07 L1238.80,898.03 L1239.20,898.00 L1239.60,897.97 L1240.00,897.93 L1240.21,897.91 M1262.18,895.10 L1262.40,895.06 L1262.80,894.99 L1263.20,894.91 L1263.60,894.84 L1264.00,894.77 L1264.40,894.70 L1264.80,894.62 L1265.20,894.55 L1265.60,894.47 L1266.00,894.39 L1266.40,894.32 L1266.80,894.24 L1267.20,894.16 L1267.60,894.08 L1268.00,894.00 L1268.40,893.92 L1268.80,893.83 L1269.20,893.75 L1269.60,893.67 L1270.00,893.58 L1270.40,893.50 L1270.80,893.41 L1271.20,893.32 L1271.60,893.23 L1272.00,893.14 L1272.40,893.05 L1272.80,892.96 L1273.20,892.87 L1273.60,892.78 L1274.00,892.68 L1274.40,892.59 L1274.80,892.49 L1275.20,892.40 L1275.45,892.34 M1297.39,885.44 L1297.60,885.36 L1298.00,885.20 L1298.40,885.04 L1298.80,884.88 L1299.20,884.72 L1299.60,884.56 L1300.00,884.39 L1300.40,884.23 L1300.80,884.06 L1301.20,883.89 L1301.60,883.72 L1302.00,883.55 L1302.40,883.38 L1302.80,883.21 L1303.20,883.04 L1303.60,882.86 L1304.00,882.69 L1304.40,882.51 L1304.80,882.33 L1305.20,882.15 L1305.60,881.97 L1306.00,881.78 L1306.40,881.60 L1306.80,881.41 L1307.20,881.23 L1307.60,881.04 L1308.00,880.85 L1308.40,880.66 L1308.80,880.47 L1309.20,880.28 L1309.60,880.08 L1310.00,879.89 L1310.08,879.85 M1332.94,866.95 L1333.20,866.78 L1333.60,866.53 L1334.00,866.28 L1334.40,866.02 L1334.80,865.77 L1335.20,865.51 L1335.60,865.25 L1336.00,865.00 L1336.40,864.74 L1336.80,864.48 L1337.20,864.22 L1337.60,863.96 L1338.00,863.70 L1338.40,863.44 L1338.80,863.18 L1339.20,862.91 L1339.60,862.65 L1340.00,862.39 L1340.40,862.12 L1340.80,861.85 L1341.20,861.59 L1341.60,861.32 L1342.00,861.05 L1342.40,860.79 L1342.80,860.52 L1343.20,860.25 L1343.60,859.98 L1344.00,859.70 L1344.40,859.43 L1344.80,859.16 L1345.20,858.89 L1345.60,858.61 L1345.80,858.48 M1367.63,842.36 L1368.00,842.07 L1368.40,841.75 L1368.80,841.43 L1369.20,841.11 L1369.60,840.79 L1370.00,840.47 L1370.40,840.14 L1370.80,839.82 L1371.20,839.50 L1371.60,839.17 L1372.00,838.84 L1372.40,838.52 L1372.80,838.19 L1373.20,837.86 L1373.60,837.53 L1374.00,837.20 L1374.40,836.87 L1374.80,836.54 L1375.20,836.20 L1375.60,835.87 L1376.00,835.53 L1376.40,835.20 L1376.80,834.86 L1377.20,834.52 L1377.60,834.19 L1378.00,833.85 L1378.40,833.51 L1378.80,833.17 L1379.20,832.82 L1379.60,832.48 L1380.00,832.14 L1380.40,831.79 L1380.80,831.45 L1381.20,831.10 L1381.60,830.76 L1381.62,830.74 M1403.23,811.01 L1403.60,810.67 L1404.00,810.28 L1404.40,809.90 L1404.80,809.52 L1405.20,809.14 L1405.60,808.76 L1406.00,808.37 L1406.40,807.99 L1406.80,807.61 L1407.20,807.22 L1407.60,806.84 L1408.00,806.46 L1408.40,806.07 L1408.80,805.68 L1409.20,805.30 L1409.60,804.91 L1410.00,804.53 L1410.40,804.14 L1410.80,803.75 L1411.20,803.37 L1411.60,802.98 L1412.00,802.59 L1412.40,802.20 L1412.80,801.81 L1413.20,801.42 L1413.60,801.03 L1414.00,800.64 L1414.40,800.25 L1414.80,799.86 L1415.20,799.47 L1415.60,799.08 L1416.00,798.69 L1416.40,798.30 L1416.59,798.12 M1437.21,777.78 L1437.60,777.40 L1438.00,777.00 L1438.40,776.61 L1438.80,776.21 L1439.20,775.82 L1439.60,775.42 L1440.00,775.03 L1440.40,774.64 L1440.79,774.25" fill="none" stroke="#f00000" stroke-width="3.4" stroke-linecap="round" stroke-linejoin="round" clip-path="url(#cd)"/>
<path d="M927.85,898.58 L927.85,898.58 M946.50,898.90 L946.90,898.90 L947.30,898.91 L947.70,898.91 L948.10,898.91 L948.50,898.92 L948.90,898.92 L949.10,898.93 M967.80,899.06 L968.10,899.06 L968.50,899.06 L968.90,899.07 L969.30,899.07 L969.70,899.07 L970.10,899.07 L970.40,899.07 M989.10,899.06 L989.30,899.06 L989.70,899.06 L990.10,899.06 L990.50,899.06 L990.90,899.06 L991.30,899.06 L991.70,899.06 M1010.40,898.95 L1010.50,898.95 L1010.90,898.95 L1011.30,898.94 L1011.70,898.94 L1012.10,898.94 L1012.50,898.93 L1012.90,898.93 L1013.00,898.93 M1031.70,898.76 L1032.10,898.76 L1032.50,898.75 L1032.90,898.75 L1033.30,898.75 L1033.70,898.74 L1034.10,898.74 L1034.30,898.74 M1053.00,898.55 L1053.30,898.54 L1053.70,898.54 L1054.10,898.54 L1054.50,898.53 L1054.90,898.53 L1055.30,898.52 L1055.60,898.52 M1074.30,898.35 L1074.50,898.35 L1074.90,898.35 L1075.30,898.34 L1075.70,898.34 L1076.10,898.34 L1076.50,898.33 L1076.90,898.33 M1095.80,898.22 L1096.10,898.22 L1096.50,898.21 L1096.90,898.21 L1097.30,898.21 L1097.70,898.21 L1098.10,898.21 L1098.40,898.21 M1116.50,898.19 L1116.90,898.19 L1117.30,898.19 L1117.70,898.19 L1118.10,898.20 L1118.50,898.20 L1118.90,898.20 L1119.10,898.20 M1137.60,898.32 L1137.70,898.32 L1138.10,898.32 L1138.50,898.33 L1138.90,898.33 L1139.30,898.33 L1139.70,898.34 L1140.10,898.34 L1140.20,898.34 M1158.70,898.63 L1158.90,898.64 L1159.30,898.65 L1159.70,898.66 L1160.10,898.66 L1160.50,898.67 L1160.90,898.68 L1161.30,898.69 M1180.10,899.13 L1180.50,899.14 L1180.90,899.15 L1181.30,899.16 L1181.70,899.17 L1182.10,899.18 L1182.50,899.19 L1182.70,899.19 M1200.90,899.45 L1201.30,899.45 L1201.70,899.45 L1202.10,899.45 L1202.50,899.45 L1202.90,899.46 L1203.30,899.46 L1203.50,899.46 M1222.00,899.17 L1222.10,899.17 L1222.50,899.15 L1222.90,899.14 L1223.30,899.12 L1223.70,899.11 L1224.10,899.09 L1224.50,899.08 L1224.60,899.07 M1243.91,897.78 L1244.10,897.76 L1244.50,897.72 L1244.90,897.68 L1245.30,897.64 L1245.70,897.60 L1246.10,897.56 L1246.49,897.52 M1264.92,894.94 L1265.30,894.88 L1265.70,894.80 L1266.10,894.73 L1266.50,894.66 L1266.90,894.58 L1267.30,894.51 L1267.48,894.48 M1286.05,890.22 L1286.10,890.21 L1286.50,890.10 L1286.90,889.99 L1287.30,889.88 L1287.70,889.77 L1288.10,889.66 L1288.50,889.55 L1288.55,889.53 M1306.98,883.57 L1307.30,883.45 L1307.70,883.31 L1308.10,883.16 L1308.50,883.01 L1308.90,882.86 L1309.30,882.71 L1309.42,882.67 M1327.82,874.95 L1328.10,874.82 L1328.50,874.63 L1328.90,874.44 L1329.30,874.26 L1329.70,874.07 L1330.10,873.88 L1330.18,873.84 M1349.47,863.81 L1349.70,863.68 L1350.10,863.46 L1350.50,863.23 L1350.90,863.00 L1351.30,862.77 L1351.70,862.54 L1351.73,862.52 M1370.22,851.01 L1370.50,850.83 L1370.90,850.56 L1371.30,850.29 L1371.70,850.02 L1372.10,849.75 L1372.38,849.56 M1391.56,835.74 L1391.70,835.63 L1392.10,835.33 L1392.50,835.03 L1392.90,834.72 L1393.30,834.42 L1393.63,834.16 M1412.59,819.18 L1412.90,818.93 L1413.30,818.60 L1413.70,818.28 L1414.10,817.95 L1414.50,817.62 L1414.61,817.54 M1433.40,802.03 L1433.70,801.78 L1434.10,801.45 L1434.50,801.12 L1434.90,800.78 L1435.30,800.45 L1435.40,800.37" fill="none" stroke="#0000d8" stroke-width="3.6" stroke-linecap="round" stroke-linejoin="round" clip-path="url(#cd)"/>
<path d="M927.85,896.98 L928.10,896.97 L928.50,896.96 L928.90,896.95 L929.30,896.94 L929.70,896.93 L930.10,896.93 L930.50,896.92 L930.90,896.91 L931.30,896.90 L931.70,896.89 L931.75,896.89 M942.75,896.76 L942.90,896.76 L943.30,896.76 L943.70,896.75 L944.10,896.75 L944.50,896.75 L944.90,896.75 L945.30,896.75 L945.70,896.75 L946.10,896.74 L946.50,896.74 L946.90,896.74 L947.30,896.74 L947.70,896.74 L947.85,896.74 M958.85,896.78 L958.90,896.78 L959.30,896.79 L959.70,896.79 L960.10,896.80 L960.50,896.80 L960.90,896.80 L961.30,896.81 L961.70,896.81 L962.10,896.82 L962.50,896.82 L962.90,896.82 L963.30,896.83 L963.70,896.83 L963.95,896.84 M974.95,897.01 L975.30,897.01 L975.70,897.02 L976.10,897.03 L976.50,897.04 L976.90,897.05 L977.30,897.05 L977.70,897.06 L978.10,897.07 L978.50,897.08 L978.90,897.09 L979.30,897.09 L979.70,897.10 L980.05,897.11 M991.05,897.36 L991.30,897.37 L991.70,897.38 L992.10,897.39 L992.50,897.40 L992.90,897.41 L993.30,897.42 L993.70,897.43 L994.10,897.44 L994.50,897.45 L994.90,897.46 L995.30,897.47 L995.70,897.48 L996.10,897.49 L996.15,897.49 M1007.15,897.78 L1007.30,897.78 L1007.70,897.79 L1008.10,897.80 L1008.50,897.81 L1008.90,897.82 L1009.30,897.83 L1009.70,897.84 L1010.10,897.85 L1010.50,897.87 L1010.90,897.88 L1011.30,897.89 L1011.70,897.90 L1012.10,897.91 L1012.25,897.91 M1023.25,898.18 L1023.30,898.18 L1023.70,898.19 L1024.10,898.20 L1024.50,898.21 L1024.90,898.22 L1025.30,898.23 L1025.70,898.24 L1026.10,898.25 L1026.50,898.26 L1026.90,898.27 L1027.30,898.28 L1027.70,898.28 L1028.10,898.29 L1028.35,898.30 M1039.35,898.51 L1039.70,898.52 L1040.10,898.52 L1040.50,898.53 L1040.90,898.54 L1041.30,898.54 L1041.70,898.55 L1042.10,898.55 L1042.50,898.56 L1042.90,898.57 L1043.30,898.57 L1043.70,898.58 L1044.10,898.58 L1044.45,898.59 M1055.45,898.69 L1055.70,898.69 L1056.10,898.69 L1056.50,898.69 L1056.90,898.70 L1057.30,898.70 L1057.70,898.70 L1058.10,898.70 L1058.50,898.70 L1058.90,898.70 L1059.30,898.70 L1059.70,898.70 L1060.10,898.70 L1060.50,898.70 L1060.55,898.70 M1071.55,898.65 L1071.70,898.65 L1072.10,898.64 L1072.50,898.64 L1072.90,898.63 L1073.30,898.63 L1073.70,898.62 L1074.10,898.62 L1074.50,898.61 L1074.90,898.61 L1075.30,898.60 L1075.70,898.60 L1076.10,898.59 L1076.50,898.58 L1076.65,898.58 M1087.35,898.33 L1087.70,898.32 L1088.10,898.31 L1088.50,898.30 L1088.90,898.28 L1089.30,898.27 L1089.70,898.26 L1090.10,898.24 L1090.50,898.23 L1090.90,898.22 L1091.30,898.20 L1091.70,898.19 L1092.10,898.17 L1092.45,898.16 M1103.75,897.64 L1104.10,897.62 L1104.50,897.60 L1104.90,897.57 L1105.30,897.55 L1105.70,897.53 L1106.10,897.50 L1106.50,897.48 L1106.90,897.46 L1107.30,897.43 L1107.70,897.41 L1108.10,897.38 L1108.50,897.36 L1108.85,897.34 M1120.06,896.51 L1120.10,896.51 L1120.50,896.47 L1120.90,896.44 L1121.30,896.40 L1121.70,896.37 L1122.10,896.33 L1122.50,896.30 L1122.90,896.26 L1123.30,896.23 L1123.70,896.19 L1124.10,896.15 L1124.50,896.12 L1124.90,896.08 L1125.14,896.06 M1135.87,894.93 L1136.10,894.90 L1136.50,894.85 L1136.90,894.81 L1137.30,894.76 L1137.70,894.71 L1138.10,894.66 L1138.50,894.61 L1138.90,894.56 L1139.30,894.52 L1139.70,894.47 L1140.10,894.42 L1140.50,894.36 L1140.90,894.31 L1140.93,894.31 M1151.88,892.77 L1152.10,892.74 L1152.50,892.67 L1152.90,892.61 L1153.30,892.55 L1153.70,892.49 L1154.10,892.42 L1154.50,892.36 L1154.90,892.30 L1155.30,892.23 L1155.70,892.17 L1156.10,892.10 L1156.50,892.03 L1156.90,891.97 L1156.92,891.97 M1168.00,889.96 L1168.10,889.94 L1168.50,889.87 L1168.90,889.79 L1169.30,889.71 L1169.70,889.63 L1170.10,889.55 L1170.50,889.47 L1170.90,889.39 L1171.30,889.30 L1171.70,889.22 L1172.10,889.14 L1172.50,889.06 L1172.90,888.97 L1173.00,888.95 M1184.02,886.47 L1184.10,886.45 L1184.50,886.36 L1184.90,886.26 L1185.30,886.16 L1185.70,886.06 L1186.10,885.97 L1186.50,885.87 L1186.90,885.77 L1187.30,885.67 L1187.70,885.57 L1188.10,885.46 L1188.50,885.36 L1188.90,885.26 L1188.97,885.24 M1200.25,882.15 L1200.50,882.08 L1200.90,881.97 L1201.30,881.85 L1201.70,881.73 L1202.10,881.61 L1202.50,881.49 L1202.90,881.37 L1203.30,881.25 L1203.70,881.13 L1204.10,881.01 L1204.50,880.89 L1204.90,880.76 L1205.14,880.69 M1216.49,876.97 L1216.50,876.97 L1216.90,876.83 L1217.30,876.69 L1217.70,876.55 L1218.10,876.41 L1218.50,876.27 L1218.90,876.13 L1219.30,875.99 L1219.70,875.84 L1220.10,875.70 L1220.50,875.56 L1220.90,875.41 L1221.30,875.27 M1232.44,870.98 L1232.50,870.96 L1232.90,870.80 L1233.30,870.63 L1233.70,870.47 L1234.10,870.31 L1234.50,870.14 L1234.90,869.98 L1235.30,869.81 L1235.70,869.64 L1236.10,869.48 L1236.50,869.31 L1236.90,869.14 L1237.15,869.03 M1248.70,863.88 L1248.90,863.79 L1249.30,863.60 L1249.70,863.41 L1250.10,863.22 L1250.50,863.03 L1250.90,862.84 L1251.30,862.65 L1251.70,862.46 L1252.10,862.26 L1252.50,862.07 L1252.90,861.87 L1253.30,861.68 M1264.96,855.70 L1265.30,855.52 L1265.70,855.30 L1266.10,855.09 L1266.50,854.87 L1266.90,854.65 L1267.30,854.43 L1267.70,854.21 L1268.10,853.99 L1268.50,853.77 L1268.90,853.55 L1269.30,853.33 L1269.43,853.26 M1280.92,846.57 L1281.30,846.35 L1281.70,846.10 L1282.10,845.86 L1282.50,845.61 L1282.90,845.37 L1283.30,845.12 L1283.70,844.88 L1284.10,844.63 L1284.50,844.38 L1284.90,844.13 L1285.27,843.90 M1296.98,836.33 L1297.30,836.12 L1297.70,835.85 L1298.10,835.59 L1298.50,835.32 L1298.90,835.05 L1299.30,834.78 L1299.70,834.50 L1300.10,834.23 L1300.50,833.96 L1300.90,833.69 L1301.21,833.48 M1313.64,824.68 L1313.70,824.64 L1314.10,824.35 L1314.50,824.06 L1314.90,823.76 L1315.30,823.47 L1315.70,823.18 L1316.10,822.88 L1316.50,822.59 L1316.90,822.29 L1317.30,821.99 L1317.70,821.70 L1317.75,821.66 M1329.49,812.70 L1329.70,812.54 L1330.10,812.23 L1330.50,811.91 L1330.90,811.60 L1331.30,811.29 L1331.70,810.97 L1332.10,810.66 L1332.50,810.34 L1332.90,810.02 L1333.30,809.71 L1333.50,809.55 M1345.34,799.94 L1345.70,799.64 L1346.10,799.31 L1346.50,798.97 L1346.90,798.64 L1347.30,798.31 L1347.70,797.97 L1348.10,797.64 L1348.50,797.30 L1348.90,796.97 L1349.26,796.67 M1361.98,785.76 L1362.10,785.66 L1362.50,785.31 L1362.90,784.96 L1363.30,784.61 L1363.70,784.26 L1364.10,783.91 L1364.50,783.56 L1364.90,783.20 L1365.30,782.85 L1365.70,782.50 L1365.81,782.40 M1377.72,771.72 L1378.10,771.37 L1378.50,771.01 L1378.90,770.64 L1379.30,770.28 L1379.70,769.91 L1380.10,769.55 L1380.50,769.18 L1380.90,768.81 L1381.30,768.45 L1381.48,768.28 M1393.55,757.05 L1393.70,756.91 L1394.10,756.53 L1394.50,756.15 L1394.90,755.77 L1395.30,755.39 L1395.70,755.02 L1396.10,754.64 L1396.50,754.26 L1396.90,753.88 L1397.25,753.55 M1409.77,741.52 L1410.10,741.20 L1410.50,740.81 L1410.90,740.43 L1411.30,740.04 L1411.70,739.65 L1412.10,739.26 L1412.50,738.87 L1412.90,738.48 L1413.30,738.09 L1413.43,737.96 M1426.59,724.99 L1426.90,724.68 L1427.30,724.29 L1427.70,723.89 L1428.10,723.49 L1428.50,723.09 L1428.90,722.69 L1429.30,722.29 L1429.70,721.89 L1430.10,721.49 L1430.21,721.39 M1440.21,711.35 L1440.50,711.05 L1440.77,710.78" fill="none" stroke="#128282" stroke-width="3.5" stroke-linecap="round" stroke-linejoin="round" clip-path="url(#cd)"/>
<path d="M926.10,896.37 L927.60,896.21 L929.10,896.05 L930.60,895.91 L932.10,895.77 L933.60,895.63 L935.10,895.50 L936.60,895.38 L938.10,895.27 L939.60,895.16 L941.10,895.05 L942.60,894.96 L944.10,894.87 L945.60,894.78 L947.10,894.70 L948.60,894.63 L950.10,894.56 L951.60,894.50 L953.10,894.44 L954.60,894.39 L956.10,894.34 L957.60,894.30 L959.10,894.26 L960.60,894.22 L962.10,894.20 L963.60,894.17 L965.10,894.15 L966.60,894.13 L968.10,894.12 L969.60,894.12 L971.10,894.11 L972.60,894.11 L974.10,894.11 L975.60,894.12 L977.10,894.13 L978.60,894.15 L980.10,894.16 L981.60,894.18 L983.10,894.21 L984.60,894.23 L986.10,894.26 L987.60,894.29 L989.10,894.33 L990.60,894.36 L992.10,894.40 L993.60,894.44 L995.10,894.49 L996.60,894.53 L998.10,894.58 L999.60,894.63 L1001.10,894.68 L1002.60,894.73 L1004.10,894.78 L1005.60,894.84 L1007.10,894.89 L1008.60,894.95 L1010.10,895.01 L1011.60,895.06 L1013.10,895.12 L1014.60,895.18 L1016.10,895.24 L1017.60,895.31 L1019.10,895.37 L1020.60,895.43 L1022.10,895.49 L1023.60,895.55 L1025.10,895.61 L1026.60,895.67 L1028.10,895.73 L1029.60,895.79 L1031.10,895.85 L1032.60,895.91 L1034.10,895.97 L1035.60,896.03 L1037.10,896.09 L1038.60,896.14 L1040.10,896.19 L1041.60,896.25 L1043.10,896.30 L1044.60,896.35 L1046.10,896.39 L1047.60,896.44 L1049.10,896.48 L1050.60,896.53 L1052.10,896.57 L1053.60,896.60 L1055.10,896.64 L1056.60,896.67 L1058.10,896.70 L1059.60,896.73 L1061.10,896.75 L1062.60,896.77 L1064.10,896.79 L1065.60,896.81 L1067.10,896.82 L1068.60,896.83 L1070.10,896.83 L1071.60,896.83 L1073.10,896.83 L1074.60,896.83 L1076.10,896.82 L1077.60,896.80 L1079.10,896.78 L1080.60,896.76 L1082.10,896.73 L1083.60,896.70 L1085.10,896.67 L1086.60,896.63 L1088.10,896.58 L1089.60,896.53 L1091.10,896.47 L1092.60,896.41 L1094.10,896.35 L1095.60,896.28 L1097.10,896.20 L1098.60,896.12 L1100.10,896.03 L1101.60,895.93 L1103.10,895.83 L1104.60,895.73 L1106.10,895.61 L1107.60,895.50 L1109.10,895.37 L1110.60,895.24 L1112.10,895.10 L1113.60,894.96 L1115.10,894.80 L1116.60,894.65 L1118.10,894.48 L1119.60,894.31 L1121.10,894.13 L1122.60,893.94 L1124.10,893.74 L1125.60,893.54 L1127.10,893.33 L1128.60,893.11 L1130.10,892.88 L1131.60,892.65 L1133.10,892.41 L1134.60,892.16 L1136.10,891.90 L1137.60,891.63 L1139.10,891.35 L1140.60,891.07 L1142.10,890.77 L1143.60,890.47 L1145.10,890.16 L1146.60,889.83 L1148.10,889.50 L1149.60,889.16 L1151.10,888.81 L1152.60,888.45 L1154.10,888.08 L1155.60,887.71 L1157.10,887.32 L1158.60,886.92 L1160.10,886.51 L1161.60,886.09 L1163.10,885.66 L1164.60,885.22 L1166.10,884.77 L1167.60,884.30 L1169.10,883.83 L1170.60,883.35 L1172.10,882.85 L1173.60,882.34 L1175.10,881.83 L1176.60,881.30 L1178.10,880.75 L1179.60,880.20 L1181.10,879.64 L1182.60,879.06 L1184.10,878.47 L1185.60,877.87 L1187.10,877.25 L1188.60,876.63 L1190.10,875.99 L1191.60,875.34 L1193.10,874.67 L1194.60,873.99 L1196.10,873.30 L1197.60,872.60 L1199.10,871.88 L1200.60,871.15 L1202.10,870.41 L1203.60,869.65 L1205.10,868.88 L1206.60,868.09 L1208.10,867.29 L1209.60,866.48 L1211.10,865.65 L1212.60,864.81 L1214.10,863.95 L1215.60,863.08 L1217.10,862.19 L1218.60,861.29 L1220.10,860.37 L1221.60,859.44 L1223.10,858.49 L1224.60,857.53 L1226.10,856.55 L1227.60,855.56 L1229.10,854.55 L1230.60,853.52 L1232.10,852.48 L1233.60,851.42 L1235.10,850.35 L1236.60,849.26 L1238.10,848.15 L1239.60,847.03 L1241.10,845.89 L1242.60,844.74 L1244.10,843.57 L1245.60,842.38 L1247.10,841.18 L1248.60,839.96 L1250.10,838.72 L1251.60,837.47 L1253.10,836.21 L1254.60,834.93 L1256.10,833.63 L1257.60,832.32 L1259.10,830.99 L1260.60,829.65 L1262.10,828.29 L1263.60,826.92 L1265.10,825.53 L1266.60,824.13 L1268.10,822.71 L1269.60,821.28 L1271.10,819.84 L1272.60,818.38 L1274.10,816.90 L1275.60,815.41 L1277.10,813.91 L1278.60,812.39 L1280.10,810.85 L1281.60,809.31 L1283.10,807.75 L1284.60,806.17 L1286.10,804.58 L1287.60,802.98 L1289.10,801.36 L1290.60,799.73 L1292.10,798.09 L1293.60,796.43 L1295.10,794.76 L1296.60,793.08 L1298.10,791.38 L1299.60,789.67 L1301.10,787.94 L1302.60,786.20 L1304.10,784.45 L1305.60,782.69 L1307.10,780.91 L1308.60,779.12 L1310.10,777.32 L1311.60,775.51 L1313.10,773.68 L1314.60,771.84 L1316.10,769.99 L1317.60,768.12 L1319.10,766.25 L1320.60,764.36 L1322.10,762.46 L1323.60,760.54 L1325.10,758.62 L1326.60,756.68 L1328.10,754.73 L1329.60,752.77 L1331.10,750.80 L1332.60,748.81 L1334.10,746.82 L1335.60,744.81 L1337.10,742.79 L1338.60,740.76 L1340.10,738.72 L1341.60,736.67 L1343.10,734.61 L1344.60,732.53 L1346.10,730.44 L1347.60,728.35 L1349.10,726.24 L1350.60,724.12 L1352.10,721.99 L1353.60,719.85 L1355.10,717.70 L1356.60,715.54 L1358.10,713.38 L1359.60,711.20 L1361.10,709.01 L1362.60,706.81 L1364.10,704.60 L1365.60,702.38 L1367.10,700.16 L1368.60,697.92 L1370.10,695.68 L1371.60,693.42 L1373.10,691.16 L1374.60,688.89 L1376.10,686.61 L1377.60,684.33 L1379.10,682.04 L1380.60,679.73 L1382.10,677.43 L1383.60,675.11 L1385.10,672.79 L1386.60,670.46 L1388.10,668.12 L1389.60,665.78 L1391.10,663.42 L1392.60,661.07 L1394.10,658.70 L1395.60,656.34 L1397.10,653.96 L1398.60,651.58 L1400.10,649.19 L1401.60,646.80 L1403.10,644.40 L1404.60,642.00 L1406.10,639.59 L1407.60,637.18 L1409.10,634.76 L1410.60,632.34 L1412.10,629.91 L1413.60,627.48 L1415.10,625.05 L1416.60,622.61 L1418.10,620.17 L1419.60,617.72 L1421.10,615.27 L1422.60,612.82 L1424.10,610.36 L1425.60,607.90 L1427.10,605.44 L1428.60,602.98 L1430.10,600.51 L1431.60,598.04 L1433.10,595.57 L1434.60,593.10 L1436.10,590.62 L1437.60,588.14 L1439.10,585.66 L1440.60,583.18 L1442.00,580.87" fill="none" stroke="#d81ed8" stroke-width="3.6" stroke-linecap="round" stroke-linejoin="round" stroke-dasharray="0.01 8.1" clip-path="url(#cd)"/>
<text transform="translate(960.91,582.60) scale(1.05,1)" style="font-family:'Liberation Serif', serif;font-weight:normal;font-size:21.3px" fill="#000">Δ</text>
<text transform="translate(974.53,582.60) scale(1.04,1)" style="font-family:'Liberation Sans', sans-serif;font-weight:normal;font-size:23.2px" fill="#000">c</text>
<line x1="994.35" y1="575.40" x2="1046.15" y2="575.40" stroke="#000000" stroke-width="4.1" stroke-linecap="round"/>
<text transform="translate(1053.32,582.60) scale(1.04,1)" style="font-family:'Liberation Sans', sans-serif;font-weight:normal;font-size:23.2px" fill="#000">40 nm</text>
<line x1="1127.75" y1="575.30" x2="1141.85" y2="575.30" stroke="#f00000" stroke-width="4.1" stroke-linecap="round"/>
<line x1="1162.85" y1="575.30" x2="1177.25" y2="575.30" stroke="#f00000" stroke-width="4.1" stroke-linecap="round"/>
<text transform="translate(1193.13,582.60) scale(1.04,1)" style="font-family:'Liberation Sans', sans-serif;font-weight:normal;font-size:23.2px" fill="#000">50 nm</text>
<line x1="1268.10" y1="575.10" x2="1270.10" y2="575.10" stroke="#0000d8" stroke-width="3.8" stroke-linecap="round"/>
<line x1="1289.30" y1="575.10" x2="1291.30" y2="575.10" stroke="#0000d8" stroke-width="3.8" stroke-linecap="round"/>
<line x1="1310.20" y1="575.10" x2="1312.10" y2="575.10" stroke="#0000d8" stroke-width="3.8" stroke-linecap="round"/>
<text transform="translate(1326.39,582.60) scale(1.04,1)" style="font-family:'Liberation Sans', sans-serif;font-weight:normal;font-size:23.2px" fill="#000">60 nm</text>
<line x1="961.60" y1="603.10" x2="966.70" y2="603.10" stroke="#128282" stroke-width="3.8" stroke-linecap="round"/>
<line x1="978.40" y1="603.10" x2="982.60" y2="603.10" stroke="#128282" stroke-width="3.8" stroke-linecap="round"/>
<line x1="994.30" y1="603.10" x2="998.50" y2="603.10" stroke="#128282" stroke-width="3.8" stroke-linecap="round"/>
<line x1="1010.30" y1="603.10" x2="1014.40" y2="603.10" stroke="#128282" stroke-width="3.8" stroke-linecap="round"/>
<text transform="translate(1021.29,610.90) scale(1.04,1)" style="font-family:'Liberation Sans', sans-serif;font-weight:normal;font-size:23.2px" fill="#000">70 nm</text>
<circle cx="1094.70" cy="603.30" r="1.80" fill="#d81ed8"/>
<circle cx="1101.77" cy="603.30" r="1.80" fill="#d81ed8"/>
<circle cx="1108.84" cy="603.30" r="1.80" fill="#d81ed8"/>
<circle cx="1115.91" cy="603.30" r="1.80" fill="#d81ed8"/>
<circle cx="1122.99" cy="603.30" r="1.80" fill="#d81ed8"/>
<circle cx="1130.06" cy="603.30" r="1.80" fill="#d81ed8"/>
<circle cx="1137.13" cy="603.30" r="1.80" fill="#d81ed8"/>
<circle cx="1144.20" cy="603.30" r="1.80" fill="#d81ed8"/>
<text transform="translate(1154.51,610.90) scale(1.04,1)" style="font-family:'Liberation Sans', sans-serif;font-weight:normal;font-size:23.2px" fill="#000">80 nm</text>
</svg>
</body></html>
